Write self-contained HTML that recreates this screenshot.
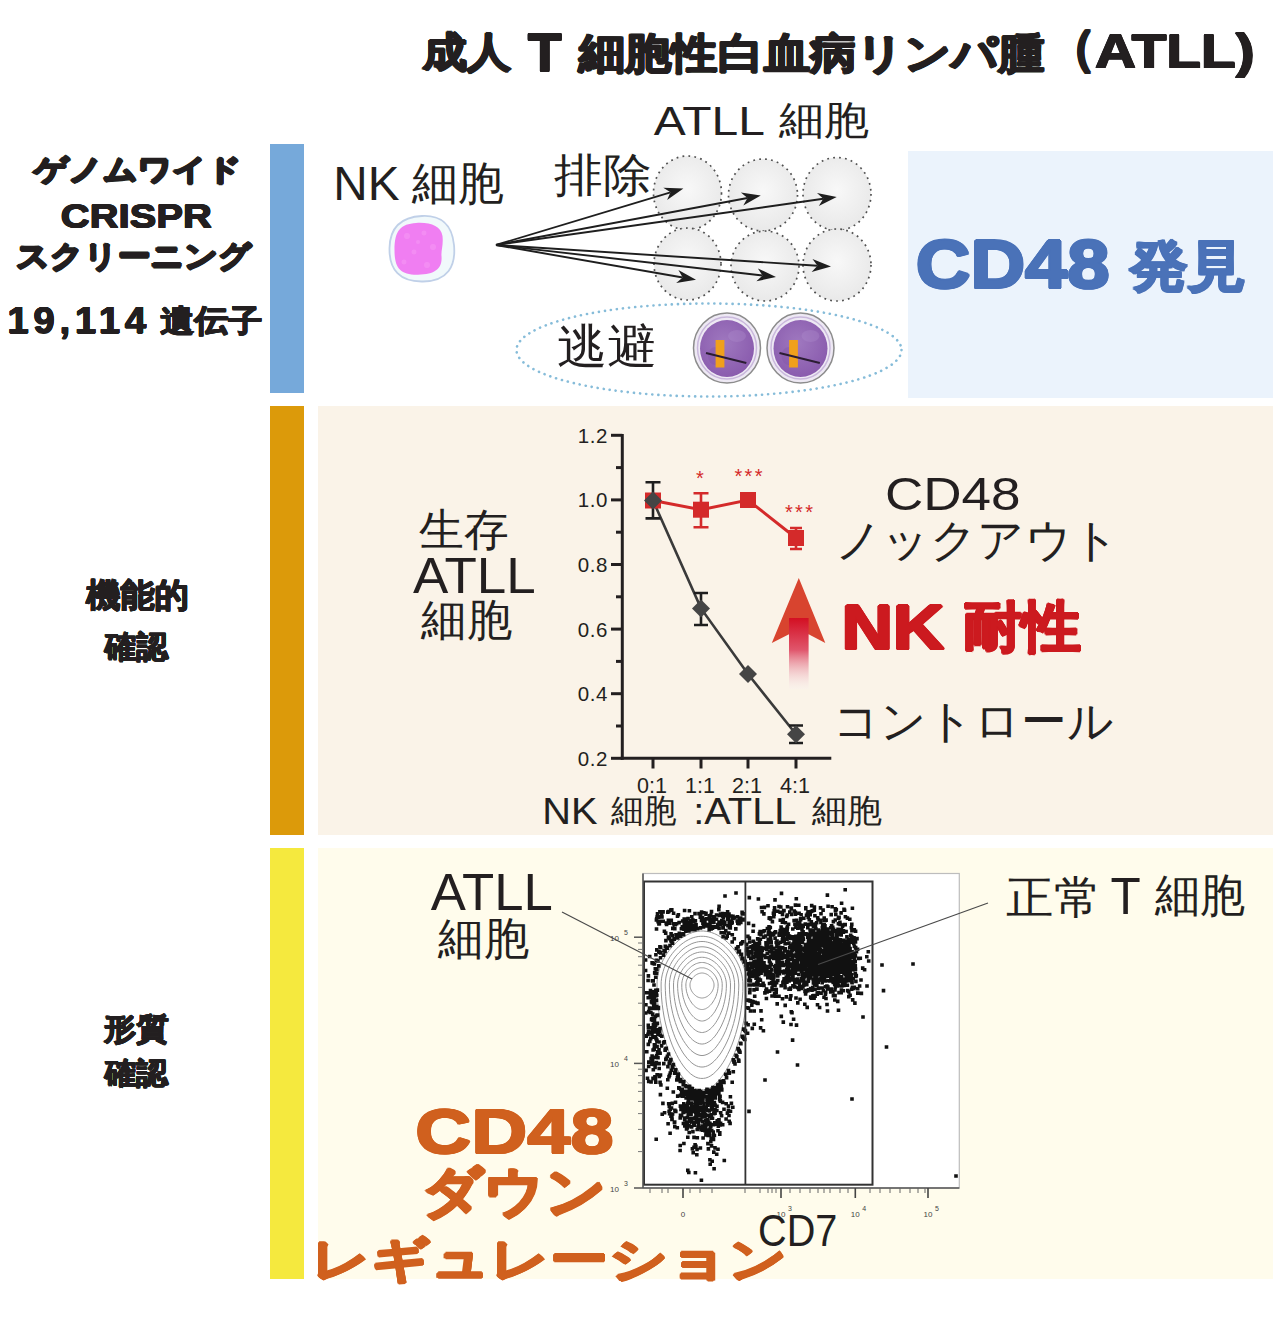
<!DOCTYPE html>
<html><head><meta charset="utf-8">
<style>
html,body{margin:0;padding:0;background:#fff;}
body{width:1280px;height:1324px;position:relative;overflow:hidden;font-family:"Liberation Sans",sans-serif;color:#231f20;}
.p{position:absolute;}
.t{position:absolute;left:0;top:0;white-space:nowrap;line-height:1;transform-origin:0 0;}
svg{position:absolute;left:0;top:0;}
</style></head><body>
<div class="p" style="left:270px;top:144px;width:34px;height:249px;background:#76a9da"></div>
<div class="p" style="left:270px;top:406px;width:34px;height:429px;background:#dc9a0a"></div>
<div class="p" style="left:270px;top:848px;width:34px;height:431px;background:#f5e93e"></div>
<div class="p" style="left:908px;top:151px;width:365px;height:247px;background:#ebf3fc"></div>
<div class="p" style="left:318px;top:406px;width:955px;height:429px;background:#faf3e8"></div>
<div class="p" style="left:318px;top:848px;width:955px;height:431px;background:#fffcec"></div>
<svg width="1280" height="1324" viewBox="0 0 1280 1324">
<defs><radialGradient id="cg" cx="50%" cy="45%" r="55%"><stop offset="0" stop-color="#f8f8f8"/><stop offset="1" stop-color="#e9e9e9"/></radialGradient><linearGradient id="shaft" x1="0" y1="0" x2="0" y2="1"><stop offset="0" stop-color="#d30f22"/><stop offset="0.45" stop-color="#e0566c"/><stop offset="1" stop-color="#f7eef0" stop-opacity="0.2"/></linearGradient><radialGradient id="pg" cx="45%" cy="40%" r="60%"><stop offset="0" stop-color="#9f78bf"/><stop offset="1" stop-color="#8a5cae"/></radialGradient></defs>
<ellipse cx="687.5" cy="193" rx="34" ry="37" fill="url(#cg)" stroke="#505050" stroke-width="1.7" stroke-dasharray="1.8 4.2"/>
<ellipse cx="763" cy="195" rx="34.5" ry="36" fill="url(#cg)" stroke="#505050" stroke-width="1.7" stroke-dasharray="1.8 4.2"/>
<ellipse cx="837" cy="194" rx="34" ry="36.5" fill="url(#cg)" stroke="#505050" stroke-width="1.7" stroke-dasharray="1.8 4.2"/>
<ellipse cx="687.5" cy="264" rx="33.5" ry="36" fill="url(#cg)" stroke="#505050" stroke-width="1.7" stroke-dasharray="1.8 4.2"/>
<ellipse cx="765" cy="266" rx="34" ry="35" fill="url(#cg)" stroke="#505050" stroke-width="1.7" stroke-dasharray="1.8 4.2"/>
<ellipse cx="837" cy="265" rx="34" ry="36" fill="url(#cg)" stroke="#505050" stroke-width="1.7" stroke-dasharray="1.8 4.2"/>
<line x1="496.0" y1="245.0" x2="670.5" y2="192.3" stroke="#1e1e1e" stroke-width="1.9"/>
<path d="M683.4 188.4L667.1 200.1L670.5 192.3L663.3 187.7Z" fill="#1e1e1e"/>
<line x1="496.0" y1="245.0" x2="747.5" y2="198.0" stroke="#1e1e1e" stroke-width="1.9"/>
<path d="M760.8 195.5L743.3 205.4L747.5 198.0L740.9 192.6Z" fill="#1e1e1e"/>
<line x1="496.0" y1="245.0" x2="823.3" y2="198.8" stroke="#1e1e1e" stroke-width="1.9"/>
<path d="M836.7 196.9L818.8 206.0L823.3 198.8L817.0 193.1Z" fill="#1e1e1e"/>
<line x1="496.0" y1="245.0" x2="817.5" y2="265.7" stroke="#1e1e1e" stroke-width="1.9"/>
<path d="M831.0 266.6L811.6 271.9L817.5 265.7L812.5 258.9Z" fill="#1e1e1e"/>
<line x1="496.0" y1="245.0" x2="762.6" y2="275.5" stroke="#1e1e1e" stroke-width="1.9"/>
<path d="M776.0 277.0L756.4 281.3L762.6 275.5L757.9 268.4Z" fill="#1e1e1e"/>
<line x1="496.0" y1="245.0" x2="682.7" y2="277.5" stroke="#1e1e1e" stroke-width="1.9"/>
<path d="M696.0 279.8L676.2 282.9L682.7 277.5L678.4 270.1Z" fill="#1e1e1e"/>
<path d="M422 216 C440 215 452 224 454 245 C456 266 448 281 423 281.5 C400 282 389 270 389.5 248 C390 226 402 217 422 216Z" fill="#f1f9fb" stroke="#c0d0e8" stroke-width="1.8"/>
<path d="M416 223 C430 222 441 226 442.5 236 C443.5 246 441 250 441.5 256 C442.5 268 436 274.5 418 274.7 C400 275 394.5 268 394.5 250 C394.5 230 401 224 416 223Z" fill="#f07ef2"/>
<circle cx="407" cy="236" r="3" fill="#f7a2f6" opacity="0.4"/>
<circle cx="424" cy="233" r="2.5" fill="#f7a2f6" opacity="0.4"/>
<circle cx="433" cy="247" r="3" fill="#f7a2f6" opacity="0.4"/>
<circle cx="414" cy="252" r="2.5" fill="#f7a2f6" opacity="0.4"/>
<circle cx="404" cy="262" r="2.5" fill="#f7a2f6" opacity="0.4"/>
<circle cx="427" cy="265" r="3" fill="#f7a2f6" opacity="0.4"/>
<circle cx="418" cy="242" r="2" fill="#f7a2f6" opacity="0.4"/>
<ellipse cx="709" cy="350" rx="192.5" ry="46.5" fill="none" stroke="#86bcd9" stroke-width="2.6" stroke-linecap="round" stroke-dasharray="0.1 6"/>
<ellipse cx="727" cy="348" rx="33.5" ry="35" fill="#eee9f4" stroke="#8c8c8c" stroke-width="1.5"/>
<ellipse cx="727" cy="348" rx="29.5" ry="31" fill="none" stroke="#c9b8dc" stroke-width="1.5"/>
<ellipse cx="727" cy="348.5" rx="27" ry="28.5" fill="url(#pg)"/>
<ellipse cx="737" cy="336" rx="9" ry="6" fill="#b291cf" opacity="0.3"/>
<ellipse cx="715" cy="356" rx="7" ry="9" fill="#7d4fa3" opacity="0.3"/>
<rect x="715.6" y="340" width="8.8" height="27.5" fill="#f0a01c"/>
<line x1="706.0" y1="353" x2="746.3" y2="363" stroke="#2b1d33" stroke-width="2"/>
<ellipse cx="800.5" cy="348" rx="33.5" ry="35" fill="#eee9f4" stroke="#8c8c8c" stroke-width="1.5"/>
<ellipse cx="800.5" cy="348" rx="29.5" ry="31" fill="none" stroke="#c9b8dc" stroke-width="1.5"/>
<ellipse cx="800.5" cy="348.5" rx="27" ry="28.5" fill="url(#pg)"/>
<ellipse cx="810.5" cy="336" rx="9" ry="6" fill="#b291cf" opacity="0.3"/>
<ellipse cx="788.5" cy="356" rx="7" ry="9" fill="#7d4fa3" opacity="0.3"/>
<rect x="789.1" y="340" width="8.8" height="27.5" fill="#f0a01c"/>
<line x1="779.5" y1="353" x2="819.8" y2="363" stroke="#2b1d33" stroke-width="2"/>
<g stroke="#231f20" stroke-width="3" fill="none">
<line x1="622.3" y1="434" x2="622.3" y2="759.8"/>
<line x1="620.8" y1="758.3" x2="831.3" y2="758.3"/>
<line x1="611" y1="435.3" x2="622.3" y2="435.3"/>
<line x1="616" y1="467.6" x2="622.3" y2="467.6"/>
<line x1="611" y1="499.9" x2="622.3" y2="499.9"/>
<line x1="616" y1="532.2" x2="622.3" y2="532.2"/>
<line x1="611" y1="564.5" x2="622.3" y2="564.5"/>
<line x1="616" y1="596.8" x2="622.3" y2="596.8"/>
<line x1="611" y1="629.1" x2="622.3" y2="629.1"/>
<line x1="616" y1="661.4" x2="622.3" y2="661.4"/>
<line x1="611" y1="693.7" x2="622.3" y2="693.7"/>
<line x1="616" y1="726.0" x2="622.3" y2="726.0"/>
<line x1="611" y1="758.3" x2="622.3" y2="758.3"/>
<line x1="653" y1="758.3" x2="653" y2="768.5"/>
<line x1="701" y1="758.3" x2="701" y2="768.5"/>
<line x1="748" y1="758.3" x2="748" y2="768.5"/>
<line x1="796" y1="758.3" x2="796" y2="768.5"/>
</g>
<g font-family="Liberation Sans" font-size="20.5" fill="#231f20" text-anchor="end" letter-spacing="0.6">
<text x="608" y="442.8">1.2</text>
<text x="608" y="507.4">1.0</text>
<text x="608" y="572.0">0.8</text>
<text x="608" y="636.6">0.6</text>
<text x="608" y="701.2">0.4</text>
<text x="608" y="765.8">0.2</text>
</g>
<g font-family="Liberation Sans" font-size="21.5" fill="#231f20" text-anchor="middle">
<text x="652" y="792.5">0:1</text>
<text x="700" y="792.5">1:1</text>
<text x="747" y="792.5">2:1</text>
<text x="795" y="792.5">4:1</text>
</g>
<polyline points="653,500.5 701,509.7 748,500 796,538" fill="none" stroke="#d42a2a" stroke-width="3"/>
<polyline points="653,500.5 701,608.4 748,674 796,734.2" fill="none" stroke="#3a3a3a" stroke-width="2.6"/>
<path d="M701 493.3V527.2 M693.5 493.3H708.5 M693.5 527.2H708.5" stroke="#d42a2a" stroke-width="2.6" fill="none"/>
<path d="M796 528V549 M790.0 528H802.0 M790.0 549H802.0" stroke="#d42a2a" stroke-width="2.6" fill="none"/>
<rect x="645.0" y="492.5" width="16" height="16" fill="#d42a2a"/>
<rect x="693.0" y="501.7" width="16" height="16" fill="#d42a2a"/>
<rect x="740.0" y="492.0" width="16" height="16" fill="#d42a2a"/>
<rect x="788.0" y="530.0" width="16" height="16" fill="#d42a2a"/>
<path d="M653 482.3V518.4 M645.5 482.3H660.5 M645.5 518.4H660.5" stroke="#1e1e1e" stroke-width="2.6" fill="none"/>
<path d="M701 593V625 M694.0 593H708.0 M694.0 625H708.0" stroke="#1e1e1e" stroke-width="2.6" fill="none"/>
<path d="M796 725.5V743 M789.0 725.5H803.0 M789.0 743H803.0" stroke="#1e1e1e" stroke-width="2.6" fill="none"/>
<path d="M653 491.5L662 500.5L653 509.5L644 500.5Z" fill="#454545"/>
<path d="M701 599.4L710 608.4L701 617.4L692 608.4Z" fill="#454545"/>
<path d="M748 665L757 674L748 683L739 674Z" fill="#454545"/>
<path d="M796 725.2L805 734.2L796 743.2L787 734.2Z" fill="#454545"/>
<g font-family="Liberation Sans" font-size="20" fill="#d42a2a">
<text x="696" y="484.5">*</text><text x="734.5" y="482.5" letter-spacing="2.3">***</text><text x="785" y="518.7" letter-spacing="2.3">***</text>
</g>
<path d="M798.8 578L825.3 643.1L808.6 634.3L789 634.3L771.8 643.1Z" fill="#d8442f"/>
<rect x="789" y="618" width="19.6" height="71" fill="url(#shaft)"/>
<rect x="643" y="873.5" width="316.3" height="314.5" fill="#ffffff" stroke="#bdbdbd" stroke-width="1.2"/>
<path d="M747.0 985.0 L746.9 992.3 L746.5 999.6 L745.8 1006.8 L744.9 1013.9 L743.7 1020.9 L742.3 1027.7 L740.7 1034.3 L738.9 1040.6 L736.9 1046.7 L734.8 1052.5 L732.5 1057.9 L730.1 1063.0 L727.6 1067.7 L725.1 1072.0 L722.5 1075.9 L719.8 1079.4 L717.1 1082.4 L714.4 1084.9 L711.7 1086.9 L708.9 1088.4 L706.1 1089.4 L703.4 1089.9 L700.6 1089.9 L697.9 1089.4 L695.1 1088.4 L692.3 1086.9 L689.6 1084.9 L686.9 1082.4 L684.2 1079.4 L681.5 1075.9 L678.9 1072.0 L676.4 1067.7 L673.9 1063.0 L671.5 1057.9 L669.2 1052.5 L667.1 1046.7 L665.1 1040.6 L663.3 1034.3 L661.7 1027.7 L660.3 1020.9 L659.1 1013.9 L658.2 1006.8 L657.5 999.6 L657.1 992.3 L657.0 985.0 L657.1 981.2 L657.5 977.5 L658.2 973.8 L659.1 970.1 L660.3 966.5 L661.7 963.0 L663.3 959.6 L665.1 956.4 L667.1 953.3 L669.2 950.3 L671.5 947.5 L673.9 944.9 L676.4 942.4 L678.9 940.2 L681.5 938.2 L684.2 936.5 L686.9 934.9 L689.6 933.6 L692.3 932.6 L695.1 931.8 L697.9 931.3 L700.6 931.0 L703.4 931.0 L706.1 931.3 L708.9 931.8 L711.7 932.6 L714.4 933.6 L717.1 934.9 L719.8 936.5 L722.5 938.2 L725.1 940.2 L727.6 942.4 L730.1 944.9 L732.5 947.5 L734.8 950.3 L736.9 953.3 L738.9 956.4 L740.7 959.6 L742.3 963.0 L743.7 966.5 L744.9 970.1 L745.8 973.8 L746.5 977.5 L746.9 981.2Z" fill="#fff" stroke="#959595" stroke-width="1"/>
<path d="M742.9 985.0 L742.8 991.5 L742.4 998.0 L741.8 1004.4 L740.9 1010.8 L739.9 1017.0 L738.6 1023.0 L737.1 1028.9 L735.5 1034.5 L733.7 1040.0 L731.8 1045.1 L729.7 1050.0 L727.5 1054.5 L725.3 1058.7 L723.0 1062.5 L720.6 1066.0 L718.2 1069.0 L715.7 1071.7 L713.3 1073.9 L710.8 1075.7 L708.3 1077.1 L705.8 1078.0 L703.3 1078.4 L700.7 1078.4 L698.2 1078.0 L695.7 1077.1 L693.2 1075.7 L690.7 1073.9 L688.3 1071.7 L685.8 1069.0 L683.4 1066.0 L681.0 1062.5 L678.7 1058.7 L676.5 1054.5 L674.3 1050.0 L672.2 1045.1 L670.3 1040.0 L668.5 1034.5 L666.9 1028.9 L665.4 1023.0 L664.1 1017.0 L663.1 1010.8 L662.2 1004.4 L661.6 998.0 L661.2 991.5 L661.1 985.0 L661.2 981.6 L661.6 978.2 L662.2 974.9 L663.1 971.6 L664.1 968.3 L665.4 965.2 L666.9 962.1 L668.5 959.2 L670.3 956.3 L672.2 953.7 L674.3 951.1 L676.5 948.8 L678.7 946.6 L681.0 944.6 L683.4 942.8 L685.8 941.2 L688.3 939.8 L690.7 938.6 L693.2 937.7 L695.7 937.0 L698.2 936.5 L700.7 936.3 L703.3 936.3 L705.8 936.5 L708.3 937.0 L710.8 937.7 L713.3 938.6 L715.7 939.8 L718.2 941.2 L720.6 942.8 L723.0 944.6 L725.3 946.6 L727.5 948.8 L729.7 951.1 L731.8 953.7 L733.7 956.3 L735.5 959.2 L737.1 962.1 L738.6 965.2 L739.9 968.3 L740.9 971.6 L741.8 974.9 L742.4 978.2 L742.8 981.6Z" fill="none" stroke="#959595" stroke-width="1"/>
<path d="M738.8 985.0 L738.6 990.7 L738.3 996.4 L737.8 1002.0 L737.0 1007.6 L736.0 1013.0 L734.9 1018.4 L733.6 1023.5 L732.1 1028.5 L730.5 1033.2 L728.8 1037.7 L726.9 1042.0 L725.0 1045.9 L722.9 1049.6 L720.9 1053.0 L718.7 1056.0 L716.5 1058.7 L714.3 1061.0 L712.1 1063.0 L709.9 1064.6 L707.6 1065.8 L705.4 1066.6 L703.1 1067.0 L700.9 1067.0 L698.6 1066.6 L696.4 1065.8 L694.1 1064.6 L691.9 1063.0 L689.7 1061.0 L687.5 1058.7 L685.3 1056.0 L683.1 1053.0 L681.1 1049.6 L679.0 1045.9 L677.1 1042.0 L675.2 1037.7 L673.5 1033.2 L671.9 1028.5 L670.4 1023.5 L669.1 1018.4 L668.0 1013.0 L667.0 1007.6 L666.2 1002.0 L665.7 996.4 L665.4 990.7 L665.2 985.0 L665.4 982.0 L665.7 978.9 L666.2 976.0 L667.0 973.0 L668.0 970.1 L669.1 967.3 L670.4 964.6 L671.9 961.9 L673.5 959.4 L675.2 957.0 L677.1 954.8 L679.0 952.7 L681.1 950.7 L683.1 948.9 L685.3 947.3 L687.5 945.9 L689.7 944.7 L691.9 943.6 L694.1 942.8 L696.4 942.2 L698.6 941.7 L700.9 941.5 L703.1 941.5 L705.4 941.7 L707.6 942.2 L709.9 942.8 L712.1 943.6 L714.3 944.7 L716.5 945.9 L718.7 947.3 L720.9 948.9 L722.9 950.7 L725.0 952.7 L726.9 954.8 L728.8 957.0 L730.5 959.4 L732.1 961.9 L733.6 964.6 L734.9 967.3 L736.0 970.1 L737.0 973.0 L737.8 976.0 L738.3 978.9 L738.6 982.0Z" fill="none" stroke="#959595" stroke-width="1"/>
<path d="M734.6 985.0 L734.5 989.9 L734.2 994.8 L733.7 999.7 L733.1 1004.4 L732.2 1009.1 L731.2 1013.7 L730.0 1018.1 L728.7 1022.4 L727.3 1026.4 L725.8 1030.3 L724.1 1034.0 L722.4 1037.4 L720.6 1040.6 L718.7 1043.4 L716.8 1046.1 L714.9 1048.4 L713.0 1050.4 L711.0 1052.0 L709.0 1053.4 L707.0 1054.4 L705.0 1055.1 L703.0 1055.5 L701.0 1055.5 L699.0 1055.1 L697.0 1054.4 L695.0 1053.4 L693.0 1052.0 L691.0 1050.4 L689.1 1048.4 L687.2 1046.1 L685.3 1043.4 L683.4 1040.6 L681.6 1037.4 L679.9 1034.0 L678.2 1030.3 L676.7 1026.4 L675.3 1022.4 L674.0 1018.1 L672.8 1013.7 L671.8 1009.1 L670.9 1004.4 L670.3 999.7 L669.8 994.8 L669.5 989.9 L669.4 985.0 L669.5 982.3 L669.8 979.7 L670.3 977.0 L670.9 974.5 L671.8 971.9 L672.8 969.4 L674.0 967.0 L675.3 964.7 L676.7 962.5 L678.2 960.4 L679.9 958.4 L681.6 956.6 L683.4 954.9 L685.3 953.3 L687.2 951.9 L689.1 950.6 L691.0 949.5 L693.0 948.6 L695.0 947.9 L697.0 947.3 L699.0 947.0 L701.0 946.8 L703.0 946.8 L705.0 947.0 L707.0 947.3 L709.0 947.9 L711.0 948.6 L713.0 949.5 L714.9 950.6 L716.8 951.9 L718.7 953.3 L720.6 954.9 L722.4 956.6 L724.1 958.4 L725.8 960.4 L727.3 962.5 L728.7 964.7 L730.0 967.0 L731.2 969.4 L732.2 971.9 L733.1 974.5 L733.7 977.0 L734.2 979.7 L734.5 982.3Z" fill="none" stroke="#959595" stroke-width="1"/>
<path d="M730.5 985.0 L730.4 989.1 L730.2 993.2 L729.7 997.3 L729.1 1001.3 L728.4 1005.2 L727.5 1009.0 L726.5 1012.7 L725.4 1016.3 L724.1 1019.7 L722.7 1022.9 L721.3 1026.0 L719.8 1028.8 L718.2 1031.5 L716.6 1033.9 L715.0 1036.1 L713.3 1038.0 L711.6 1039.7 L709.9 1041.1 L708.1 1042.2 L706.4 1043.1 L704.6 1043.7 L702.9 1044.0 L701.1 1044.0 L699.4 1043.7 L697.6 1043.1 L695.9 1042.2 L694.1 1041.1 L692.4 1039.7 L690.7 1038.0 L689.0 1036.1 L687.4 1033.9 L685.8 1031.5 L684.2 1028.8 L682.7 1026.0 L681.3 1022.9 L679.9 1019.7 L678.6 1016.3 L677.5 1012.7 L676.5 1009.0 L675.6 1005.2 L674.9 1001.3 L674.3 997.3 L673.8 993.2 L673.6 989.1 L673.5 985.0 L673.6 982.7 L673.8 980.4 L674.3 978.1 L674.9 975.9 L675.6 973.7 L676.5 971.6 L677.5 969.5 L678.6 967.5 L679.9 965.6 L681.3 963.8 L682.7 962.1 L684.2 960.5 L685.8 959.0 L687.4 957.6 L689.0 956.4 L690.7 955.3 L692.4 954.4 L694.1 953.6 L695.9 953.0 L697.6 952.5 L699.4 952.2 L701.1 952.0 L702.9 952.0 L704.6 952.2 L706.4 952.5 L708.1 953.0 L709.9 953.6 L711.6 954.4 L713.3 955.3 L715.0 956.4 L716.6 957.6 L718.2 959.0 L719.8 960.5 L721.3 962.1 L722.7 963.8 L724.1 965.6 L725.4 967.5 L726.5 969.5 L727.5 971.6 L728.4 973.7 L729.1 975.9 L729.7 978.1 L730.2 980.4 L730.4 982.7Z" fill="none" stroke="#959595" stroke-width="1"/>
<path d="M726.4 985.0 L726.3 988.3 L726.1 991.6 L725.7 994.9 L725.2 998.1 L724.6 1001.2 L723.8 1004.3 L723.0 1007.3 L722.0 1010.2 L720.9 1012.9 L719.7 1015.5 L718.5 1018.0 L717.2 1020.3 L715.9 1022.4 L714.5 1024.4 L713.1 1026.1 L711.6 1027.7 L710.2 1029.0 L708.7 1030.2 L707.2 1031.1 L705.7 1031.8 L704.2 1032.2 L702.7 1032.5 L701.3 1032.5 L699.8 1032.2 L698.3 1031.8 L696.8 1031.1 L695.3 1030.2 L693.8 1029.0 L692.4 1027.7 L690.9 1026.1 L689.5 1024.4 L688.1 1022.4 L686.8 1020.3 L685.5 1018.0 L684.3 1015.5 L683.1 1012.9 L682.0 1010.2 L681.0 1007.3 L680.2 1004.3 L679.4 1001.2 L678.8 998.1 L678.3 994.9 L677.9 991.6 L677.7 988.3 L677.6 985.0 L677.7 983.1 L677.9 981.1 L678.3 979.2 L678.8 977.4 L679.4 975.5 L680.2 973.7 L681.0 972.0 L682.0 970.3 L683.1 968.7 L684.3 967.2 L685.5 965.7 L686.8 964.4 L688.1 963.1 L689.5 962.0 L690.9 961.0 L692.4 960.1 L693.8 959.3 L695.3 958.6 L696.8 958.1 L698.3 957.7 L699.8 957.4 L701.3 957.3 L702.7 957.3 L704.2 957.4 L705.7 957.7 L707.2 958.1 L708.7 958.6 L710.2 959.3 L711.6 960.1 L713.1 961.0 L714.5 962.0 L715.9 963.1 L717.2 964.4 L718.5 965.7 L719.7 967.2 L720.9 968.7 L722.0 970.3 L723.0 972.0 L723.8 973.7 L724.6 975.5 L725.2 977.4 L725.7 979.2 L726.1 981.1 L726.3 983.1Z" fill="none" stroke="#959595" stroke-width="1"/>
<path d="M722.2 985.0 L722.2 987.5 L722.0 990.0 L721.7 992.5 L721.3 994.9 L720.8 997.3 L720.1 999.6 L719.4 1001.9 L718.6 1004.1 L717.7 1006.2 L716.7 1008.1 L715.7 1010.0 L714.7 1011.8 L713.5 1013.4 L712.4 1014.8 L711.2 1016.2 L710.0 1017.4 L708.8 1018.4 L707.6 1019.2 L706.3 1019.9 L705.1 1020.5 L703.9 1020.8 L702.6 1021.0 L701.4 1021.0 L700.1 1020.8 L698.9 1020.5 L697.7 1019.9 L696.4 1019.2 L695.2 1018.4 L694.0 1017.4 L692.8 1016.2 L691.6 1014.8 L690.5 1013.4 L689.3 1011.8 L688.3 1010.0 L687.3 1008.1 L686.3 1006.2 L685.4 1004.1 L684.6 1001.9 L683.9 999.6 L683.2 997.3 L682.7 994.9 L682.3 992.5 L682.0 990.0 L681.8 987.5 L681.8 985.0 L681.8 983.4 L682.0 981.9 L682.3 980.3 L682.7 978.8 L683.2 977.3 L683.9 975.8 L684.6 974.4 L685.4 973.1 L686.3 971.8 L687.3 970.5 L688.3 969.4 L689.3 968.3 L690.5 967.3 L691.6 966.3 L692.8 965.5 L694.0 964.8 L695.2 964.1 L696.4 963.6 L697.7 963.2 L698.9 962.8 L700.1 962.6 L701.4 962.5 L702.6 962.5 L703.9 962.6 L705.1 962.8 L706.3 963.2 L707.6 963.6 L708.8 964.1 L710.0 964.8 L711.2 965.5 L712.4 966.3 L713.5 967.3 L714.7 968.3 L715.7 969.4 L716.7 970.5 L717.7 971.8 L718.6 973.1 L719.4 974.4 L720.1 975.8 L720.8 977.3 L721.3 978.8 L721.7 980.3 L722.0 981.9 L722.2 983.4Z" fill="none" stroke="#959595" stroke-width="1"/>
<path d="M718.1 985.0 L718.1 986.7 L717.9 988.4 L717.7 990.1 L717.4 991.8 L716.9 993.4 L716.4 995.0 L715.9 996.5 L715.2 998.0 L714.5 999.4 L713.7 1000.7 L712.9 1002.0 L712.1 1003.2 L711.2 1004.3 L710.3 1005.3 L709.3 1006.2 L708.4 1007.0 L707.4 1007.7 L706.4 1008.3 L705.5 1008.8 L704.5 1009.1 L703.5 1009.4 L702.5 1009.5 L701.5 1009.5 L700.5 1009.4 L699.5 1009.1 L698.5 1008.8 L697.6 1008.3 L696.6 1007.7 L695.6 1007.0 L694.7 1006.2 L693.7 1005.3 L692.8 1004.3 L691.9 1003.2 L691.1 1002.0 L690.3 1000.7 L689.5 999.4 L688.8 998.0 L688.1 996.5 L687.6 995.0 L687.1 993.4 L686.6 991.8 L686.3 990.1 L686.1 988.4 L685.9 986.7 L685.9 985.0 L685.9 983.8 L686.1 982.6 L686.3 981.4 L686.6 980.2 L687.1 979.1 L687.6 978.0 L688.1 976.9 L688.8 975.9 L689.5 974.9 L690.3 973.9 L691.1 973.0 L691.9 972.2 L692.8 971.4 L693.7 970.7 L694.7 970.1 L695.6 969.5 L696.6 969.0 L697.6 968.6 L698.5 968.3 L699.5 968.0 L700.5 967.8 L701.5 967.8 L702.5 967.8 L703.5 967.8 L704.5 968.0 L705.5 968.3 L706.4 968.6 L707.4 969.0 L708.4 969.5 L709.3 970.1 L710.3 970.7 L711.2 971.4 L712.1 972.2 L712.9 973.0 L713.7 973.9 L714.5 974.9 L715.2 975.9 L715.9 976.9 L716.4 978.0 L716.9 979.1 L717.4 980.2 L717.7 981.4 L717.9 982.6 L718.1 983.8Z" fill="none" stroke="#959595" stroke-width="1"/>
<path d="M714.0 985.0 L714.0 985.9 L713.9 986.8 L713.7 987.7 L713.4 988.6 L713.1 989.4 L712.7 990.3 L712.3 991.1 L711.8 991.9 L711.3 992.6 L710.7 993.4 L710.1 994.0 L709.5 994.7 L708.8 995.2 L708.2 995.8 L707.5 996.3 L706.8 996.7 L706.0 997.1 L705.3 997.4 L704.6 997.6 L703.8 997.8 L703.1 997.9 L702.4 998.0 L701.6 998.0 L700.9 997.9 L700.2 997.8 L699.4 997.6 L698.7 997.4 L698.0 997.1 L697.2 996.7 L696.5 996.3 L695.8 995.8 L695.2 995.2 L694.5 994.7 L693.9 994.0 L693.3 993.4 L692.7 992.6 L692.2 991.9 L691.7 991.1 L691.3 990.3 L690.9 989.4 L690.6 988.6 L690.3 987.7 L690.1 986.8 L690.0 985.9 L690.0 985.0 L690.0 984.2 L690.1 983.3 L690.3 982.5 L690.6 981.7 L690.9 980.9 L691.3 980.1 L691.7 979.4 L692.2 978.6 L692.7 977.9 L693.3 977.3 L693.9 976.7 L694.5 976.1 L695.2 975.5 L695.8 975.1 L696.5 974.6 L697.2 974.2 L698.0 973.9 L698.7 973.6 L699.4 973.4 L700.2 973.2 L700.9 973.1 L701.6 973.0 L702.4 973.0 L703.1 973.1 L703.8 973.2 L704.6 973.4 L705.3 973.6 L706.0 973.9 L706.8 974.2 L707.5 974.6 L708.2 975.1 L708.8 975.5 L709.5 976.1 L710.1 976.7 L710.7 977.3 L711.3 977.9 L711.8 978.6 L712.3 979.4 L712.7 980.1 L713.1 980.9 L713.4 981.7 L713.7 982.5 L713.9 983.3 L714.0 984.2Z" fill="none" stroke="#959595" stroke-width="1"/>
<path fill="#111" d="M651.4 1016.2h3.6v3.6h-3.6zM742.9 1028.4h3.6v3.6h-3.6zM736.4 1047.2h3.6v3.6h-3.6zM719.4 931.0h3.6v3.6h-3.6zM742.0 1036.4h3.6v3.6h-3.6zM732.1 1059.6h3.6v3.6h-3.6zM663.7 944.6h3.6v3.6h-3.6zM707.6 926.4h3.6v3.6h-3.6zM658.9 945.6h3.6v3.6h-3.6zM684.4 1084.8h3.6v3.6h-3.6zM741.0 940.0h3.6v3.6h-3.6zM718.8 921.7h3.6v3.6h-3.6zM723.0 921.0h3.6v3.6h-3.6zM750.5 1026.6h3.6v3.6h-3.6zM710.7 926.3h3.6v3.6h-3.6zM713.3 1088.4h3.6v3.6h-3.6zM704.8 924.2h3.6v3.6h-3.6zM748.8 970.7h3.6v3.6h-3.6zM698.7 1095.9h3.6v3.6h-3.6zM695.8 1093.8h3.6v3.6h-3.6zM646.6 974.1h3.6v3.6h-3.6zM714.2 925.1h3.6v3.6h-3.6zM743.0 1037.7h3.6v3.6h-3.6zM701.7 923.0h3.6v3.6h-3.6zM663.3 949.7h3.6v3.6h-3.6zM670.4 933.7h3.6v3.6h-3.6zM650.6 979.0h3.6v3.6h-3.6zM756.7 978.5h3.6v3.6h-3.6zM675.6 1076.0h3.6v3.6h-3.6zM686.9 928.0h3.6v3.6h-3.6zM653.7 998.5h3.6v3.6h-3.6zM738.2 1050.5h3.6v3.6h-3.6zM721.8 1079.1h3.6v3.6h-3.6zM654.1 998.4h3.6v3.6h-3.6zM710.5 1092.3h3.6v3.6h-3.6zM745.6 963.1h3.6v3.6h-3.6zM736.2 1046.8h3.6v3.6h-3.6zM651.5 1025.2h3.6v3.6h-3.6zM651.7 999.1h3.6v3.6h-3.6zM721.1 926.1h3.6v3.6h-3.6zM672.5 937.3h3.6v3.6h-3.6zM668.7 1058.6h3.6v3.6h-3.6zM678.8 934.4h3.6v3.6h-3.6zM748.6 979.1h3.6v3.6h-3.6zM651.1 1035.3h3.6v3.6h-3.6zM662.6 929.5h3.6v3.6h-3.6zM663.3 1048.5h3.6v3.6h-3.6zM751.1 999.9h3.6v3.6h-3.6zM730.4 940.2h3.6v3.6h-3.6zM724.8 1075.8h3.6v3.6h-3.6zM664.5 1046.4h3.6v3.6h-3.6zM718.4 1079.5h3.6v3.6h-3.6zM686.0 924.5h3.6v3.6h-3.6zM734.9 1054.8h3.6v3.6h-3.6zM664.5 1056.8h3.6v3.6h-3.6zM716.3 1087.0h3.6v3.6h-3.6zM662.0 1061.8h3.6v3.6h-3.6zM655.0 948.1h3.6v3.6h-3.6zM654.2 971.4h3.6v3.6h-3.6zM681.7 1081.2h3.6v3.6h-3.6zM681.5 1082.0h3.6v3.6h-3.6zM742.4 960.2h3.6v3.6h-3.6zM724.0 928.8h3.6v3.6h-3.6zM698.8 1089.7h3.6v3.6h-3.6zM661.7 953.3h3.6v3.6h-3.6zM701.8 922.5h3.6v3.6h-3.6zM719.3 1084.6h3.6v3.6h-3.6zM755.3 973.9h3.6v3.6h-3.6zM749.6 950.8h3.6v3.6h-3.6zM744.9 967.7h3.6v3.6h-3.6zM751.8 970.0h3.6v3.6h-3.6zM711.0 924.7h3.6v3.6h-3.6zM727.4 1071.0h3.6v3.6h-3.6zM681.4 931.9h3.6v3.6h-3.6zM738.8 1041.4h3.6v3.6h-3.6zM690.1 1089.3h3.6v3.6h-3.6zM724.5 936.2h3.6v3.6h-3.6zM745.8 1031.5h3.6v3.6h-3.6zM701.7 923.1h3.6v3.6h-3.6zM731.5 1070.0h3.6v3.6h-3.6zM737.1 1048.5h3.6v3.6h-3.6zM690.2 1089.1h3.6v3.6h-3.6zM673.5 1069.5h3.6v3.6h-3.6zM648.5 991.6h3.6v3.6h-3.6zM724.7 1075.6h3.6v3.6h-3.6zM682.7 925.3h3.6v3.6h-3.6zM681.8 933.0h3.6v3.6h-3.6zM657.2 1028.7h3.6v3.6h-3.6zM653.0 998.7h3.6v3.6h-3.6zM668.5 1071.2h3.6v3.6h-3.6zM695.8 926.8h3.6v3.6h-3.6zM750.0 999.6h3.6v3.6h-3.6zM713.4 1089.4h3.6v3.6h-3.6zM698.5 915.4h3.6v3.6h-3.6zM653.3 1043.0h3.6v3.6h-3.6zM748.2 979.2h3.6v3.6h-3.6zM667.2 1074.9h3.6v3.6h-3.6zM652.2 983.2h3.6v3.6h-3.6zM683.3 1092.1h3.6v3.6h-3.6zM653.2 1006.6h3.6v3.6h-3.6zM737.6 949.2h3.6v3.6h-3.6zM695.6 1099.9h3.6v3.6h-3.6zM678.5 1079.6h3.6v3.6h-3.6zM680.4 1087.8h3.6v3.6h-3.6zM692.8 1093.7h3.6v3.6h-3.6zM745.9 1006.0h3.6v3.6h-3.6zM746.8 1006.5h3.6v3.6h-3.6zM695.7 1095.7h3.6v3.6h-3.6zM750.4 974.7h3.6v3.6h-3.6zM650.5 991.3h3.6v3.6h-3.6zM651.4 979.1h3.6v3.6h-3.6zM678.6 933.8h3.6v3.6h-3.6zM693.0 1091.7h3.6v3.6h-3.6zM732.5 937.0h3.6v3.6h-3.6zM755.4 983.2h3.6v3.6h-3.6zM739.1 953.0h3.6v3.6h-3.6zM734.3 1053.4h3.6v3.6h-3.6zM653.5 967.0h3.6v3.6h-3.6zM692.9 1091.8h3.6v3.6h-3.6zM736.6 950.1h3.6v3.6h-3.6zM644.0 1011.2h3.6v3.6h-3.6zM650.3 961.1h3.6v3.6h-3.6zM671.0 926.6h3.6v3.6h-3.6zM707.8 1096.5h3.6v3.6h-3.6zM704.5 1090.5h3.6v3.6h-3.6zM721.3 935.0h3.6v3.6h-3.6zM675.9 936.1h3.6v3.6h-3.6zM725.4 934.3h3.6v3.6h-3.6zM677.9 932.3h3.6v3.6h-3.6zM707.9 923.9h3.6v3.6h-3.6zM707.4 927.8h3.6v3.6h-3.6zM740.8 956.6h3.6v3.6h-3.6zM730.4 1080.5h3.6v3.6h-3.6zM664.8 945.7h3.6v3.6h-3.6zM695.9 1091.0h3.6v3.6h-3.6zM673.0 1070.9h3.6v3.6h-3.6zM687.5 1085.7h3.6v3.6h-3.6zM723.0 931.1h3.6v3.6h-3.6zM655.8 1013.2h3.6v3.6h-3.6zM719.5 1085.2h3.6v3.6h-3.6zM742.7 1037.4h3.6v3.6h-3.6zM672.2 936.8h3.6v3.6h-3.6zM751.7 955.1h3.6v3.6h-3.6zM657.0 949.7h3.6v3.6h-3.6zM689.8 927.0h3.6v3.6h-3.6zM692.8 926.0h3.6v3.6h-3.6zM753.0 1000.5h3.6v3.6h-3.6zM730.5 933.0h3.6v3.6h-3.6zM747.3 983.2h3.6v3.6h-3.6zM713.2 1087.9h3.6v3.6h-3.6zM678.2 933.0h3.6v3.6h-3.6zM741.1 1035.3h3.6v3.6h-3.6zM653.6 1014.7h3.6v3.6h-3.6zM679.6 926.9h3.6v3.6h-3.6zM726.7 1068.8h3.6v3.6h-3.6zM695.9 1090.5h3.6v3.6h-3.6zM665.6 1054.4h3.6v3.6h-3.6zM670.8 941.3h3.6v3.6h-3.6zM712.4 917.0h3.6v3.6h-3.6zM739.1 1041.9h3.6v3.6h-3.6zM664.1 938.8h3.6v3.6h-3.6zM734.0 927.1h3.6v3.6h-3.6zM692.9 927.0h3.6v3.6h-3.6zM692.5 924.0h3.6v3.6h-3.6zM701.7 925.2h3.6v3.6h-3.6zM675.0 1078.2h3.6v3.6h-3.6zM758.6 978.3h3.6v3.6h-3.6zM671.0 1064.3h3.6v3.6h-3.6zM710.7 926.2h3.6v3.6h-3.6zM669.8 939.8h3.6v3.6h-3.6zM716.3 1087.2h3.6v3.6h-3.6zM655.1 1022.0h3.6v3.6h-3.6zM737.3 1048.8h3.6v3.6h-3.6zM686.9 1090.1h3.6v3.6h-3.6zM744.2 963.7h3.6v3.6h-3.6zM710.3 1089.5h3.6v3.6h-3.6zM739.7 952.6h3.6v3.6h-3.6zM716.0 1084.8h3.6v3.6h-3.6zM675.1 934.6h3.6v3.6h-3.6zM643.8 958.2h3.6v3.6h-3.6zM683.3 927.3h3.6v3.6h-3.6zM683.7 1089.6h3.6v3.6h-3.6zM707.6 1093.3h3.6v3.6h-3.6zM649.6 999.8h3.6v3.6h-3.6zM732.3 1060.0h3.6v3.6h-3.6zM646.3 978.7h3.6v3.6h-3.6zM668.2 943.8h3.6v3.6h-3.6zM751.2 1000.0h3.6v3.6h-3.6zM659.8 1044.1h3.6v3.6h-3.6zM692.7 925.7h3.6v3.6h-3.6zM682.0 1079.8h3.6v3.6h-3.6zM727.5 1071.3h3.6v3.6h-3.6zM698.8 1092.0h3.6v3.6h-3.6zM669.0 1057.9h3.6v3.6h-3.6zM755.0 964.2h3.6v3.6h-3.6zM669.5 1068.5h3.6v3.6h-3.6zM692.6 924.4h3.6v3.6h-3.6zM717.3 926.6h3.6v3.6h-3.6zM666.7 1052.2h3.6v3.6h-3.6zM740.5 1034.6h3.6v3.6h-3.6zM737.6 1049.4h3.6v3.6h-3.6zM666.1 1064.8h3.6v3.6h-3.6zM670.5 1065.7h3.6v3.6h-3.6zM735.1 1055.0h3.6v3.6h-3.6zM670.7 1065.2h3.6v3.6h-3.6zM722.2 1080.7h3.6v3.6h-3.6zM707.5 927.0h3.6v3.6h-3.6zM658.8 951.1h3.6v3.6h-3.6zM718.7 1081.1h3.6v3.6h-3.6zM746.3 1022.9h3.6v3.6h-3.6zM723.9 1072.4h3.6v3.6h-3.6zM707.2 1088.4h3.6v3.6h-3.6zM656.3 1029.7h3.6v3.6h-3.6zM736.3 944.9h3.6v3.6h-3.6zM657.2 1048.0h3.6v3.6h-3.6zM669.1 938.8h3.6v3.6h-3.6zM653.9 990.8h3.6v3.6h-3.6zM747.6 998.8h3.6v3.6h-3.6zM746.1 998.3h3.6v3.6h-3.6zM689.6 925.7h3.6v3.6h-3.6zM678.6 933.9h3.6v3.6h-3.6zM676.1 1074.2h3.6v3.6h-3.6zM741.1 956.4h3.6v3.6h-3.6zM663.5 944.4h3.6v3.6h-3.6zM651.4 961.6h3.6v3.6h-3.6zM690.0 927.9h3.6v3.6h-3.6zM681.4 1082.9h3.6v3.6h-3.6zM650.6 999.5h3.6v3.6h-3.6zM744.9 942.5h3.6v3.6h-3.6zM716.3 1086.6h3.6v3.6h-3.6zM743.7 1029.3h3.6v3.6h-3.6zM719.8 1087.3h3.6v3.6h-3.6zM673.9 1068.1h3.6v3.6h-3.6zM665.5 946.4h3.6v3.6h-3.6zM652.9 971.1h3.6v3.6h-3.6zM689.8 927.0h3.6v3.6h-3.6zM675.6 1075.8h3.6v3.6h-3.6zM747.9 975.1h3.6v3.6h-3.6zM707.6 1094.5h3.6v3.6h-3.6zM667.4 1061.6h3.6v3.6h-3.6zM653.7 1006.4h3.6v3.6h-3.6zM707.4 927.8h3.6v3.6h-3.6zM657.9 1028.0h3.6v3.6h-3.6zM687.6 1084.7h3.6v3.6h-3.6zM654.7 971.5h3.6v3.6h-3.6zM736.7 1058.3h3.6v3.6h-3.6zM693.1 1089.2h3.6v3.6h-3.6zM676.6 1072.3h3.6v3.6h-3.6zM671.6 1062.7h3.6v3.6h-3.6zM733.2 1062.1h3.6v3.6h-3.6zM651.4 961.6h3.6v3.6h-3.6zM748.5 999.1h3.6v3.6h-3.6zM737.1 1059.3h3.6v3.6h-3.6zM722.4 922.6h3.6v3.6h-3.6zM710.3 1089.7h3.6v3.6h-3.6zM749.0 956.6h3.6v3.6h-3.6zM727.0 931.3h3.6v3.6h-3.6zM655.1 967.5h3.6v3.6h-3.6zM685.2 921.1h3.6v3.6h-3.6zM710.2 1088.3h3.6v3.6h-3.6zM713.8 1092.6h3.6v3.6h-3.6zM746.3 1022.9h3.6v3.6h-3.6zM692.0 920.1h3.6v3.6h-3.6zM739.8 941.3h3.6v3.6h-3.6zM689.5 925.4h3.6v3.6h-3.6zM716.8 1090.4h3.6v3.6h-3.6zM714.2 925.2h3.6v3.6h-3.6zM749.6 999.4h3.6v3.6h-3.6zM752.3 969.8h3.6v3.6h-3.6zM747.7 975.2h3.6v3.6h-3.6zM744.5 1021.4h3.6v3.6h-3.6zM717.1 1091.8h3.6v3.6h-3.6zM643.8 968.7h3.6v3.6h-3.6zM666.7 935.4h3.6v3.6h-3.6zM736.1 945.2h3.6v3.6h-3.6zM701.7 924.8h3.6v3.6h-3.6zM753.0 983.2h3.6v3.6h-3.6zM672.3 936.8h3.6v3.6h-3.6zM688.5 920.0h3.6v3.6h-3.6zM701.8 921.6h3.6v3.6h-3.6zM677.5 931.4h3.6v3.6h-3.6zM672.9 1071.4h3.6v3.6h-3.6zM677.0 1086.1h3.6v3.6h-3.6zM690.3 1087.6h3.6v3.6h-3.6zM669.3 932.0h3.6v3.6h-3.6zM687.1 929.1h3.6v3.6h-3.6zM747.4 971.1h3.6v3.6h-3.6zM664.1 1047.0h3.6v3.6h-3.6zM744.8 948.6h3.6v3.6h-3.6zM693.0 1091.1h3.6v3.6h-3.6zM673.6 1068.9h3.6v3.6h-3.6zM740.3 956.9h3.6v3.6h-3.6zM714.1 925.4h3.6v3.6h-3.6zM715.9 1084.1h3.6v3.6h-3.6zM669.1 1057.7h3.6v3.6h-3.6zM747.7 966.7h3.6v3.6h-3.6zM683.9 929.3h3.6v3.6h-3.6zM661.8 1041.1h3.6v3.6h-3.6zM674.2 932.9h3.6v3.6h-3.6zM675.5 935.3h3.6v3.6h-3.6zM709.7 909.8h3.6v3.6h-3.6zM693.1 1089.1h3.6v3.6h-3.6zM678.2 932.9h3.6v3.6h-3.6zM746.6 998.5h3.6v3.6h-3.6zM689.9 927.0h3.6v3.6h-3.6zM667.8 937.0h3.6v3.6h-3.6zM690.4 1086.8h3.6v3.6h-3.6zM737.3 1048.7h3.6v3.6h-3.6zM698.7 926.1h3.6v3.6h-3.6zM670.5 1065.5h3.6v3.6h-3.6zM734.6 946.7h3.6v3.6h-3.6zM693.0 928.0h3.6v3.6h-3.6zM651.0 979.1h3.6v3.6h-3.6zM679.8 1091.1h3.6v3.6h-3.6zM657.0 964.1h3.6v3.6h-3.6zM752.4 1009.2h3.6v3.6h-3.6zM757.4 968.5h3.6v3.6h-3.6zM666.6 935.3h3.6v3.6h-3.6zM657.9 950.3h3.6v3.6h-3.6zM651.7 991.1h3.6v3.6h-3.6zM653.2 1006.7h3.6v3.6h-3.6zM749.2 983.2h3.6v3.6h-3.6zM652.7 962.2h3.6v3.6h-3.6zM721.8 1079.2h3.6v3.6h-3.6zM748.0 991.0h3.6v3.6h-3.6zM662.5 1040.1h3.6v3.6h-3.6zM653.8 967.1h3.6v3.6h-3.6zM726.1 924.0h3.6v3.6h-3.6zM664.0 1057.7h3.6v3.6h-3.6zM741.8 1027.3h3.6v3.6h-3.6zM743.5 959.6h3.6v3.6h-3.6zM663.5 1048.2h3.6v3.6h-3.6zM668.1 1059.9h3.6v3.6h-3.6zM663.7 944.6h3.6v3.6h-3.6zM654.0 975.4h3.6v3.6h-3.6zM658.1 944.9h3.6v3.6h-3.6zM739.0 942.1h3.6v3.6h-3.6zM647.9 954.7h3.6v3.6h-3.6zM708.2 921.2h3.6v3.6h-3.6zM690.4 1086.9h3.6v3.6h-3.6zM658.7 956.0h3.6v3.6h-3.6zM669.8 939.8h3.6v3.6h-3.6zM663.5 1048.1h3.6v3.6h-3.6zM680.9 919.2h3.6v3.6h-3.6zM719.1 1083.1h3.6v3.6h-3.6zM704.6 1094.5h3.6v3.6h-3.6zM660.0 1034.4h3.6v3.6h-3.6zM673.8 1068.5h3.6v3.6h-3.6zM666.0 1078.0h3.6v3.6h-3.6zM656.1 959.2h3.6v3.6h-3.6zM710.9 925.2h3.6v3.6h-3.6zM745.9 963.0h3.6v3.6h-3.6zM707.4 1090.3h3.6v3.6h-3.6zM737.5 1049.2h3.6v3.6h-3.6zM684.5 918.1h3.6v3.6h-3.6zM707.6 926.1h3.6v3.6h-3.6zM663.9 931.3h3.6v3.6h-3.6zM662.3 948.8h3.6v3.6h-3.6zM732.4 1060.3h3.6v3.6h-3.6zM701.6 1091.1h3.6v3.6h-3.6zM678.9 1077.7h3.6v3.6h-3.6zM653.9 975.4h3.6v3.6h-3.6zM753.5 1000.7h3.6v3.6h-3.6zM654.1 953.0h3.6v3.6h-3.6zM689.8 1093.2h3.6v3.6h-3.6zM653.7 971.3h3.6v3.6h-3.6zM685.1 920.7h3.6v3.6h-3.6zM664.6 1056.6h3.6v3.6h-3.6zM747.9 971.0h3.6v3.6h-3.6zM688.4 919.1h3.6v3.6h-3.6zM687.4 1086.5h3.6v3.6h-3.6zM731.5 1058.1h3.6v3.6h-3.6zM654.6 958.4h3.6v3.6h-3.6zM749.3 945.1h3.6v3.6h-3.6zM750.8 999.8h3.6v3.6h-3.6zM720.0 1088.1h3.6v3.6h-3.6zM678.4 933.3h3.6v3.6h-3.6zM649.3 1080.2h3.6v3.6h-3.6zM651.3 1076.6h3.6v3.6h-3.6zM645.7 1076.4h3.6v3.6h-3.6zM650.2 1030.9h3.6v3.6h-3.6zM651.7 1062.6h3.6v3.6h-3.6zM654.0 1080.5h3.6v3.6h-3.6zM654.7 998.5h3.6v3.6h-3.6zM644.3 1068.6h3.6v3.6h-3.6zM658.7 1073.2h3.6v3.6h-3.6zM655.6 988.3h3.6v3.6h-3.6zM649.9 1000.1h3.6v3.6h-3.6zM650.6 1056.1h3.6v3.6h-3.6zM646.9 1079.6h3.6v3.6h-3.6zM646.8 1029.8h3.6v3.6h-3.6zM654.6 1060.8h3.6v3.6h-3.6zM653.7 1077.8h3.6v3.6h-3.6zM650.6 1006.4h3.6v3.6h-3.6zM655.2 1039.3h3.6v3.6h-3.6zM651.1 1018.3h3.6v3.6h-3.6zM651.5 1067.9h3.6v3.6h-3.6zM657.3 1040.2h3.6v3.6h-3.6zM645.0 991.0h3.6v3.6h-3.6zM655.0 993.5h3.6v3.6h-3.6zM656.6 1006.6h3.6v3.6h-3.6zM646.4 995.9h3.6v3.6h-3.6zM646.9 1009.8h3.6v3.6h-3.6zM653.4 1035.0h3.6v3.6h-3.6zM650.3 1054.3h3.6v3.6h-3.6zM646.6 1025.9h3.6v3.6h-3.6zM648.7 988.8h3.6v3.6h-3.6zM653.8 1035.3h3.6v3.6h-3.6zM650.2 1032.4h3.6v3.6h-3.6zM644.4 1034.3h3.6v3.6h-3.6zM657.5 1074.7h3.6v3.6h-3.6zM653.5 1075.8h3.6v3.6h-3.6zM652.2 1027.7h3.6v3.6h-3.6zM653.4 1055.6h3.6v3.6h-3.6zM656.2 1055.8h3.6v3.6h-3.6zM652.7 1018.0h3.6v3.6h-3.6zM652.5 1003.9h3.6v3.6h-3.6zM647.7 1006.3h3.6v3.6h-3.6zM646.2 1032.6h3.6v3.6h-3.6zM649.7 1017.8h3.6v3.6h-3.6zM652.8 1030.2h3.6v3.6h-3.6zM652.5 995.9h3.6v3.6h-3.6zM656.0 1028.1h3.6v3.6h-3.6zM647.0 1060.3h3.6v3.6h-3.6zM651.7 1024.3h3.6v3.6h-3.6zM646.9 1064.6h3.6v3.6h-3.6zM650.3 996.5h3.6v3.6h-3.6zM648.0 1039.6h3.6v3.6h-3.6zM647.6 1030.6h3.6v3.6h-3.6zM658.5 1033.3h3.6v3.6h-3.6zM651.3 1048.2h3.6v3.6h-3.6zM658.2 1026.7h3.6v3.6h-3.6zM653.2 994.1h3.6v3.6h-3.6zM653.8 1022.7h3.6v3.6h-3.6zM652.6 1020.0h3.6v3.6h-3.6zM650.8 1059.1h3.6v3.6h-3.6zM654.9 1053.7h3.6v3.6h-3.6zM649.3 1056.7h3.6v3.6h-3.6zM655.3 1044.8h3.6v3.6h-3.6zM657.4 1066.7h3.6v3.6h-3.6zM656.1 1032.4h3.6v3.6h-3.6zM653.9 1062.0h3.6v3.6h-3.6zM650.5 1000.8h3.6v3.6h-3.6zM651.2 1076.7h3.6v3.6h-3.6zM650.2 1017.0h3.6v3.6h-3.6zM648.5 1010.6h3.6v3.6h-3.6zM653.3 1044.8h3.6v3.6h-3.6zM648.9 1036.8h3.6v3.6h-3.6zM653.1 1026.9h3.6v3.6h-3.6zM645.0 1049.9h3.6v3.6h-3.6zM651.9 1003.5h3.6v3.6h-3.6zM652.7 1028.7h3.6v3.6h-3.6zM652.4 1047.5h3.6v3.6h-3.6zM658.3 1080.6h3.6v3.6h-3.6zM654.9 1004.7h3.6v3.6h-3.6zM655.3 1072.9h3.6v3.6h-3.6zM649.1 1060.4h3.6v3.6h-3.6zM650.1 1062.3h3.6v3.6h-3.6zM655.1 1013.6h3.6v3.6h-3.6zM650.9 1012.3h3.6v3.6h-3.6zM656.6 1005.8h3.6v3.6h-3.6zM649.1 1010.6h3.6v3.6h-3.6zM651.2 994.4h3.6v3.6h-3.6zM655.0 1038.2h3.6v3.6h-3.6zM655.7 1049.9h3.6v3.6h-3.6zM654.5 991.7h3.6v3.6h-3.6zM653.9 988.6h3.6v3.6h-3.6zM648.8 1030.8h3.6v3.6h-3.6zM653.8 1023.7h3.6v3.6h-3.6zM648.7 993.0h3.6v3.6h-3.6zM652.7 1045.2h3.6v3.6h-3.6zM648.3 995.3h3.6v3.6h-3.6zM654.2 1036.9h3.6v3.6h-3.6zM657.3 1061.8h3.6v3.6h-3.6zM658.3 1051.4h3.6v3.6h-3.6zM651.5 1055.6h3.6v3.6h-3.6zM655.6 1021.4h3.6v3.6h-3.6zM652.3 992.4h3.6v3.6h-3.6zM659.1 1083.2h3.6v3.6h-3.6zM653.1 1075.0h3.6v3.6h-3.6zM653.3 1065.6h3.6v3.6h-3.6zM646.5 1023.5h3.6v3.6h-3.6zM652.3 1047.2h3.6v3.6h-3.6zM651.8 1035.3h3.6v3.6h-3.6zM643.7 1034.1h3.6v3.6h-3.6zM656.1 1051.3h3.6v3.6h-3.6zM644.1 1002.9h3.6v3.6h-3.6zM649.7 1026.0h3.6v3.6h-3.6zM650.7 1027.9h3.6v3.6h-3.6zM650.9 993.1h3.6v3.6h-3.6zM652.1 989.9h3.6v3.6h-3.6zM657.9 1029.4h3.6v3.6h-3.6zM652.8 1003.1h3.6v3.6h-3.6zM652.6 1043.1h3.6v3.6h-3.6zM651.6 1022.8h3.6v3.6h-3.6zM648.6 993.1h3.6v3.6h-3.6zM652.9 1001.7h3.6v3.6h-3.6zM646.5 1042.6h3.6v3.6h-3.6zM847.1 946.6h3.6v3.6h-3.6zM795.1 968.1h3.6v3.6h-3.6zM755.7 979.4h3.6v3.6h-3.6zM836.7 943.0h3.6v3.6h-3.6zM846.1 969.5h3.6v3.6h-3.6zM787.2 941.3h3.6v3.6h-3.6zM761.3 930.0h3.6v3.6h-3.6zM840.5 929.3h3.6v3.6h-3.6zM819.3 949.9h3.6v3.6h-3.6zM806.0 956.0h3.6v3.6h-3.6zM849.8 973.1h3.6v3.6h-3.6zM776.6 951.8h3.6v3.6h-3.6zM780.9 933.8h3.6v3.6h-3.6zM824.1 943.6h3.6v3.6h-3.6zM792.9 968.3h3.6v3.6h-3.6zM833.1 945.1h3.6v3.6h-3.6zM781.1 969.9h3.6v3.6h-3.6zM809.9 959.6h3.6v3.6h-3.6zM848.9 962.7h3.6v3.6h-3.6zM822.9 928.4h3.6v3.6h-3.6zM756.6 946.8h3.6v3.6h-3.6zM839.0 930.4h3.6v3.6h-3.6zM754.9 987.5h3.6v3.6h-3.6zM795.4 956.8h3.6v3.6h-3.6zM831.2 980.0h3.6v3.6h-3.6zM832.5 965.1h3.6v3.6h-3.6zM820.3 955.0h3.6v3.6h-3.6zM767.4 970.0h3.6v3.6h-3.6zM835.9 966.3h3.6v3.6h-3.6zM825.3 964.7h3.6v3.6h-3.6zM825.4 958.0h3.6v3.6h-3.6zM822.7 975.6h3.6v3.6h-3.6zM782.0 979.4h3.6v3.6h-3.6zM817.3 947.8h3.6v3.6h-3.6zM795.2 964.3h3.6v3.6h-3.6zM825.1 955.2h3.6v3.6h-3.6zM799.8 962.1h3.6v3.6h-3.6zM831.6 994.0h3.6v3.6h-3.6zM852.2 936.1h3.6v3.6h-3.6zM827.9 969.7h3.6v3.6h-3.6zM811.4 977.5h3.6v3.6h-3.6zM792.7 945.2h3.6v3.6h-3.6zM772.8 954.4h3.6v3.6h-3.6zM782.2 909.0h3.6v3.6h-3.6zM786.0 956.5h3.6v3.6h-3.6zM855.2 936.8h3.6v3.6h-3.6zM829.0 961.0h3.6v3.6h-3.6zM823.6 942.5h3.6v3.6h-3.6zM757.6 932.1h3.6v3.6h-3.6zM756.2 981.4h3.6v3.6h-3.6zM790.7 935.0h3.6v3.6h-3.6zM800.3 955.0h3.6v3.6h-3.6zM797.6 963.5h3.6v3.6h-3.6zM748.1 967.7h3.6v3.6h-3.6zM800.2 968.0h3.6v3.6h-3.6zM825.4 953.9h3.6v3.6h-3.6zM856.0 991.3h3.6v3.6h-3.6zM846.3 937.5h3.6v3.6h-3.6zM816.8 936.2h3.6v3.6h-3.6zM772.8 965.0h3.6v3.6h-3.6zM752.0 962.6h3.6v3.6h-3.6zM847.6 978.9h3.6v3.6h-3.6zM826.5 964.6h3.6v3.6h-3.6zM814.1 941.1h3.6v3.6h-3.6zM797.7 941.0h3.6v3.6h-3.6zM756.6 897.2h3.6v3.6h-3.6zM826.3 961.5h3.6v3.6h-3.6zM790.9 974.4h3.6v3.6h-3.6zM760.5 948.4h3.6v3.6h-3.6zM852.6 985.4h3.6v3.6h-3.6zM773.0 930.9h3.6v3.6h-3.6zM848.5 964.4h3.6v3.6h-3.6zM820.1 932.1h3.6v3.6h-3.6zM848.9 955.4h3.6v3.6h-3.6zM848.4 953.2h3.6v3.6h-3.6zM813.3 994.3h3.6v3.6h-3.6zM840.6 968.9h3.6v3.6h-3.6zM847.3 975.8h3.6v3.6h-3.6zM814.7 983.7h3.6v3.6h-3.6zM852.5 954.0h3.6v3.6h-3.6zM809.3 962.3h3.6v3.6h-3.6zM755.0 966.1h3.6v3.6h-3.6zM785.5 936.0h3.6v3.6h-3.6zM795.3 945.7h3.6v3.6h-3.6zM775.4 960.1h3.6v3.6h-3.6zM825.2 1002.7h3.6v3.6h-3.6zM829.5 960.2h3.6v3.6h-3.6zM823.9 960.1h3.6v3.6h-3.6zM759.2 933.0h3.6v3.6h-3.6zM781.0 951.6h3.6v3.6h-3.6zM828.3 936.3h3.6v3.6h-3.6zM827.2 967.7h3.6v3.6h-3.6zM785.0 968.0h3.6v3.6h-3.6zM845.9 950.1h3.6v3.6h-3.6zM830.1 942.2h3.6v3.6h-3.6zM770.1 931.8h3.6v3.6h-3.6zM787.2 970.9h3.6v3.6h-3.6zM795.3 955.7h3.6v3.6h-3.6zM837.4 940.8h3.6v3.6h-3.6zM816.6 960.5h3.6v3.6h-3.6zM832.0 953.6h3.6v3.6h-3.6zM814.0 970.6h3.6v3.6h-3.6zM751.9 946.1h3.6v3.6h-3.6zM836.7 951.1h3.6v3.6h-3.6zM800.7 955.9h3.6v3.6h-3.6zM834.9 964.0h3.6v3.6h-3.6zM761.9 935.3h3.6v3.6h-3.6zM848.9 933.4h3.6v3.6h-3.6zM772.0 976.1h3.6v3.6h-3.6zM774.8 980.9h3.6v3.6h-3.6zM839.8 901.4h3.6v3.6h-3.6zM817.3 968.5h3.6v3.6h-3.6zM769.4 940.8h3.6v3.6h-3.6zM828.0 971.1h3.6v3.6h-3.6zM795.6 977.2h3.6v3.6h-3.6zM817.8 1005.7h3.6v3.6h-3.6zM823.1 954.8h3.6v3.6h-3.6zM816.8 934.2h3.6v3.6h-3.6zM750.6 946.9h3.6v3.6h-3.6zM838.7 965.6h3.6v3.6h-3.6zM787.0 964.9h3.6v3.6h-3.6zM784.5 975.2h3.6v3.6h-3.6zM821.5 936.8h3.6v3.6h-3.6zM785.5 913.2h3.6v3.6h-3.6zM847.9 953.9h3.6v3.6h-3.6zM790.2 962.3h3.6v3.6h-3.6zM791.8 1017.5h3.6v3.6h-3.6zM770.4 951.3h3.6v3.6h-3.6zM769.7 967.8h3.6v3.6h-3.6zM790.7 956.8h3.6v3.6h-3.6zM847.4 950.6h3.6v3.6h-3.6zM812.0 995.4h3.6v3.6h-3.6zM803.7 967.4h3.6v3.6h-3.6zM796.9 972.7h3.6v3.6h-3.6zM831.5 972.3h3.6v3.6h-3.6zM841.1 950.6h3.6v3.6h-3.6zM819.3 974.2h3.6v3.6h-3.6zM819.9 977.8h3.6v3.6h-3.6zM814.3 959.8h3.6v3.6h-3.6zM769.7 944.8h3.6v3.6h-3.6zM828.9 969.4h3.6v3.6h-3.6zM798.2 955.6h3.6v3.6h-3.6zM839.1 954.4h3.6v3.6h-3.6zM841.6 930.4h3.6v3.6h-3.6zM842.2 971.6h3.6v3.6h-3.6zM747.1 978.6h3.6v3.6h-3.6zM759.6 958.1h3.6v3.6h-3.6zM831.4 970.3h3.6v3.6h-3.6zM793.6 970.2h3.6v3.6h-3.6zM775.4 954.8h3.6v3.6h-3.6zM836.0 946.3h3.6v3.6h-3.6zM833.6 909.0h3.6v3.6h-3.6zM768.6 954.4h3.6v3.6h-3.6zM827.2 940.4h3.6v3.6h-3.6zM782.9 962.8h3.6v3.6h-3.6zM764.3 944.7h3.6v3.6h-3.6zM824.4 953.8h3.6v3.6h-3.6zM783.3 985.8h3.6v3.6h-3.6zM858.5 956.4h3.6v3.6h-3.6zM809.3 995.8h3.6v3.6h-3.6zM760.3 946.3h3.6v3.6h-3.6zM821.7 931.1h3.6v3.6h-3.6zM842.7 963.7h3.6v3.6h-3.6zM849.9 959.9h3.6v3.6h-3.6zM830.5 928.2h3.6v3.6h-3.6zM779.8 930.4h3.6v3.6h-3.6zM850.3 938.6h3.6v3.6h-3.6zM837.9 941.2h3.6v3.6h-3.6zM822.3 978.0h3.6v3.6h-3.6zM826.5 978.9h3.6v3.6h-3.6zM770.6 975.9h3.6v3.6h-3.6zM759.8 951.6h3.6v3.6h-3.6zM845.8 954.9h3.6v3.6h-3.6zM816.1 947.3h3.6v3.6h-3.6zM759.1 983.3h3.6v3.6h-3.6zM818.0 948.5h3.6v3.6h-3.6zM805.2 945.5h3.6v3.6h-3.6zM795.8 952.6h3.6v3.6h-3.6zM828.1 957.0h3.6v3.6h-3.6zM841.1 950.1h3.6v3.6h-3.6zM786.6 958.7h3.6v3.6h-3.6zM763.6 934.2h3.6v3.6h-3.6zM769.1 971.6h3.6v3.6h-3.6zM835.1 962.3h3.6v3.6h-3.6zM811.8 941.7h3.6v3.6h-3.6zM785.1 980.3h3.6v3.6h-3.6zM832.3 972.3h3.6v3.6h-3.6zM825.0 958.4h3.6v3.6h-3.6zM794.2 996.2h3.6v3.6h-3.6zM826.9 974.5h3.6v3.6h-3.6zM824.0 959.0h3.6v3.6h-3.6zM836.5 958.0h3.6v3.6h-3.6zM758.5 961.4h3.6v3.6h-3.6zM771.2 977.4h3.6v3.6h-3.6zM771.8 973.8h3.6v3.6h-3.6zM794.1 934.4h3.6v3.6h-3.6zM845.4 975.2h3.6v3.6h-3.6zM785.9 963.3h3.6v3.6h-3.6zM792.2 958.9h3.6v3.6h-3.6zM853.9 945.7h3.6v3.6h-3.6zM776.4 958.7h3.6v3.6h-3.6zM776.2 948.5h3.6v3.6h-3.6zM859.6 991.6h3.6v3.6h-3.6zM796.5 951.7h3.6v3.6h-3.6zM815.3 963.6h3.6v3.6h-3.6zM757.5 938.8h3.6v3.6h-3.6zM836.9 966.5h3.6v3.6h-3.6zM812.4 965.7h3.6v3.6h-3.6zM823.2 924.1h3.6v3.6h-3.6zM822.3 949.9h3.6v3.6h-3.6zM823.3 971.7h3.6v3.6h-3.6zM762.2 961.0h3.6v3.6h-3.6zM842.4 968.7h3.6v3.6h-3.6zM830.7 966.1h3.6v3.6h-3.6zM752.3 982.6h3.6v3.6h-3.6zM817.3 977.3h3.6v3.6h-3.6zM809.7 973.0h3.6v3.6h-3.6zM797.0 951.7h3.6v3.6h-3.6zM756.6 947.3h3.6v3.6h-3.6zM849.0 952.2h3.6v3.6h-3.6zM832.5 950.7h3.6v3.6h-3.6zM806.3 979.4h3.6v3.6h-3.6zM799.7 986.4h3.6v3.6h-3.6zM852.4 966.6h3.6v3.6h-3.6zM765.8 943.2h3.6v3.6h-3.6zM816.4 928.3h3.6v3.6h-3.6zM848.4 937.2h3.6v3.6h-3.6zM831.1 977.9h3.6v3.6h-3.6zM792.2 937.3h3.6v3.6h-3.6zM823.9 990.6h3.6v3.6h-3.6zM752.8 964.8h3.6v3.6h-3.6zM843.8 948.0h3.6v3.6h-3.6zM794.6 948.4h3.6v3.6h-3.6zM853.5 971.4h3.6v3.6h-3.6zM787.2 987.3h3.6v3.6h-3.6zM805.0 983.0h3.6v3.6h-3.6zM773.5 969.1h3.6v3.6h-3.6zM836.2 927.6h3.6v3.6h-3.6zM804.1 989.8h3.6v3.6h-3.6zM791.9 984.2h3.6v3.6h-3.6zM824.8 933.8h3.6v3.6h-3.6zM842.4 954.9h3.6v3.6h-3.6zM773.3 936.3h3.6v3.6h-3.6zM851.4 977.0h3.6v3.6h-3.6zM797.4 944.4h3.6v3.6h-3.6zM803.7 942.7h3.6v3.6h-3.6zM789.1 993.9h3.6v3.6h-3.6zM833.9 942.9h3.6v3.6h-3.6zM777.3 933.4h3.6v3.6h-3.6zM842.8 922.7h3.6v3.6h-3.6zM805.8 953.1h3.6v3.6h-3.6zM804.1 980.8h3.6v3.6h-3.6zM832.4 956.4h3.6v3.6h-3.6zM754.2 976.4h3.6v3.6h-3.6zM846.8 956.9h3.6v3.6h-3.6zM794.4 952.3h3.6v3.6h-3.6zM797.7 965.5h3.6v3.6h-3.6zM811.1 994.1h3.6v3.6h-3.6zM789.2 957.7h3.6v3.6h-3.6zM783.6 977.0h3.6v3.6h-3.6zM785.4 949.8h3.6v3.6h-3.6zM836.2 947.0h3.6v3.6h-3.6zM840.9 959.8h3.6v3.6h-3.6zM795.4 960.0h3.6v3.6h-3.6zM793.1 961.1h3.6v3.6h-3.6zM821.2 965.4h3.6v3.6h-3.6zM838.9 948.1h3.6v3.6h-3.6zM781.3 951.3h3.6v3.6h-3.6zM760.2 966.6h3.6v3.6h-3.6zM823.6 985.0h3.6v3.6h-3.6zM796.1 957.6h3.6v3.6h-3.6zM755.3 962.2h3.6v3.6h-3.6zM822.6 961.2h3.6v3.6h-3.6zM847.4 937.6h3.6v3.6h-3.6zM846.5 950.3h3.6v3.6h-3.6zM791.1 966.4h3.6v3.6h-3.6zM844.8 957.7h3.6v3.6h-3.6zM839.3 968.3h3.6v3.6h-3.6zM833.0 998.2h3.6v3.6h-3.6zM851.9 967.0h3.6v3.6h-3.6zM754.6 951.1h3.6v3.6h-3.6zM810.4 922.4h3.6v3.6h-3.6zM791.0 970.8h3.6v3.6h-3.6zM832.2 940.9h3.6v3.6h-3.6zM821.9 940.2h3.6v3.6h-3.6zM799.0 945.1h3.6v3.6h-3.6zM805.8 973.1h3.6v3.6h-3.6zM838.1 920.6h3.6v3.6h-3.6zM839.6 988.2h3.6v3.6h-3.6zM759.0 945.7h3.6v3.6h-3.6zM833.5 918.2h3.6v3.6h-3.6zM750.0 1003.5h3.6v3.6h-3.6zM795.1 959.2h3.6v3.6h-3.6zM797.5 942.9h3.6v3.6h-3.6zM779.3 925.2h3.6v3.6h-3.6zM805.3 974.2h3.6v3.6h-3.6zM786.9 962.1h3.6v3.6h-3.6zM789.4 944.3h3.6v3.6h-3.6zM762.4 964.1h3.6v3.6h-3.6zM767.4 955.9h3.6v3.6h-3.6zM838.9 947.2h3.6v3.6h-3.6zM843.2 979.9h3.6v3.6h-3.6zM848.7 964.3h3.6v3.6h-3.6zM782.3 977.0h3.6v3.6h-3.6zM804.1 988.8h3.6v3.6h-3.6zM854.1 979.6h3.6v3.6h-3.6zM800.2 957.1h3.6v3.6h-3.6zM805.6 912.3h3.6v3.6h-3.6zM757.7 945.3h3.6v3.6h-3.6zM776.4 971.0h3.6v3.6h-3.6zM778.1 969.8h3.6v3.6h-3.6zM842.7 981.8h3.6v3.6h-3.6zM830.1 962.9h3.6v3.6h-3.6zM826.6 949.6h3.6v3.6h-3.6zM788.4 987.3h3.6v3.6h-3.6zM811.6 981.1h3.6v3.6h-3.6zM805.6 949.3h3.6v3.6h-3.6zM824.4 966.0h3.6v3.6h-3.6zM800.1 959.0h3.6v3.6h-3.6zM823.2 958.5h3.6v3.6h-3.6zM855.9 987.0h3.6v3.6h-3.6zM817.6 969.4h3.6v3.6h-3.6zM845.5 965.4h3.6v3.6h-3.6zM794.8 959.4h3.6v3.6h-3.6zM851.7 965.2h3.6v3.6h-3.6zM810.7 970.8h3.6v3.6h-3.6zM764.0 955.7h3.6v3.6h-3.6zM748.9 961.6h3.6v3.6h-3.6zM781.1 980.6h3.6v3.6h-3.6zM775.7 949.0h3.6v3.6h-3.6zM853.1 1001.3h3.6v3.6h-3.6zM832.1 955.6h3.6v3.6h-3.6zM827.9 944.5h3.6v3.6h-3.6zM804.5 953.2h3.6v3.6h-3.6zM776.0 955.1h3.6v3.6h-3.6zM820.8 958.9h3.6v3.6h-3.6zM766.0 975.9h3.6v3.6h-3.6zM778.3 962.3h3.6v3.6h-3.6zM810.1 933.2h3.6v3.6h-3.6zM747.6 936.3h3.6v3.6h-3.6zM817.9 955.1h3.6v3.6h-3.6zM853.5 964.0h3.6v3.6h-3.6zM802.1 932.6h3.6v3.6h-3.6zM832.2 936.4h3.6v3.6h-3.6zM788.1 972.5h3.6v3.6h-3.6zM794.4 981.0h3.6v3.6h-3.6zM797.7 937.8h3.6v3.6h-3.6zM750.5 965.9h3.6v3.6h-3.6zM793.0 985.1h3.6v3.6h-3.6zM777.9 967.3h3.6v3.6h-3.6zM852.1 959.9h3.6v3.6h-3.6zM852.4 957.3h3.6v3.6h-3.6zM837.3 928.9h3.6v3.6h-3.6zM817.2 933.4h3.6v3.6h-3.6zM755.3 963.9h3.6v3.6h-3.6zM749.6 963.6h3.6v3.6h-3.6zM765.2 967.6h3.6v3.6h-3.6zM764.9 947.3h3.6v3.6h-3.6zM848.6 971.0h3.6v3.6h-3.6zM844.3 966.6h3.6v3.6h-3.6zM847.2 945.6h3.6v3.6h-3.6zM785.7 925.1h3.6v3.6h-3.6zM830.6 961.5h3.6v3.6h-3.6zM817.0 931.4h3.6v3.6h-3.6zM794.1 925.5h3.6v3.6h-3.6zM752.2 968.8h3.6v3.6h-3.6zM816.8 954.6h3.6v3.6h-3.6zM850.9 998.1h3.6v3.6h-3.6zM790.5 971.6h3.6v3.6h-3.6zM843.4 964.6h3.6v3.6h-3.6zM747.4 950.0h3.6v3.6h-3.6zM792.2 939.0h3.6v3.6h-3.6zM836.4 983.8h3.6v3.6h-3.6zM815.9 956.3h3.6v3.6h-3.6zM843.9 972.3h3.6v3.6h-3.6zM771.2 983.1h3.6v3.6h-3.6zM787.1 951.0h3.6v3.6h-3.6zM850.1 928.8h3.6v3.6h-3.6zM782.6 938.5h3.6v3.6h-3.6zM827.0 962.8h3.6v3.6h-3.6zM799.2 955.3h3.6v3.6h-3.6zM801.0 957.7h3.6v3.6h-3.6zM840.0 984.2h3.6v3.6h-3.6zM768.7 934.8h3.6v3.6h-3.6zM786.0 972.4h3.6v3.6h-3.6zM808.3 942.7h3.6v3.6h-3.6zM747.5 895.8h3.6v3.6h-3.6zM814.7 964.8h3.6v3.6h-3.6zM794.1 962.2h3.6v3.6h-3.6zM797.8 983.7h3.6v3.6h-3.6zM781.7 934.9h3.6v3.6h-3.6zM851.4 962.4h3.6v3.6h-3.6zM783.9 970.9h3.6v3.6h-3.6zM811.4 948.1h3.6v3.6h-3.6zM807.1 972.2h3.6v3.6h-3.6zM798.3 952.9h3.6v3.6h-3.6zM825.9 955.6h3.6v3.6h-3.6zM759.8 960.7h3.6v3.6h-3.6zM812.6 932.2h3.6v3.6h-3.6zM766.2 965.7h3.6v3.6h-3.6zM802.6 962.6h3.6v3.6h-3.6zM811.3 946.9h3.6v3.6h-3.6zM758.6 946.4h3.6v3.6h-3.6zM762.9 953.8h3.6v3.6h-3.6zM825.6 953.3h3.6v3.6h-3.6zM850.6 906.5h3.6v3.6h-3.6zM816.2 952.9h3.6v3.6h-3.6zM780.9 946.0h3.6v3.6h-3.6zM757.0 954.6h3.6v3.6h-3.6zM812.8 935.8h3.6v3.6h-3.6zM827.3 958.3h3.6v3.6h-3.6zM822.5 944.4h3.6v3.6h-3.6zM799.7 960.1h3.6v3.6h-3.6zM755.2 987.2h3.6v3.6h-3.6zM820.2 929.0h3.6v3.6h-3.6zM812.0 968.1h3.6v3.6h-3.6zM821.2 976.4h3.6v3.6h-3.6zM811.5 959.6h3.6v3.6h-3.6zM845.6 959.5h3.6v3.6h-3.6zM804.0 932.0h3.6v3.6h-3.6zM825.0 953.2h3.6v3.6h-3.6zM781.9 963.1h3.6v3.6h-3.6zM826.1 927.3h3.6v3.6h-3.6zM821.8 971.5h3.6v3.6h-3.6zM799.4 958.7h3.6v3.6h-3.6zM756.5 959.2h3.6v3.6h-3.6zM774.6 948.2h3.6v3.6h-3.6zM746.6 972.2h3.6v3.6h-3.6zM798.9 957.7h3.6v3.6h-3.6zM857.8 984.2h3.6v3.6h-3.6zM827.5 941.3h3.6v3.6h-3.6zM797.8 957.2h3.6v3.6h-3.6zM841.7 968.1h3.6v3.6h-3.6zM798.3 997.5h3.6v3.6h-3.6zM799.4 947.0h3.6v3.6h-3.6zM844.7 944.0h3.6v3.6h-3.6zM853.8 929.4h3.6v3.6h-3.6zM812.0 972.1h3.6v3.6h-3.6zM791.5 964.3h3.6v3.6h-3.6zM752.8 944.9h3.6v3.6h-3.6zM769.8 980.7h3.6v3.6h-3.6zM832.3 951.0h3.6v3.6h-3.6zM836.3 976.4h3.6v3.6h-3.6zM776.0 973.2h3.6v3.6h-3.6zM816.0 978.9h3.6v3.6h-3.6zM780.9 936.1h3.6v3.6h-3.6zM852.5 957.9h3.6v3.6h-3.6zM807.3 956.7h3.6v3.6h-3.6zM798.4 957.6h3.6v3.6h-3.6zM831.7 950.7h3.6v3.6h-3.6zM840.5 938.5h3.6v3.6h-3.6zM771.4 988.0h3.6v3.6h-3.6zM827.8 960.5h3.6v3.6h-3.6zM773.9 963.7h3.6v3.6h-3.6zM845.4 969.1h3.6v3.6h-3.6zM771.9 956.6h3.6v3.6h-3.6zM786.5 966.0h3.6v3.6h-3.6zM792.2 970.1h3.6v3.6h-3.6zM818.6 932.0h3.6v3.6h-3.6zM843.7 966.3h3.6v3.6h-3.6zM839.1 943.5h3.6v3.6h-3.6zM746.1 952.1h3.6v3.6h-3.6zM850.0 934.9h3.6v3.6h-3.6zM763.5 972.8h3.6v3.6h-3.6zM820.5 986.2h3.6v3.6h-3.6zM797.5 945.5h3.6v3.6h-3.6zM835.6 984.1h3.6v3.6h-3.6zM809.5 920.0h3.6v3.6h-3.6zM808.4 912.9h3.6v3.6h-3.6zM818.9 937.9h3.6v3.6h-3.6zM766.5 930.6h3.6v3.6h-3.6zM847.9 940.4h3.6v3.6h-3.6zM832.0 953.6h3.6v3.6h-3.6zM752.2 988.1h3.6v3.6h-3.6zM796.6 948.0h3.6v3.6h-3.6zM835.9 957.9h3.6v3.6h-3.6zM777.2 955.2h3.6v3.6h-3.6zM846.5 964.3h3.6v3.6h-3.6zM807.5 917.9h3.6v3.6h-3.6zM823.2 966.0h3.6v3.6h-3.6zM844.8 962.1h3.6v3.6h-3.6zM772.8 992.1h3.6v3.6h-3.6zM813.4 963.4h3.6v3.6h-3.6zM836.5 959.5h3.6v3.6h-3.6zM852.6 966.8h3.6v3.6h-3.6zM765.7 951.4h3.6v3.6h-3.6zM825.4 936.5h3.6v3.6h-3.6zM828.6 987.3h3.6v3.6h-3.6zM769.2 939.6h3.6v3.6h-3.6zM765.4 951.6h3.6v3.6h-3.6zM778.5 951.7h3.6v3.6h-3.6zM800.9 984.8h3.6v3.6h-3.6zM770.2 994.2h3.6v3.6h-3.6zM799.4 966.1h3.6v3.6h-3.6zM753.6 952.6h3.6v3.6h-3.6zM844.7 955.1h3.6v3.6h-3.6zM791.3 969.2h3.6v3.6h-3.6zM803.6 944.0h3.6v3.6h-3.6zM813.8 978.7h3.6v3.6h-3.6zM852.5 928.0h3.6v3.6h-3.6zM792.2 943.3h3.6v3.6h-3.6zM826.3 952.3h3.6v3.6h-3.6zM833.9 974.3h3.6v3.6h-3.6zM762.2 983.7h3.6v3.6h-3.6zM829.2 931.9h3.6v3.6h-3.6zM761.2 953.9h3.6v3.6h-3.6zM800.8 972.6h3.6v3.6h-3.6zM843.8 951.8h3.6v3.6h-3.6zM830.1 976.3h3.6v3.6h-3.6zM787.9 945.8h3.6v3.6h-3.6zM821.8 969.0h3.6v3.6h-3.6zM774.4 940.7h3.6v3.6h-3.6zM785.1 961.4h3.6v3.6h-3.6zM848.0 917.5h3.6v3.6h-3.6zM780.0 931.0h3.6v3.6h-3.6zM855.1 936.9h3.6v3.6h-3.6zM767.6 959.7h3.6v3.6h-3.6zM823.8 928.1h3.6v3.6h-3.6zM838.8 959.9h3.6v3.6h-3.6zM800.7 963.4h3.6v3.6h-3.6zM837.8 957.5h3.6v3.6h-3.6zM764.7 968.4h3.6v3.6h-3.6zM844.6 959.2h3.6v3.6h-3.6zM851.8 985.5h3.6v3.6h-3.6zM802.8 959.1h3.6v3.6h-3.6zM822.6 949.4h3.6v3.6h-3.6zM810.3 956.1h3.6v3.6h-3.6zM811.5 950.4h3.6v3.6h-3.6zM798.7 953.2h3.6v3.6h-3.6zM836.9 941.4h3.6v3.6h-3.6zM821.3 950.3h3.6v3.6h-3.6zM795.4 949.6h3.6v3.6h-3.6zM837.9 953.1h3.6v3.6h-3.6zM841.5 988.9h3.6v3.6h-3.6zM829.5 978.1h3.6v3.6h-3.6zM817.3 951.9h3.6v3.6h-3.6zM780.1 963.5h3.6v3.6h-3.6zM782.7 955.7h3.6v3.6h-3.6zM833.3 993.8h3.6v3.6h-3.6zM825.1 984.3h3.6v3.6h-3.6zM829.1 979.0h3.6v3.6h-3.6zM811.7 928.9h3.6v3.6h-3.6zM840.4 943.1h3.6v3.6h-3.6zM826.5 948.5h3.6v3.6h-3.6zM804.0 956.6h3.6v3.6h-3.6zM843.6 914.9h3.6v3.6h-3.6zM826.3 904.5h3.6v3.6h-3.6zM775.2 959.5h3.6v3.6h-3.6zM794.5 945.1h3.6v3.6h-3.6zM760.6 965.9h3.6v3.6h-3.6zM848.1 960.6h3.6v3.6h-3.6zM770.4 953.8h3.6v3.6h-3.6zM852.7 967.1h3.6v3.6h-3.6zM828.6 972.6h3.6v3.6h-3.6zM841.7 929.0h3.6v3.6h-3.6zM749.0 972.2h3.6v3.6h-3.6zM807.9 955.4h3.6v3.6h-3.6zM809.5 942.0h3.6v3.6h-3.6zM793.0 981.0h3.6v3.6h-3.6zM755.7 950.6h3.6v3.6h-3.6zM794.6 954.5h3.6v3.6h-3.6zM847.4 970.6h3.6v3.6h-3.6zM810.3 964.8h3.6v3.6h-3.6zM776.8 942.0h3.6v3.6h-3.6zM827.2 936.5h3.6v3.6h-3.6zM788.5 957.6h3.6v3.6h-3.6zM784.9 959.7h3.6v3.6h-3.6zM849.3 960.0h3.6v3.6h-3.6zM753.9 951.8h3.6v3.6h-3.6zM818.2 937.9h3.6v3.6h-3.6zM844.7 952.3h3.6v3.6h-3.6zM805.4 1005.6h3.6v3.6h-3.6zM808.7 976.1h3.6v3.6h-3.6zM793.1 977.7h3.6v3.6h-3.6zM780.9 930.4h3.6v3.6h-3.6zM785.4 967.0h3.6v3.6h-3.6zM788.8 977.0h3.6v3.6h-3.6zM780.7 997.0h3.6v3.6h-3.6zM816.3 935.8h3.6v3.6h-3.6zM769.6 962.8h3.6v3.6h-3.6zM850.1 977.6h3.6v3.6h-3.6zM820.4 980.8h3.6v3.6h-3.6zM847.3 953.3h3.6v3.6h-3.6zM773.9 969.3h3.6v3.6h-3.6zM765.6 926.7h3.6v3.6h-3.6zM775.4 1002.1h3.6v3.6h-3.6zM796.8 934.0h3.6v3.6h-3.6zM787.3 979.2h3.6v3.6h-3.6zM789.3 950.2h3.6v3.6h-3.6zM839.3 962.8h3.6v3.6h-3.6zM841.0 981.5h3.6v3.6h-3.6zM761.9 969.2h3.6v3.6h-3.6zM831.3 942.4h3.6v3.6h-3.6zM835.9 981.0h3.6v3.6h-3.6zM768.7 955.5h3.6v3.6h-3.6zM814.0 931.4h3.6v3.6h-3.6zM753.9 974.1h3.6v3.6h-3.6zM823.8 952.3h3.6v3.6h-3.6zM808.9 986.8h3.6v3.6h-3.6zM828.9 990.2h3.6v3.6h-3.6zM788.4 976.6h3.6v3.6h-3.6zM819.6 959.6h3.6v3.6h-3.6zM777.7 964.1h3.6v3.6h-3.6zM804.5 970.3h3.6v3.6h-3.6zM808.1 969.7h3.6v3.6h-3.6zM759.1 962.3h3.6v3.6h-3.6zM761.1 968.3h3.6v3.6h-3.6zM825.9 973.3h3.6v3.6h-3.6zM822.8 974.9h3.6v3.6h-3.6zM752.8 941.6h3.6v3.6h-3.6zM757.8 932.2h3.6v3.6h-3.6zM836.9 975.5h3.6v3.6h-3.6zM841.6 980.5h3.6v3.6h-3.6zM836.6 977.3h3.6v3.6h-3.6zM848.1 961.2h3.6v3.6h-3.6zM790.3 948.9h3.6v3.6h-3.6zM798.9 949.3h3.6v3.6h-3.6zM766.6 971.2h3.6v3.6h-3.6zM812.5 967.8h3.6v3.6h-3.6zM793.2 942.2h3.6v3.6h-3.6zM845.9 988.8h3.6v3.6h-3.6zM823.5 961.5h3.6v3.6h-3.6zM841.8 953.4h3.6v3.6h-3.6zM823.2 944.3h3.6v3.6h-3.6zM825.3 941.4h3.6v3.6h-3.6zM811.2 956.0h3.6v3.6h-3.6zM817.2 986.2h3.6v3.6h-3.6zM854.5 973.8h3.6v3.6h-3.6zM803.0 1002.5h3.6v3.6h-3.6zM820.2 975.3h3.6v3.6h-3.6zM780.7 960.7h3.6v3.6h-3.6zM817.1 955.0h3.6v3.6h-3.6zM836.1 978.5h3.6v3.6h-3.6zM808.0 940.5h3.6v3.6h-3.6zM807.5 966.6h3.6v3.6h-3.6zM844.4 973.5h3.6v3.6h-3.6zM777.2 959.3h3.6v3.6h-3.6zM823.6 992.5h3.6v3.6h-3.6zM846.7 950.1h3.6v3.6h-3.6zM778.4 928.7h3.6v3.6h-3.6zM801.6 937.4h3.6v3.6h-3.6zM748.2 987.8h3.6v3.6h-3.6zM783.1 947.9h3.6v3.6h-3.6zM804.2 951.2h3.6v3.6h-3.6zM815.4 991.6h3.6v3.6h-3.6zM806.6 988.0h3.6v3.6h-3.6zM847.4 968.7h3.6v3.6h-3.6zM764.6 996.7h3.6v3.6h-3.6zM783.5 947.1h3.6v3.6h-3.6zM853.4 959.7h3.6v3.6h-3.6zM836.0 976.6h3.6v3.6h-3.6zM752.0 961.3h3.6v3.6h-3.6zM799.8 986.7h3.6v3.6h-3.6zM831.9 961.9h3.6v3.6h-3.6zM844.4 969.0h3.6v3.6h-3.6zM811.6 939.3h3.6v3.6h-3.6zM810.0 942.5h3.6v3.6h-3.6zM824.5 948.5h3.6v3.6h-3.6zM790.2 978.1h3.6v3.6h-3.6zM775.2 955.9h3.6v3.6h-3.6zM768.9 937.7h3.6v3.6h-3.6zM825.5 957.4h3.6v3.6h-3.6zM843.6 966.6h3.6v3.6h-3.6zM850.3 981.0h3.6v3.6h-3.6zM745.8 962.1h3.6v3.6h-3.6zM825.6 893.3h3.6v3.6h-3.6zM816.3 936.6h3.6v3.6h-3.6zM844.8 971.5h3.6v3.6h-3.6zM759.9 957.2h3.6v3.6h-3.6zM785.0 970.5h3.6v3.6h-3.6zM755.8 969.7h3.6v3.6h-3.6zM778.2 955.7h3.6v3.6h-3.6zM805.7 954.8h3.6v3.6h-3.6zM803.2 989.6h3.6v3.6h-3.6zM785.3 937.3h3.6v3.6h-3.6zM799.5 976.9h3.6v3.6h-3.6zM847.6 971.7h3.6v3.6h-3.6zM816.0 959.7h3.6v3.6h-3.6zM855.8 947.5h3.6v3.6h-3.6zM847.9 971.0h3.6v3.6h-3.6zM758.5 954.6h3.6v3.6h-3.6zM828.8 938.0h3.6v3.6h-3.6zM828.6 931.8h3.6v3.6h-3.6zM806.7 939.2h3.6v3.6h-3.6zM821.5 941.1h3.6v3.6h-3.6zM814.3 932.4h3.6v3.6h-3.6zM839.7 970.3h3.6v3.6h-3.6zM756.9 973.0h3.6v3.6h-3.6zM823.9 961.6h3.6v3.6h-3.6zM835.3 936.1h3.6v3.6h-3.6zM827.7 955.4h3.6v3.6h-3.6zM847.2 943.6h3.6v3.6h-3.6zM819.4 965.2h3.6v3.6h-3.6zM832.9 949.7h3.6v3.6h-3.6zM775.2 939.3h3.6v3.6h-3.6zM774.9 951.9h3.6v3.6h-3.6zM847.3 975.2h3.6v3.6h-3.6zM842.4 950.3h3.6v3.6h-3.6zM844.5 940.6h3.6v3.6h-3.6zM829.4 945.4h3.6v3.6h-3.6zM826.6 942.2h3.6v3.6h-3.6zM824.1 955.7h3.6v3.6h-3.6zM806.6 978.8h3.6v3.6h-3.6zM833.3 968.7h3.6v3.6h-3.6zM750.7 973.2h3.6v3.6h-3.6zM826.8 941.6h3.6v3.6h-3.6zM834.1 957.8h3.6v3.6h-3.6zM749.5 956.7h3.6v3.6h-3.6zM793.7 912.5h3.6v3.6h-3.6zM783.7 978.5h3.6v3.6h-3.6zM810.5 958.5h3.6v3.6h-3.6zM770.8 954.1h3.6v3.6h-3.6zM839.1 943.7h3.6v3.6h-3.6zM801.9 966.4h3.6v3.6h-3.6zM847.0 969.1h3.6v3.6h-3.6zM784.6 995.1h3.6v3.6h-3.6zM762.4 929.0h3.6v3.6h-3.6zM755.7 969.1h3.6v3.6h-3.6zM767.1 940.3h3.6v3.6h-3.6zM802.0 983.3h3.6v3.6h-3.6zM834.1 977.3h3.6v3.6h-3.6zM850.3 952.0h3.6v3.6h-3.6zM849.7 961.3h3.6v3.6h-3.6zM800.3 979.2h3.6v3.6h-3.6zM752.3 959.6h3.6v3.6h-3.6zM815.4 972.4h3.6v3.6h-3.6zM791.1 942.2h3.6v3.6h-3.6zM765.1 972.5h3.6v3.6h-3.6zM746.8 921.6h3.6v3.6h-3.6zM774.0 968.2h3.6v3.6h-3.6zM774.4 990.7h3.6v3.6h-3.6zM814.1 926.8h3.6v3.6h-3.6zM759.0 946.5h3.6v3.6h-3.6zM774.4 970.3h3.6v3.6h-3.6zM812.9 950.2h3.6v3.6h-3.6zM797.7 950.0h3.6v3.6h-3.6zM796.8 979.8h3.6v3.6h-3.6zM786.7 958.4h3.6v3.6h-3.6zM806.1 942.5h3.6v3.6h-3.6zM768.2 965.5h3.6v3.6h-3.6zM851.9 941.6h3.6v3.6h-3.6zM766.2 973.9h3.6v3.6h-3.6zM804.0 950.7h3.6v3.6h-3.6zM826.2 965.3h3.6v3.6h-3.6zM849.3 960.5h3.6v3.6h-3.6zM779.1 946.4h3.6v3.6h-3.6zM779.4 983.9h3.6v3.6h-3.6zM799.4 956.4h3.6v3.6h-3.6zM775.9 974.2h3.6v3.6h-3.6zM773.2 983.7h3.6v3.6h-3.6zM842.5 955.0h3.6v3.6h-3.6zM829.7 957.3h3.6v3.6h-3.6zM778.2 952.4h3.6v3.6h-3.6zM831.8 947.3h3.6v3.6h-3.6zM834.2 953.2h3.6v3.6h-3.6zM802.6 960.7h3.6v3.6h-3.6zM757.9 964.1h3.6v3.6h-3.6zM834.0 939.5h3.6v3.6h-3.6zM843.5 967.2h3.6v3.6h-3.6zM771.8 932.5h3.6v3.6h-3.6zM844.3 929.7h3.6v3.6h-3.6zM828.7 971.9h3.6v3.6h-3.6zM815.7 1002.9h3.6v3.6h-3.6zM825.7 1009.2h3.6v3.6h-3.6zM793.4 971.3h3.6v3.6h-3.6zM823.1 946.3h3.6v3.6h-3.6zM772.2 973.9h3.6v3.6h-3.6zM802.4 962.5h3.6v3.6h-3.6zM825.1 985.1h3.6v3.6h-3.6zM814.9 968.0h3.6v3.6h-3.6zM751.7 923.7h3.6v3.6h-3.6zM785.7 950.0h3.6v3.6h-3.6zM836.5 964.7h3.6v3.6h-3.6zM837.0 962.1h3.6v3.6h-3.6zM810.4 950.5h3.6v3.6h-3.6zM768.3 970.7h3.6v3.6h-3.6zM771.5 954.6h3.6v3.6h-3.6zM796.1 941.3h3.6v3.6h-3.6zM796.1 985.9h3.6v3.6h-3.6zM840.9 954.8h3.6v3.6h-3.6zM828.7 966.8h3.6v3.6h-3.6zM800.0 963.5h3.6v3.6h-3.6zM817.1 933.1h3.6v3.6h-3.6zM803.5 962.1h3.6v3.6h-3.6zM829.3 956.4h3.6v3.6h-3.6zM821.7 959.8h3.6v3.6h-3.6zM823.1 966.6h3.6v3.6h-3.6zM782.5 969.2h3.6v3.6h-3.6zM773.0 955.2h3.6v3.6h-3.6zM795.3 958.8h3.6v3.6h-3.6zM759.1 956.4h3.6v3.6h-3.6zM794.5 896.9h3.6v3.6h-3.6zM845.1 934.9h3.6v3.6h-3.6zM783.4 963.2h3.6v3.6h-3.6zM758.4 929.7h3.6v3.6h-3.6zM778.8 950.1h3.6v3.6h-3.6zM779.7 891.6h3.6v3.6h-3.6zM767.7 949.5h3.6v3.6h-3.6zM824.0 961.1h3.6v3.6h-3.6zM836.6 922.0h3.6v3.6h-3.6zM840.8 965.8h3.6v3.6h-3.6zM765.3 990.1h3.6v3.6h-3.6zM774.0 965.7h3.6v3.6h-3.6zM831.4 951.6h3.6v3.6h-3.6zM795.7 944.2h3.6v3.6h-3.6zM753.8 947.8h3.6v3.6h-3.6zM813.2 987.7h3.6v3.6h-3.6zM835.9 999.6h3.6v3.6h-3.6zM826.3 951.4h3.6v3.6h-3.6zM747.1 954.6h3.6v3.6h-3.6zM811.3 964.5h3.6v3.6h-3.6zM824.7 972.8h3.6v3.6h-3.6zM754.6 972.8h3.6v3.6h-3.6zM827.4 953.7h3.6v3.6h-3.6zM831.7 959.7h3.6v3.6h-3.6zM808.8 987.4h3.6v3.6h-3.6zM792.5 965.1h3.6v3.6h-3.6zM834.8 947.9h3.6v3.6h-3.6zM793.6 910.5h3.6v3.6h-3.6zM817.8 943.1h3.6v3.6h-3.6zM756.1 965.3h3.6v3.6h-3.6zM827.0 966.3h3.6v3.6h-3.6zM815.9 916.0h3.6v3.6h-3.6zM822.3 942.0h3.6v3.6h-3.6zM755.1 941.9h3.6v3.6h-3.6zM821.7 941.0h3.6v3.6h-3.6zM799.4 953.8h3.6v3.6h-3.6zM826.5 931.1h3.6v3.6h-3.6zM843.0 965.4h3.6v3.6h-3.6zM783.2 929.9h3.6v3.6h-3.6zM840.1 961.2h3.6v3.6h-3.6zM791.2 977.1h3.6v3.6h-3.6zM759.3 971.4h3.6v3.6h-3.6zM748.7 1009.2h3.6v3.6h-3.6zM778.3 945.8h3.6v3.6h-3.6zM813.2 971.4h3.6v3.6h-3.6zM816.8 986.7h3.6v3.6h-3.6zM797.6 967.6h3.6v3.6h-3.6zM770.2 986.3h3.6v3.6h-3.6zM846.0 954.2h3.6v3.6h-3.6zM794.8 934.6h3.6v3.6h-3.6zM824.3 918.3h3.6v3.6h-3.6zM841.4 969.5h3.6v3.6h-3.6zM817.0 941.1h3.6v3.6h-3.6zM821.6 989.0h3.6v3.6h-3.6zM832.0 953.1h3.6v3.6h-3.6zM831.1 957.8h3.6v3.6h-3.6zM813.9 950.9h3.6v3.6h-3.6zM790.6 948.0h3.6v3.6h-3.6zM831.1 990.2h3.6v3.6h-3.6zM756.2 945.7h3.6v3.6h-3.6zM824.2 996.7h3.6v3.6h-3.6zM844.7 971.8h3.6v3.6h-3.6zM792.2 947.3h3.6v3.6h-3.6zM819.3 918.5h3.6v3.6h-3.6zM814.8 960.2h3.6v3.6h-3.6zM788.4 997.5h3.6v3.6h-3.6zM812.0 958.0h3.6v3.6h-3.6zM822.1 955.2h3.6v3.6h-3.6zM782.5 953.9h3.6v3.6h-3.6zM813.0 962.6h3.6v3.6h-3.6zM846.9 941.2h3.6v3.6h-3.6zM847.0 989.8h3.6v3.6h-3.6zM793.4 939.0h3.6v3.6h-3.6zM750.1 950.1h3.6v3.6h-3.6zM778.0 951.9h3.6v3.6h-3.6zM785.4 954.5h3.6v3.6h-3.6zM838.8 931.8h3.6v3.6h-3.6zM831.6 980.7h3.6v3.6h-3.6zM788.6 944.6h3.6v3.6h-3.6zM823.5 949.8h3.6v3.6h-3.6zM824.5 970.9h3.6v3.6h-3.6zM834.5 959.8h3.6v3.6h-3.6zM844.6 942.6h3.6v3.6h-3.6zM803.8 992.1h3.6v3.6h-3.6zM754.9 981.3h3.6v3.6h-3.6zM826.2 942.2h3.6v3.6h-3.6zM757.2 977.2h3.6v3.6h-3.6zM801.3 930.1h3.6v3.6h-3.6zM751.3 929.4h3.6v3.6h-3.6zM788.7 943.8h3.6v3.6h-3.6zM849.9 987.4h3.6v3.6h-3.6zM759.9 929.7h3.6v3.6h-3.6zM836.1 947.8h3.6v3.6h-3.6zM766.6 971.8h3.6v3.6h-3.6zM835.9 972.5h3.6v3.6h-3.6zM842.2 967.2h3.6v3.6h-3.6zM794.0 941.0h3.6v3.6h-3.6zM842.1 955.7h3.6v3.6h-3.6zM829.4 930.4h3.6v3.6h-3.6zM788.8 986.2h3.6v3.6h-3.6zM847.2 958.8h3.6v3.6h-3.6zM816.7 978.3h3.6v3.6h-3.6zM778.5 918.5h3.6v3.6h-3.6zM763.6 964.6h3.6v3.6h-3.6zM787.8 969.2h3.6v3.6h-3.6zM755.4 1001.3h3.6v3.6h-3.6zM796.3 951.8h3.6v3.6h-3.6zM847.2 939.3h3.6v3.6h-3.6zM829.5 932.5h3.6v3.6h-3.6zM805.2 932.5h3.6v3.6h-3.6zM787.5 977.2h3.6v3.6h-3.6zM844.6 960.2h3.6v3.6h-3.6zM816.4 990.9h3.6v3.6h-3.6zM774.8 966.7h3.6v3.6h-3.6zM796.0 957.1h3.6v3.6h-3.6zM817.3 955.4h3.6v3.6h-3.6zM809.7 962.6h3.6v3.6h-3.6zM795.5 939.0h3.6v3.6h-3.6zM812.8 982.2h3.6v3.6h-3.6zM836.7 1008.5h3.6v3.6h-3.6zM816.3 945.1h3.6v3.6h-3.6zM775.1 944.3h3.6v3.6h-3.6zM799.2 953.9h3.6v3.6h-3.6zM765.1 970.5h3.6v3.6h-3.6zM845.8 973.4h3.6v3.6h-3.6zM846.2 964.4h3.6v3.6h-3.6zM811.2 946.1h3.6v3.6h-3.6zM819.8 949.0h3.6v3.6h-3.6zM853.7 940.2h3.6v3.6h-3.6zM775.3 952.0h3.6v3.6h-3.6zM773.3 950.6h3.6v3.6h-3.6zM850.0 961.6h3.6v3.6h-3.6zM835.5 929.6h3.6v3.6h-3.6zM844.6 948.6h3.6v3.6h-3.6zM756.6 956.4h3.6v3.6h-3.6zM745.9 946.2h3.6v3.6h-3.6zM842.1 938.4h3.6v3.6h-3.6zM809.2 933.2h3.6v3.6h-3.6zM814.1 951.1h3.6v3.6h-3.6zM767.7 956.3h3.6v3.6h-3.6zM797.1 987.7h3.6v3.6h-3.6zM835.1 937.5h3.6v3.6h-3.6zM800.7 974.6h3.6v3.6h-3.6zM759.6 949.5h3.6v3.6h-3.6zM847.0 994.8h3.6v3.6h-3.6zM811.3 958.1h3.6v3.6h-3.6zM797.7 933.4h3.6v3.6h-3.6zM770.8 952.0h3.6v3.6h-3.6zM816.7 962.9h3.6v3.6h-3.6zM767.9 974.4h3.6v3.6h-3.6zM767.7 981.7h3.6v3.6h-3.6zM815.5 992.5h3.6v3.6h-3.6zM852.0 986.6h3.6v3.6h-3.6zM780.7 912.6h3.6v3.6h-3.6zM839.5 978.9h3.6v3.6h-3.6zM806.5 922.8h3.6v3.6h-3.6zM794.9 964.5h3.6v3.6h-3.6zM842.2 977.4h3.6v3.6h-3.6zM815.1 983.6h3.6v3.6h-3.6zM844.0 960.0h3.6v3.6h-3.6zM825.7 965.7h3.6v3.6h-3.6zM822.2 995.4h3.6v3.6h-3.6zM822.4 922.9h3.6v3.6h-3.6zM822.0 973.3h3.6v3.6h-3.6zM796.0 926.4h3.6v3.6h-3.6zM815.5 957.8h3.6v3.6h-3.6zM829.1 949.7h3.6v3.6h-3.6zM843.9 958.5h3.6v3.6h-3.6zM806.3 932.3h3.6v3.6h-3.6zM850.0 952.6h3.6v3.6h-3.6zM812.0 949.0h3.6v3.6h-3.6zM751.7 962.5h3.6v3.6h-3.6zM850.0 922.6h3.6v3.6h-3.6zM813.2 945.7h3.6v3.6h-3.6zM808.6 976.1h3.6v3.6h-3.6zM842.4 962.4h3.6v3.6h-3.6zM823.5 979.2h3.6v3.6h-3.6zM822.0 964.3h3.6v3.6h-3.6zM824.8 944.3h3.6v3.6h-3.6zM801.7 946.6h3.6v3.6h-3.6zM775.2 966.9h3.6v3.6h-3.6zM843.0 965.8h3.6v3.6h-3.6zM835.5 932.5h3.6v3.6h-3.6zM812.4 977.9h3.6v3.6h-3.6zM827.7 970.2h3.6v3.6h-3.6zM844.6 966.4h3.6v3.6h-3.6zM786.0 952.4h3.6v3.6h-3.6zM811.2 943.0h3.6v3.6h-3.6zM775.3 963.2h3.6v3.6h-3.6zM826.8 959.6h3.6v3.6h-3.6zM796.0 1001.1h3.6v3.6h-3.6zM815.8 966.0h3.6v3.6h-3.6zM837.3 961.7h3.6v3.6h-3.6zM758.4 954.5h3.6v3.6h-3.6zM764.8 987.2h3.6v3.6h-3.6zM754.6 946.6h3.6v3.6h-3.6zM782.3 980.5h3.6v3.6h-3.6zM844.4 976.6h3.6v3.6h-3.6zM773.3 982.1h3.6v3.6h-3.6zM830.1 932.0h3.6v3.6h-3.6zM833.2 958.2h3.6v3.6h-3.6zM834.2 981.7h3.6v3.6h-3.6zM793.7 941.0h3.6v3.6h-3.6zM837.2 990.8h3.6v3.6h-3.6zM782.1 954.0h3.6v3.6h-3.6zM773.7 994.4h3.6v3.6h-3.6zM803.3 954.6h3.6v3.6h-3.6zM768.4 945.6h3.6v3.6h-3.6zM757.7 950.8h3.6v3.6h-3.6zM844.5 979.1h3.6v3.6h-3.6zM833.0 939.6h3.6v3.6h-3.6zM776.5 959.5h3.6v3.6h-3.6zM822.9 949.5h3.6v3.6h-3.6zM849.6 938.1h3.6v3.6h-3.6zM770.7 972.9h3.6v3.6h-3.6zM797.8 931.9h3.6v3.6h-3.6zM769.6 976.3h3.6v3.6h-3.6zM817.3 940.8h3.6v3.6h-3.6zM766.1 964.7h3.6v3.6h-3.6zM799.1 985.3h3.6v3.6h-3.6zM815.1 964.9h3.6v3.6h-3.6zM815.4 953.5h3.6v3.6h-3.6zM806.1 989.0h3.6v3.6h-3.6zM799.8 970.0h3.6v3.6h-3.6zM797.6 954.4h3.6v3.6h-3.6zM850.6 985.4h3.6v3.6h-3.6zM801.5 952.5h3.6v3.6h-3.6zM800.1 960.1h3.6v3.6h-3.6zM777.2 948.0h3.6v3.6h-3.6zM823.3 962.4h3.6v3.6h-3.6zM761.9 963.9h3.6v3.6h-3.6zM786.0 957.7h3.6v3.6h-3.6zM808.5 961.6h3.6v3.6h-3.6zM783.0 979.5h3.6v3.6h-3.6zM760.7 953.9h3.6v3.6h-3.6zM849.8 974.6h3.6v3.6h-3.6zM812.3 966.3h3.6v3.6h-3.6zM833.7 950.3h3.6v3.6h-3.6zM825.9 987.1h3.6v3.6h-3.6zM768.5 961.2h3.6v3.6h-3.6zM746.1 934.6h3.6v3.6h-3.6zM828.3 966.7h3.6v3.6h-3.6zM842.6 958.0h3.6v3.6h-3.6zM764.7 945.1h3.6v3.6h-3.6zM789.0 936.6h3.6v3.6h-3.6zM766.4 937.4h3.6v3.6h-3.6zM798.8 917.1h3.6v3.6h-3.6zM844.9 961.2h3.6v3.6h-3.6zM776.0 978.7h3.6v3.6h-3.6zM781.6 963.7h3.6v3.6h-3.6zM808.2 959.5h3.6v3.6h-3.6zM826.7 958.2h3.6v3.6h-3.6zM800.0 965.6h3.6v3.6h-3.6zM754.1 955.1h3.6v3.6h-3.6zM793.5 971.1h3.6v3.6h-3.6zM811.3 947.1h3.6v3.6h-3.6zM770.3 933.1h3.6v3.6h-3.6zM763.1 991.1h3.6v3.6h-3.6zM758.6 937.5h3.6v3.6h-3.6zM780.0 956.6h3.6v3.6h-3.6zM841.1 942.5h3.6v3.6h-3.6zM830.9 963.7h3.6v3.6h-3.6zM833.4 949.3h3.6v3.6h-3.6zM791.1 984.0h3.6v3.6h-3.6zM797.1 967.9h3.6v3.6h-3.6zM821.2 934.3h3.6v3.6h-3.6zM745.3 966.1h3.6v3.6h-3.6zM805.9 945.6h3.6v3.6h-3.6zM852.6 944.5h3.6v3.6h-3.6zM790.9 964.9h3.6v3.6h-3.6zM753.4 973.7h3.6v3.6h-3.6zM810.5 965.6h3.6v3.6h-3.6zM840.9 929.8h3.6v3.6h-3.6zM780.6 951.3h3.6v3.6h-3.6zM804.6 989.2h3.6v3.6h-3.6zM790.7 953.2h3.6v3.6h-3.6zM754.7 975.8h3.6v3.6h-3.6zM824.0 944.6h3.6v3.6h-3.6zM783.0 948.8h3.6v3.6h-3.6zM834.9 944.8h3.6v3.6h-3.6zM812.2 967.9h3.6v3.6h-3.6zM814.8 977.7h3.6v3.6h-3.6zM847.5 958.1h3.6v3.6h-3.6zM791.3 946.7h3.6v3.6h-3.6zM806.7 975.2h3.6v3.6h-3.6zM835.6 982.9h3.6v3.6h-3.6zM783.1 983.7h3.6v3.6h-3.6zM850.3 950.0h3.6v3.6h-3.6zM806.4 915.7h3.6v3.6h-3.6zM831.9 962.9h3.6v3.6h-3.6zM761.9 946.7h3.6v3.6h-3.6zM826.3 951.3h3.6v3.6h-3.6zM800.4 934.8h3.6v3.6h-3.6zM826.1 942.4h3.6v3.6h-3.6zM817.6 934.8h3.6v3.6h-3.6zM785.3 930.4h3.6v3.6h-3.6zM853.7 946.1h3.6v3.6h-3.6zM847.2 956.6h3.6v3.6h-3.6zM833.5 985.1h3.6v3.6h-3.6zM780.6 938.1h3.6v3.6h-3.6zM810.0 941.0h3.6v3.6h-3.6zM853.9 974.6h3.6v3.6h-3.6zM789.5 1009.9h3.6v3.6h-3.6zM761.3 981.6h3.6v3.6h-3.6zM798.9 979.2h3.6v3.6h-3.6zM800.2 953.4h3.6v3.6h-3.6zM806.0 935.4h3.6v3.6h-3.6zM823.5 951.8h3.6v3.6h-3.6zM813.5 940.8h3.6v3.6h-3.6zM819.8 962.2h3.6v3.6h-3.6zM789.8 953.5h3.6v3.6h-3.6zM830.8 990.1h3.6v3.6h-3.6zM824.9 928.6h3.6v3.6h-3.6zM802.0 976.2h3.6v3.6h-3.6zM786.2 954.2h3.6v3.6h-3.6zM778.9 940.4h3.6v3.6h-3.6zM798.9 936.0h3.6v3.6h-3.6zM776.0 966.5h3.6v3.6h-3.6zM824.9 952.4h3.6v3.6h-3.6zM842.2 947.1h3.6v3.6h-3.6zM820.5 964.4h3.6v3.6h-3.6zM841.7 965.6h3.6v3.6h-3.6zM777.2 994.5h3.6v3.6h-3.6zM835.4 962.4h3.6v3.6h-3.6zM763.5 964.9h3.6v3.6h-3.6zM809.0 966.0h3.6v3.6h-3.6zM788.0 910.3h3.6v3.6h-3.6zM790.9 957.5h3.6v3.6h-3.6zM758.1 968.2h3.6v3.6h-3.6zM842.1 947.6h3.6v3.6h-3.6zM773.2 898.1h3.6v3.6h-3.6zM837.0 916.0h3.6v3.6h-3.6zM751.4 955.4h3.6v3.6h-3.6zM807.8 968.2h3.6v3.6h-3.6zM836.7 937.8h3.6v3.6h-3.6zM838.8 932.7h3.6v3.6h-3.6zM802.8 955.4h3.6v3.6h-3.6zM848.0 966.0h3.6v3.6h-3.6zM810.9 958.3h3.6v3.6h-3.6zM808.0 955.0h3.6v3.6h-3.6zM781.8 980.7h3.6v3.6h-3.6zM779.4 954.0h3.6v3.6h-3.6zM773.3 980.6h3.6v3.6h-3.6zM860.9 966.3h3.6v3.6h-3.6zM757.7 941.4h3.6v3.6h-3.6zM828.8 945.8h3.6v3.6h-3.6zM832.8 939.8h3.6v3.6h-3.6zM791.9 960.7h3.6v3.6h-3.6zM785.7 951.9h3.6v3.6h-3.6zM776.4 948.4h3.6v3.6h-3.6zM751.4 943.9h3.6v3.6h-3.6zM834.2 978.0h3.6v3.6h-3.6zM803.8 955.4h3.6v3.6h-3.6zM825.3 943.7h3.6v3.6h-3.6zM757.1 965.7h3.6v3.6h-3.6zM801.1 985.1h3.6v3.6h-3.6zM795.7 951.7h3.6v3.6h-3.6zM831.3 955.6h3.6v3.6h-3.6zM754.2 959.2h3.6v3.6h-3.6zM845.6 983.4h3.6v3.6h-3.6zM853.0 951.8h3.6v3.6h-3.6zM826.1 985.3h3.6v3.6h-3.6zM842.0 949.0h3.6v3.6h-3.6zM809.0 976.2h3.6v3.6h-3.6zM832.9 957.8h3.6v3.6h-3.6zM845.0 947.0h3.6v3.6h-3.6zM824.6 944.1h3.6v3.6h-3.6zM824.2 946.5h3.6v3.6h-3.6zM799.4 968.6h3.6v3.6h-3.6zM791.2 974.5h3.6v3.6h-3.6zM812.3 996.3h3.6v3.6h-3.6zM852.2 954.7h3.6v3.6h-3.6zM777.7 972.0h3.6v3.6h-3.6zM838.0 948.2h3.6v3.6h-3.6zM836.7 957.9h3.6v3.6h-3.6zM801.9 973.5h3.6v3.6h-3.6zM834.1 980.6h3.6v3.6h-3.6zM838.4 940.7h3.6v3.6h-3.6zM812.5 946.3h3.6v3.6h-3.6zM845.2 946.7h3.6v3.6h-3.6zM753.7 972.0h3.6v3.6h-3.6zM793.7 961.6h3.6v3.6h-3.6zM752.5 1022.4h3.6v3.6h-3.6zM783.3 942.0h3.6v3.6h-3.6zM854.7 949.8h3.6v3.6h-3.6zM802.9 948.6h3.6v3.6h-3.6zM756.3 943.8h3.6v3.6h-3.6zM829.4 912.8h3.6v3.6h-3.6zM837.4 953.3h3.6v3.6h-3.6zM844.9 967.8h3.6v3.6h-3.6zM787.1 957.7h3.6v3.6h-3.6zM802.5 971.4h3.6v3.6h-3.6zM828.5 952.6h3.6v3.6h-3.6zM845.9 972.9h3.6v3.6h-3.6zM839.0 928.2h3.6v3.6h-3.6zM843.2 968.1h3.6v3.6h-3.6zM846.0 978.4h3.6v3.6h-3.6zM804.6 958.0h3.6v3.6h-3.6zM824.7 953.8h3.6v3.6h-3.6zM767.8 989.3h3.6v3.6h-3.6zM747.9 940.2h3.6v3.6h-3.6zM812.2 993.8h3.6v3.6h-3.6zM824.4 950.1h3.6v3.6h-3.6zM800.4 932.6h3.6v3.6h-3.6zM811.9 950.9h3.6v3.6h-3.6zM842.4 957.0h3.6v3.6h-3.6zM843.4 888.0h3.6v3.6h-3.6zM847.6 966.8h3.6v3.6h-3.6zM751.1 954.5h3.6v3.6h-3.6zM771.9 946.6h3.6v3.6h-3.6zM827.0 937.2h3.6v3.6h-3.6zM812.1 964.1h3.6v3.6h-3.6zM759.2 1009.1h3.6v3.6h-3.6zM774.6 980.3h3.6v3.6h-3.6zM836.1 978.3h3.6v3.6h-3.6zM821.9 964.6h3.6v3.6h-3.6zM848.3 947.1h3.6v3.6h-3.6zM825.0 967.4h3.6v3.6h-3.6zM795.5 957.0h3.6v3.6h-3.6zM846.0 959.9h3.6v3.6h-3.6zM751.6 939.5h3.6v3.6h-3.6zM800.4 923.5h3.6v3.6h-3.6zM823.8 964.9h3.6v3.6h-3.6zM815.0 964.3h3.6v3.6h-3.6zM810.2 988.4h3.6v3.6h-3.6zM825.7 955.1h3.6v3.6h-3.6zM803.7 965.6h3.6v3.6h-3.6zM773.4 953.8h3.6v3.6h-3.6zM769.7 948.3h3.6v3.6h-3.6zM777.7 963.8h3.6v3.6h-3.6zM761.5 963.3h3.6v3.6h-3.6zM839.9 975.0h3.6v3.6h-3.6zM817.6 962.2h3.6v3.6h-3.6zM786.9 975.7h3.6v3.6h-3.6zM856.7 956.6h3.6v3.6h-3.6zM804.3 947.2h3.6v3.6h-3.6zM838.5 938.0h3.6v3.6h-3.6zM809.9 996.5h3.6v3.6h-3.6zM842.4 977.7h3.6v3.6h-3.6zM798.7 953.2h3.6v3.6h-3.6zM781.1 939.4h3.6v3.6h-3.6zM828.9 971.9h3.6v3.6h-3.6zM842.4 945.6h3.6v3.6h-3.6zM792.6 944.6h3.6v3.6h-3.6zM767.8 949.9h3.6v3.6h-3.6zM787.7 934.2h3.6v3.6h-3.6zM831.0 946.4h3.6v3.6h-3.6zM783.1 955.7h3.6v3.6h-3.6zM808.1 958.2h3.6v3.6h-3.6zM793.7 963.0h3.6v3.6h-3.6zM764.2 941.1h3.6v3.6h-3.6zM830.6 935.1h3.6v3.6h-3.6zM808.0 937.6h3.6v3.6h-3.6zM755.9 937.1h3.6v3.6h-3.6zM809.2 930.4h3.6v3.6h-3.6zM848.0 950.6h3.6v3.6h-3.6zM823.6 956.5h3.6v3.6h-3.6zM823.5 937.8h3.6v3.6h-3.6zM797.6 980.1h3.6v3.6h-3.6zM828.0 979.1h3.6v3.6h-3.6zM833.0 969.9h3.6v3.6h-3.6zM816.5 947.5h3.6v3.6h-3.6zM843.1 977.4h3.6v3.6h-3.6zM842.4 953.4h3.6v3.6h-3.6zM828.5 943.1h3.6v3.6h-3.6zM820.6 971.8h3.6v3.6h-3.6zM840.7 958.2h3.6v3.6h-3.6zM826.4 945.1h3.6v3.6h-3.6zM829.6 953.7h3.6v3.6h-3.6zM822.7 974.0h3.6v3.6h-3.6zM797.9 946.0h3.6v3.6h-3.6zM848.2 958.7h3.6v3.6h-3.6zM846.5 965.9h3.6v3.6h-3.6zM821.7 954.7h3.6v3.6h-3.6zM832.1 949.4h3.6v3.6h-3.6zM790.1 957.2h3.6v3.6h-3.6zM819.2 959.8h3.6v3.6h-3.6zM828.9 976.8h3.6v3.6h-3.6zM830.9 964.9h3.6v3.6h-3.6zM826.1 969.9h3.6v3.6h-3.6zM850.1 980.2h3.6v3.6h-3.6zM828.8 952.8h3.6v3.6h-3.6zM834.2 969.1h3.6v3.6h-3.6zM847.0 952.5h3.6v3.6h-3.6zM839.1 976.1h3.6v3.6h-3.6zM839.1 960.0h3.6v3.6h-3.6zM821.4 942.7h3.6v3.6h-3.6zM808.1 941.4h3.6v3.6h-3.6zM826.3 962.3h3.6v3.6h-3.6zM821.3 961.4h3.6v3.6h-3.6zM825.3 959.3h3.6v3.6h-3.6zM813.1 973.9h3.6v3.6h-3.6zM830.9 968.8h3.6v3.6h-3.6zM830.5 961.6h3.6v3.6h-3.6zM802.3 980.3h3.6v3.6h-3.6zM825.5 962.5h3.6v3.6h-3.6zM830.9 947.2h3.6v3.6h-3.6zM810.4 963.8h3.6v3.6h-3.6zM820.1 956.5h3.6v3.6h-3.6zM809.3 931.5h3.6v3.6h-3.6zM838.2 979.9h3.6v3.6h-3.6zM828.5 938.6h3.6v3.6h-3.6zM814.7 944.5h3.6v3.6h-3.6zM801.3 936.6h3.6v3.6h-3.6zM826.8 940.2h3.6v3.6h-3.6zM824.9 954.8h3.6v3.6h-3.6zM820.4 957.2h3.6v3.6h-3.6zM809.4 942.0h3.6v3.6h-3.6zM815.3 955.7h3.6v3.6h-3.6zM846.7 963.0h3.6v3.6h-3.6zM806.9 954.6h3.6v3.6h-3.6zM820.1 949.2h3.6v3.6h-3.6zM813.2 944.0h3.6v3.6h-3.6zM842.5 946.8h3.6v3.6h-3.6zM848.2 946.8h3.6v3.6h-3.6zM809.0 971.7h3.6v3.6h-3.6zM828.3 968.0h3.6v3.6h-3.6zM816.6 946.2h3.6v3.6h-3.6zM804.9 958.4h3.6v3.6h-3.6zM831.4 955.2h3.6v3.6h-3.6zM830.4 951.0h3.6v3.6h-3.6zM832.8 955.8h3.6v3.6h-3.6zM813.3 940.8h3.6v3.6h-3.6zM841.6 956.7h3.6v3.6h-3.6zM813.9 972.7h3.6v3.6h-3.6zM799.8 947.6h3.6v3.6h-3.6zM813.7 970.7h3.6v3.6h-3.6zM790.1 947.1h3.6v3.6h-3.6zM849.6 925.9h3.6v3.6h-3.6zM796.9 957.4h3.6v3.6h-3.6zM837.4 960.2h3.6v3.6h-3.6zM835.8 962.9h3.6v3.6h-3.6zM818.6 971.1h3.6v3.6h-3.6zM822.8 955.0h3.6v3.6h-3.6zM816.8 952.5h3.6v3.6h-3.6zM802.8 974.8h3.6v3.6h-3.6zM811.4 947.6h3.6v3.6h-3.6zM842.1 940.3h3.6v3.6h-3.6zM836.5 963.1h3.6v3.6h-3.6zM820.6 958.8h3.6v3.6h-3.6zM829.2 946.7h3.6v3.6h-3.6zM833.1 960.2h3.6v3.6h-3.6zM825.1 947.6h3.6v3.6h-3.6zM806.7 955.4h3.6v3.6h-3.6zM799.6 952.4h3.6v3.6h-3.6zM816.1 938.6h3.6v3.6h-3.6zM819.7 974.6h3.6v3.6h-3.6zM814.4 974.2h3.6v3.6h-3.6zM811.7 925.2h3.6v3.6h-3.6zM848.7 963.3h3.6v3.6h-3.6zM827.6 946.1h3.6v3.6h-3.6zM800.7 940.7h3.6v3.6h-3.6zM820.5 925.7h3.6v3.6h-3.6zM806.9 976.6h3.6v3.6h-3.6zM830.0 948.3h3.6v3.6h-3.6zM808.0 955.6h3.6v3.6h-3.6zM828.9 957.1h3.6v3.6h-3.6zM830.6 930.1h3.6v3.6h-3.6zM827.3 973.4h3.6v3.6h-3.6zM827.3 952.5h3.6v3.6h-3.6zM816.4 980.3h3.6v3.6h-3.6zM796.0 935.6h3.6v3.6h-3.6zM808.8 938.9h3.6v3.6h-3.6zM806.8 936.6h3.6v3.6h-3.6zM822.7 964.0h3.6v3.6h-3.6zM831.5 951.1h3.6v3.6h-3.6zM829.4 949.0h3.6v3.6h-3.6zM822.9 960.8h3.6v3.6h-3.6zM848.3 993.4h3.6v3.6h-3.6zM808.9 995.3h3.6v3.6h-3.6zM835.9 961.1h3.6v3.6h-3.6zM797.2 932.2h3.6v3.6h-3.6zM826.6 969.3h3.6v3.6h-3.6zM811.3 958.3h3.6v3.6h-3.6zM836.0 960.9h3.6v3.6h-3.6zM814.0 944.0h3.6v3.6h-3.6zM814.1 954.6h3.6v3.6h-3.6zM822.3 971.9h3.6v3.6h-3.6zM832.1 964.0h3.6v3.6h-3.6zM847.1 937.7h3.6v3.6h-3.6zM835.9 947.5h3.6v3.6h-3.6zM839.7 949.4h3.6v3.6h-3.6zM836.6 965.1h3.6v3.6h-3.6zM835.5 954.3h3.6v3.6h-3.6zM819.7 961.1h3.6v3.6h-3.6zM818.2 960.6h3.6v3.6h-3.6zM839.4 953.3h3.6v3.6h-3.6zM820.6 967.6h3.6v3.6h-3.6zM815.5 952.4h3.6v3.6h-3.6zM824.8 944.9h3.6v3.6h-3.6zM789.3 964.6h3.6v3.6h-3.6zM810.3 959.7h3.6v3.6h-3.6zM829.0 926.0h3.6v3.6h-3.6zM817.8 942.2h3.6v3.6h-3.6zM831.6 952.5h3.6v3.6h-3.6zM843.2 951.2h3.6v3.6h-3.6zM827.3 963.7h3.6v3.6h-3.6zM827.5 966.3h3.6v3.6h-3.6zM817.7 936.4h3.6v3.6h-3.6zM810.7 949.2h3.6v3.6h-3.6zM824.5 961.0h3.6v3.6h-3.6zM802.7 954.4h3.6v3.6h-3.6zM823.4 946.6h3.6v3.6h-3.6zM832.1 963.0h3.6v3.6h-3.6zM830.6 961.2h3.6v3.6h-3.6zM805.0 946.8h3.6v3.6h-3.6zM819.3 991.3h3.6v3.6h-3.6zM832.9 961.7h3.6v3.6h-3.6zM840.2 944.0h3.6v3.6h-3.6zM810.3 955.1h3.6v3.6h-3.6zM818.9 940.7h3.6v3.6h-3.6zM830.9 971.6h3.6v3.6h-3.6zM853.6 954.1h3.6v3.6h-3.6zM824.8 965.0h3.6v3.6h-3.6zM836.6 968.1h3.6v3.6h-3.6zM820.9 923.7h3.6v3.6h-3.6zM816.9 944.8h3.6v3.6h-3.6zM826.5 956.1h3.6v3.6h-3.6zM805.4 944.7h3.6v3.6h-3.6zM799.8 967.4h3.6v3.6h-3.6zM836.3 946.4h3.6v3.6h-3.6zM797.7 967.7h3.6v3.6h-3.6zM826.5 956.6h3.6v3.6h-3.6zM837.1 960.8h3.6v3.6h-3.6zM809.7 953.7h3.6v3.6h-3.6zM813.9 965.1h3.6v3.6h-3.6zM844.2 977.9h3.6v3.6h-3.6zM811.2 968.1h3.6v3.6h-3.6zM827.4 962.6h3.6v3.6h-3.6zM842.4 971.0h3.6v3.6h-3.6zM831.7 964.1h3.6v3.6h-3.6zM817.5 953.8h3.6v3.6h-3.6zM807.6 956.5h3.6v3.6h-3.6zM823.2 935.2h3.6v3.6h-3.6zM823.9 963.3h3.6v3.6h-3.6zM824.5 955.6h3.6v3.6h-3.6zM833.6 948.7h3.6v3.6h-3.6zM827.1 931.8h3.6v3.6h-3.6zM810.6 948.9h3.6v3.6h-3.6zM819.2 956.8h3.6v3.6h-3.6zM866.5 950.0h3.6v3.6h-3.6zM862.8 967.9h3.6v3.6h-3.6zM823.5 959.8h3.6v3.6h-3.6zM831.5 952.3h3.6v3.6h-3.6zM821.7 978.6h3.6v3.6h-3.6zM823.6 944.4h3.6v3.6h-3.6zM843.8 966.6h3.6v3.6h-3.6zM844.9 966.4h3.6v3.6h-3.6zM803.1 962.7h3.6v3.6h-3.6zM830.2 968.4h3.6v3.6h-3.6zM829.2 953.6h3.6v3.6h-3.6zM791.2 953.7h3.6v3.6h-3.6zM809.2 948.3h3.6v3.6h-3.6zM846.0 954.8h3.6v3.6h-3.6zM821.9 932.2h3.6v3.6h-3.6zM826.1 945.9h3.6v3.6h-3.6zM827.4 957.2h3.6v3.6h-3.6zM800.2 953.4h3.6v3.6h-3.6zM828.3 968.5h3.6v3.6h-3.6zM824.5 965.0h3.6v3.6h-3.6zM822.3 970.5h3.6v3.6h-3.6zM824.2 970.8h3.6v3.6h-3.6zM817.0 937.9h3.6v3.6h-3.6zM834.7 964.1h3.6v3.6h-3.6zM812.0 953.8h3.6v3.6h-3.6zM816.2 963.6h3.6v3.6h-3.6zM816.6 946.3h3.6v3.6h-3.6zM837.3 959.4h3.6v3.6h-3.6zM826.2 952.1h3.6v3.6h-3.6zM827.3 958.5h3.6v3.6h-3.6zM827.1 965.7h3.6v3.6h-3.6zM813.7 947.0h3.6v3.6h-3.6zM818.7 947.2h3.6v3.6h-3.6zM849.1 973.5h3.6v3.6h-3.6zM809.1 950.8h3.6v3.6h-3.6zM840.4 962.9h3.6v3.6h-3.6zM828.9 951.9h3.6v3.6h-3.6zM836.9 961.9h3.6v3.6h-3.6zM821.5 953.7h3.6v3.6h-3.6zM839.4 990.8h3.6v3.6h-3.6zM818.5 933.7h3.6v3.6h-3.6zM824.6 951.2h3.6v3.6h-3.6zM826.5 947.1h3.6v3.6h-3.6zM829.4 987.3h3.6v3.6h-3.6zM822.2 964.1h3.6v3.6h-3.6zM830.1 944.6h3.6v3.6h-3.6zM827.1 949.4h3.6v3.6h-3.6zM815.1 959.3h3.6v3.6h-3.6zM835.0 968.2h3.6v3.6h-3.6zM813.9 960.2h3.6v3.6h-3.6zM840.3 945.7h3.6v3.6h-3.6zM822.7 962.7h3.6v3.6h-3.6zM825.4 950.9h3.6v3.6h-3.6zM824.7 963.6h3.6v3.6h-3.6zM827.3 952.3h3.6v3.6h-3.6zM816.8 972.5h3.6v3.6h-3.6zM836.5 938.5h3.6v3.6h-3.6zM792.7 945.2h3.6v3.6h-3.6zM790.7 967.7h3.6v3.6h-3.6zM829.0 931.9h3.6v3.6h-3.6zM811.4 953.9h3.6v3.6h-3.6zM829.6 976.3h3.6v3.6h-3.6zM832.4 964.9h3.6v3.6h-3.6zM783.7 941.9h3.6v3.6h-3.6zM808.2 943.2h3.6v3.6h-3.6zM825.3 958.2h3.6v3.6h-3.6zM806.1 963.7h3.6v3.6h-3.6zM834.4 959.1h3.6v3.6h-3.6zM837.7 968.6h3.6v3.6h-3.6zM810.4 960.4h3.6v3.6h-3.6zM801.6 959.2h3.6v3.6h-3.6zM835.3 944.5h3.6v3.6h-3.6zM812.0 953.2h3.6v3.6h-3.6zM824.9 953.3h3.6v3.6h-3.6zM822.7 967.6h3.6v3.6h-3.6zM813.8 937.1h3.6v3.6h-3.6zM837.5 940.6h3.6v3.6h-3.6zM817.5 957.7h3.6v3.6h-3.6zM810.2 970.8h3.6v3.6h-3.6zM841.6 923.2h3.6v3.6h-3.6zM802.4 965.0h3.6v3.6h-3.6zM822.7 968.6h3.6v3.6h-3.6zM840.8 957.9h3.6v3.6h-3.6zM815.4 967.4h3.6v3.6h-3.6zM805.5 963.0h3.6v3.6h-3.6zM844.9 939.5h3.6v3.6h-3.6zM814.7 978.0h3.6v3.6h-3.6zM814.7 968.6h3.6v3.6h-3.6zM818.9 935.3h3.6v3.6h-3.6zM825.7 961.8h3.6v3.6h-3.6zM832.9 982.4h3.6v3.6h-3.6zM830.4 958.0h3.6v3.6h-3.6zM815.5 967.7h3.6v3.6h-3.6zM834.3 953.4h3.6v3.6h-3.6zM827.7 962.4h3.6v3.6h-3.6zM809.3 940.3h3.6v3.6h-3.6zM820.2 959.9h3.6v3.6h-3.6zM818.4 947.5h3.6v3.6h-3.6zM831.6 958.0h3.6v3.6h-3.6zM837.1 960.7h3.6v3.6h-3.6zM837.3 974.8h3.6v3.6h-3.6zM816.4 955.8h3.6v3.6h-3.6zM820.9 971.6h3.6v3.6h-3.6zM865.0 955.0h3.6v3.6h-3.6zM837.1 955.1h3.6v3.6h-3.6zM832.8 977.1h3.6v3.6h-3.6zM822.6 949.8h3.6v3.6h-3.6zM820.1 962.3h3.6v3.6h-3.6zM844.9 960.7h3.6v3.6h-3.6zM828.1 972.7h3.6v3.6h-3.6zM814.1 952.0h3.6v3.6h-3.6zM841.1 968.0h3.6v3.6h-3.6zM829.3 948.4h3.6v3.6h-3.6zM799.5 960.2h3.6v3.6h-3.6zM828.5 951.7h3.6v3.6h-3.6zM808.0 949.4h3.6v3.6h-3.6zM826.8 951.6h3.6v3.6h-3.6zM813.2 958.6h3.6v3.6h-3.6zM782.0 971.2h3.6v3.6h-3.6zM825.3 955.0h3.6v3.6h-3.6zM824.9 967.8h3.6v3.6h-3.6zM806.7 967.4h3.6v3.6h-3.6zM812.1 961.7h3.6v3.6h-3.6zM824.4 974.6h3.6v3.6h-3.6zM805.6 954.2h3.6v3.6h-3.6zM818.0 970.0h3.6v3.6h-3.6zM819.7 942.0h3.6v3.6h-3.6zM843.8 957.8h3.6v3.6h-3.6zM804.8 960.4h3.6v3.6h-3.6zM831.8 971.9h3.6v3.6h-3.6zM788.8 962.4h3.6v3.6h-3.6zM842.0 983.6h3.6v3.6h-3.6zM846.6 953.3h3.6v3.6h-3.6zM822.8 925.5h3.6v3.6h-3.6zM831.9 948.4h3.6v3.6h-3.6zM838.0 941.7h3.6v3.6h-3.6zM850.9 967.8h3.6v3.6h-3.6zM823.8 957.4h3.6v3.6h-3.6zM810.1 963.9h3.6v3.6h-3.6zM834.5 950.4h3.6v3.6h-3.6zM808.2 971.3h3.6v3.6h-3.6zM837.1 965.6h3.6v3.6h-3.6zM831.9 963.3h3.6v3.6h-3.6zM813.6 953.9h3.6v3.6h-3.6zM802.5 972.6h3.6v3.6h-3.6zM808.8 946.3h3.6v3.6h-3.6zM819.6 978.0h3.6v3.6h-3.6zM806.8 942.2h3.6v3.6h-3.6zM830.6 945.9h3.6v3.6h-3.6zM843.2 954.4h3.6v3.6h-3.6zM836.8 971.0h3.6v3.6h-3.6zM829.5 961.3h3.6v3.6h-3.6zM852.8 960.1h3.6v3.6h-3.6zM823.4 957.3h3.6v3.6h-3.6zM832.5 956.1h3.6v3.6h-3.6zM810.2 953.8h3.6v3.6h-3.6zM822.7 964.2h3.6v3.6h-3.6zM820.8 948.7h3.6v3.6h-3.6zM845.5 944.3h3.6v3.6h-3.6zM835.9 960.7h3.6v3.6h-3.6zM832.6 948.8h3.6v3.6h-3.6zM819.9 958.4h3.6v3.6h-3.6zM799.1 949.6h3.6v3.6h-3.6zM818.1 954.9h3.6v3.6h-3.6zM827.3 963.6h3.6v3.6h-3.6zM829.4 942.0h3.6v3.6h-3.6zM816.1 934.9h3.6v3.6h-3.6zM807.9 934.2h3.6v3.6h-3.6zM818.9 971.8h3.6v3.6h-3.6zM818.5 935.5h3.6v3.6h-3.6zM831.8 962.9h3.6v3.6h-3.6zM820.2 964.5h3.6v3.6h-3.6zM847.5 952.4h3.6v3.6h-3.6zM847.9 947.2h3.6v3.6h-3.6zM812.3 937.3h3.6v3.6h-3.6zM820.1 962.3h3.6v3.6h-3.6zM833.0 944.1h3.6v3.6h-3.6zM815.2 953.8h3.6v3.6h-3.6zM853.7 967.3h3.6v3.6h-3.6zM840.3 965.0h3.6v3.6h-3.6zM805.3 945.4h3.6v3.6h-3.6zM815.3 955.6h3.6v3.6h-3.6zM825.1 951.5h3.6v3.6h-3.6zM851.6 938.5h3.6v3.6h-3.6zM842.4 958.8h3.6v3.6h-3.6zM824.0 961.7h3.6v3.6h-3.6zM830.3 943.5h3.6v3.6h-3.6zM823.8 964.4h3.6v3.6h-3.6zM815.4 973.2h3.6v3.6h-3.6zM817.3 952.0h3.6v3.6h-3.6zM801.8 976.6h3.6v3.6h-3.6zM845.3 959.1h3.6v3.6h-3.6zM843.9 962.5h3.6v3.6h-3.6zM817.6 946.5h3.6v3.6h-3.6zM822.6 950.7h3.6v3.6h-3.6zM833.2 988.1h3.6v3.6h-3.6zM793.5 935.4h3.6v3.6h-3.6zM821.8 955.8h3.6v3.6h-3.6zM833.9 960.1h3.6v3.6h-3.6zM811.0 985.8h3.6v3.6h-3.6zM814.7 943.5h3.6v3.6h-3.6zM799.8 940.3h3.6v3.6h-3.6zM810.3 967.2h3.6v3.6h-3.6zM805.1 972.7h3.6v3.6h-3.6zM839.1 929.2h3.6v3.6h-3.6zM825.3 966.4h3.6v3.6h-3.6zM839.2 951.7h3.6v3.6h-3.6zM831.2 964.4h3.6v3.6h-3.6zM829.2 957.8h3.6v3.6h-3.6zM800.2 964.7h3.6v3.6h-3.6zM810.6 959.1h3.6v3.6h-3.6zM803.7 957.9h3.6v3.6h-3.6zM825.7 933.1h3.6v3.6h-3.6zM819.5 943.5h3.6v3.6h-3.6zM832.0 969.1h3.6v3.6h-3.6zM851.0 940.4h3.6v3.6h-3.6zM836.4 974.6h3.6v3.6h-3.6zM815.2 960.0h3.6v3.6h-3.6zM832.6 954.6h3.6v3.6h-3.6zM843.4 922.8h3.6v3.6h-3.6zM780.6 920.3h3.6v3.6h-3.6zM839.3 911.1h3.6v3.6h-3.6zM789.6 906.8h3.6v3.6h-3.6zM783.6 921.0h3.6v3.6h-3.6zM834.0 912.7h3.6v3.6h-3.6zM830.9 929.4h3.6v3.6h-3.6zM785.4 927.0h3.6v3.6h-3.6zM770.6 919.8h3.6v3.6h-3.6zM808.9 930.1h3.6v3.6h-3.6zM821.3 908.3h3.6v3.6h-3.6zM818.7 906.1h3.6v3.6h-3.6zM845.6 916.3h3.6v3.6h-3.6zM800.2 928.2h3.6v3.6h-3.6zM822.4 916.3h3.6v3.6h-3.6zM834.5 907.9h3.6v3.6h-3.6zM773.7 930.1h3.6v3.6h-3.6zM786.8 922.5h3.6v3.6h-3.6zM797.3 911.5h3.6v3.6h-3.6zM767.2 924.9h3.6v3.6h-3.6zM833.9 908.0h3.6v3.6h-3.6zM811.0 909.0h3.6v3.6h-3.6zM816.3 917.8h3.6v3.6h-3.6zM767.1 932.6h3.6v3.6h-3.6zM836.6 916.5h3.6v3.6h-3.6zM838.3 922.6h3.6v3.6h-3.6zM767.4 916.3h3.6v3.6h-3.6zM834.7 932.8h3.6v3.6h-3.6zM814.9 921.0h3.6v3.6h-3.6zM842.8 908.4h3.6v3.6h-3.6zM789.4 906.3h3.6v3.6h-3.6zM830.8 932.6h3.6v3.6h-3.6zM772.4 912.4h3.6v3.6h-3.6zM780.9 927.6h3.6v3.6h-3.6zM830.3 905.0h3.6v3.6h-3.6zM809.7 930.1h3.6v3.6h-3.6zM776.0 909.4h3.6v3.6h-3.6zM781.2 928.2h3.6v3.6h-3.6zM781.9 908.7h3.6v3.6h-3.6zM758.2 930.7h3.6v3.6h-3.6zM778.3 910.5h3.6v3.6h-3.6zM837.3 915.6h3.6v3.6h-3.6zM826.1 929.1h3.6v3.6h-3.6zM768.5 925.7h3.6v3.6h-3.6zM798.9 917.9h3.6v3.6h-3.6zM760.3 910.0h3.6v3.6h-3.6zM789.8 912.6h3.6v3.6h-3.6zM793.1 922.7h3.6v3.6h-3.6zM806.2 909.9h3.6v3.6h-3.6zM795.8 921.8h3.6v3.6h-3.6zM830.9 925.6h3.6v3.6h-3.6zM819.1 920.7h3.6v3.6h-3.6zM806.0 925.9h3.6v3.6h-3.6zM782.9 928.0h3.6v3.6h-3.6zM839.7 927.8h3.6v3.6h-3.6zM777.2 904.7h3.6v3.6h-3.6zM777.6 931.8h3.6v3.6h-3.6zM839.4 933.1h3.6v3.6h-3.6zM804.0 906.8h3.6v3.6h-3.6zM819.8 930.2h3.6v3.6h-3.6zM797.0 903.5h3.6v3.6h-3.6zM781.5 917.8h3.6v3.6h-3.6zM772.4 909.0h3.6v3.6h-3.6zM831.8 929.4h3.6v3.6h-3.6zM797.3 922.3h3.6v3.6h-3.6zM842.2 907.5h3.6v3.6h-3.6zM793.6 903.3h3.6v3.6h-3.6zM784.9 914.7h3.6v3.6h-3.6zM823.0 918.8h3.6v3.6h-3.6zM779.0 905.2h3.6v3.6h-3.6zM762.6 905.6h3.6v3.6h-3.6zM762.1 912.1h3.6v3.6h-3.6zM829.8 923.9h3.6v3.6h-3.6zM772.8 906.0h3.6v3.6h-3.6zM816.0 933.1h3.6v3.6h-3.6zM785.1 926.6h3.6v3.6h-3.6zM840.7 924.3h3.6v3.6h-3.6zM813.7 922.3h3.6v3.6h-3.6zM824.8 930.1h3.6v3.6h-3.6zM768.8 917.1h3.6v3.6h-3.6zM802.0 916.5h3.6v3.6h-3.6zM767.8 931.0h3.6v3.6h-3.6zM792.4 909.2h3.6v3.6h-3.6zM801.4 924.6h3.6v3.6h-3.6zM792.3 918.8h3.6v3.6h-3.6zM808.3 928.2h3.6v3.6h-3.6zM811.0 922.8h3.6v3.6h-3.6zM781.8 930.9h3.6v3.6h-3.6zM772.0 914.9h3.6v3.6h-3.6zM813.1 914.0h3.6v3.6h-3.6zM812.5 908.3h3.6v3.6h-3.6zM771.6 911.4h3.6v3.6h-3.6zM833.6 906.9h3.6v3.6h-3.6zM759.7 905.7h3.6v3.6h-3.6zM813.5 923.1h3.6v3.6h-3.6zM829.3 930.5h3.6v3.6h-3.6zM797.8 926.1h3.6v3.6h-3.6zM767.4 927.2h3.6v3.6h-3.6zM794.7 918.4h3.6v3.6h-3.6zM831.8 927.5h3.6v3.6h-3.6zM791.0 927.2h3.6v3.6h-3.6zM766.2 904.0h3.6v3.6h-3.6zM803.5 922.3h3.6v3.6h-3.6zM831.6 919.8h3.6v3.6h-3.6zM812.6 905.3h3.6v3.6h-3.6zM784.3 932.3h3.6v3.6h-3.6zM797.9 920.8h3.6v3.6h-3.6zM786.3 932.1h3.6v3.6h-3.6zM808.9 932.5h3.6v3.6h-3.6zM807.1 922.9h3.6v3.6h-3.6zM785.7 905.0h3.6v3.6h-3.6zM768.3 916.0h3.6v3.6h-3.6zM809.7 909.6h3.6v3.6h-3.6zM833.6 929.1h3.6v3.6h-3.6zM819.2 911.9h3.6v3.6h-3.6zM809.9 903.8h3.6v3.6h-3.6zM799.3 913.0h3.6v3.6h-3.6zM807.7 922.4h3.6v3.6h-3.6zM804.0 906.0h3.6v3.6h-3.6zM804.7 913.4h3.6v3.6h-3.6zM689.3 1112.5h3.6v3.6h-3.6zM704.4 1094.8h3.6v3.6h-3.6zM694.2 1113.4h3.6v3.6h-3.6zM713.6 1096.2h3.6v3.6h-3.6zM681.5 1094.3h3.6v3.6h-3.6zM699.1 1118.1h3.6v3.6h-3.6zM662.8 1111.0h3.6v3.6h-3.6zM714.9 1085.9h3.6v3.6h-3.6zM710.7 1116.5h3.6v3.6h-3.6zM717.2 1121.3h3.6v3.6h-3.6zM709.7 1105.2h3.6v3.6h-3.6zM694.1 1092.4h3.6v3.6h-3.6zM690.7 1109.0h3.6v3.6h-3.6zM690.8 1095.3h3.6v3.6h-3.6zM701.2 1096.3h3.6v3.6h-3.6zM686.7 1091.8h3.6v3.6h-3.6zM670.3 1117.6h3.6v3.6h-3.6zM712.6 1100.8h3.6v3.6h-3.6zM694.3 1096.3h3.6v3.6h-3.6zM688.6 1089.7h3.6v3.6h-3.6zM710.4 1102.6h3.6v3.6h-3.6zM689.9 1093.2h3.6v3.6h-3.6zM686.4 1112.1h3.6v3.6h-3.6zM709.6 1116.3h3.6v3.6h-3.6zM688.2 1118.3h3.6v3.6h-3.6zM704.2 1105.4h3.6v3.6h-3.6zM695.8 1099.5h3.6v3.6h-3.6zM689.6 1101.3h3.6v3.6h-3.6zM681.6 1121.7h3.6v3.6h-3.6zM711.2 1095.2h3.6v3.6h-3.6zM688.1 1119.5h3.6v3.6h-3.6zM729.6 1101.4h3.6v3.6h-3.6zM705.8 1119.1h3.6v3.6h-3.6zM701.1 1109.2h3.6v3.6h-3.6zM712.6 1094.2h3.6v3.6h-3.6zM668.5 1107.7h3.6v3.6h-3.6zM689.9 1103.1h3.6v3.6h-3.6zM658.6 1092.8h3.6v3.6h-3.6zM696.7 1109.4h3.6v3.6h-3.6zM707.4 1132.2h3.6v3.6h-3.6zM708.2 1101.3h3.6v3.6h-3.6zM682.4 1107.1h3.6v3.6h-3.6zM680.3 1087.4h3.6v3.6h-3.6zM728.3 1121.6h3.6v3.6h-3.6zM689.1 1109.7h3.6v3.6h-3.6zM684.3 1096.2h3.6v3.6h-3.6zM678.7 1113.5h3.6v3.6h-3.6zM712.0 1111.8h3.6v3.6h-3.6zM699.4 1108.6h3.6v3.6h-3.6zM694.8 1102.7h3.6v3.6h-3.6zM712.3 1085.7h3.6v3.6h-3.6zM680.4 1094.3h3.6v3.6h-3.6zM671.5 1090.2h3.6v3.6h-3.6zM689.8 1104.9h3.6v3.6h-3.6zM672.6 1120.6h3.6v3.6h-3.6zM684.8 1107.0h3.6v3.6h-3.6zM701.7 1109.0h3.6v3.6h-3.6zM724.4 1101.9h3.6v3.6h-3.6zM691.2 1094.1h3.6v3.6h-3.6zM689.2 1107.7h3.6v3.6h-3.6zM692.6 1123.3h3.6v3.6h-3.6zM715.1 1108.7h3.6v3.6h-3.6zM694.0 1104.0h3.6v3.6h-3.6zM697.5 1125.6h3.6v3.6h-3.6zM709.1 1100.7h3.6v3.6h-3.6zM695.8 1117.8h3.6v3.6h-3.6zM682.0 1102.1h3.6v3.6h-3.6zM679.2 1107.7h3.6v3.6h-3.6zM718.3 1094.6h3.6v3.6h-3.6zM701.5 1109.9h3.6v3.6h-3.6zM695.4 1095.6h3.6v3.6h-3.6zM703.9 1122.9h3.6v3.6h-3.6zM703.3 1115.0h3.6v3.6h-3.6zM695.8 1089.4h3.6v3.6h-3.6zM725.6 1111.3h3.6v3.6h-3.6zM700.2 1100.1h3.6v3.6h-3.6zM692.9 1105.8h3.6v3.6h-3.6zM728.7 1109.4h3.6v3.6h-3.6zM697.4 1088.8h3.6v3.6h-3.6zM707.5 1109.1h3.6v3.6h-3.6zM701.3 1107.4h3.6v3.6h-3.6zM686.6 1110.5h3.6v3.6h-3.6zM687.6 1094.4h3.6v3.6h-3.6zM727.2 1113.7h3.6v3.6h-3.6zM702.3 1104.4h3.6v3.6h-3.6zM702.0 1090.8h3.6v3.6h-3.6zM706.1 1141.8h3.6v3.6h-3.6zM726.6 1108.4h3.6v3.6h-3.6zM716.1 1083.7h3.6v3.6h-3.6zM680.8 1105.2h3.6v3.6h-3.6zM693.4 1108.4h3.6v3.6h-3.6zM688.8 1112.0h3.6v3.6h-3.6zM718.6 1099.5h3.6v3.6h-3.6zM666.3 1121.9h3.6v3.6h-3.6zM679.8 1104.2h3.6v3.6h-3.6zM703.6 1107.8h3.6v3.6h-3.6zM688.6 1091.4h3.6v3.6h-3.6zM682.0 1110.6h3.6v3.6h-3.6zM722.2 1107.5h3.6v3.6h-3.6zM673.1 1108.4h3.6v3.6h-3.6zM705.5 1095.1h3.6v3.6h-3.6zM685.8 1095.8h3.6v3.6h-3.6zM679.9 1093.2h3.6v3.6h-3.6zM715.2 1104.5h3.6v3.6h-3.6zM709.4 1096.9h3.6v3.6h-3.6zM691.3 1105.4h3.6v3.6h-3.6zM684.1 1091.4h3.6v3.6h-3.6zM710.4 1107.8h3.6v3.6h-3.6zM700.9 1128.4h3.6v3.6h-3.6zM672.9 1120.2h3.6v3.6h-3.6zM670.1 1115.6h3.6v3.6h-3.6zM685.1 1091.4h3.6v3.6h-3.6zM713.0 1121.0h3.6v3.6h-3.6zM687.4 1130.7h3.6v3.6h-3.6zM710.1 1107.2h3.6v3.6h-3.6zM693.9 1097.8h3.6v3.6h-3.6zM699.3 1094.5h3.6v3.6h-3.6zM705.8 1100.0h3.6v3.6h-3.6zM696.3 1125.3h3.6v3.6h-3.6zM711.1 1085.8h3.6v3.6h-3.6zM715.3 1122.5h3.6v3.6h-3.6zM701.1 1098.8h3.6v3.6h-3.6zM669.2 1114.3h3.6v3.6h-3.6zM706.5 1102.0h3.6v3.6h-3.6zM670.8 1112.2h3.6v3.6h-3.6zM710.2 1101.7h3.6v3.6h-3.6zM685.6 1115.8h3.6v3.6h-3.6zM699.6 1100.1h3.6v3.6h-3.6zM718.8 1121.4h3.6v3.6h-3.6zM726.7 1104.3h3.6v3.6h-3.6zM687.8 1084.6h3.6v3.6h-3.6zM695.5 1108.6h3.6v3.6h-3.6zM673.0 1124.8h3.6v3.6h-3.6zM694.0 1103.2h3.6v3.6h-3.6zM719.4 1086.6h3.6v3.6h-3.6zM674.0 1109.6h3.6v3.6h-3.6zM669.7 1106.2h3.6v3.6h-3.6zM720.9 1122.9h3.6v3.6h-3.6zM705.5 1113.4h3.6v3.6h-3.6zM702.3 1101.7h3.6v3.6h-3.6zM708.1 1099.0h3.6v3.6h-3.6zM705.8 1099.3h3.6v3.6h-3.6zM681.3 1110.2h3.6v3.6h-3.6zM706.0 1103.3h3.6v3.6h-3.6zM707.5 1122.9h3.6v3.6h-3.6zM691.6 1108.8h3.6v3.6h-3.6zM690.9 1091.5h3.6v3.6h-3.6zM705.2 1087.6h3.6v3.6h-3.6zM706.6 1120.6h3.6v3.6h-3.6zM692.2 1109.6h3.6v3.6h-3.6zM697.2 1101.7h3.6v3.6h-3.6zM705.2 1098.0h3.6v3.6h-3.6zM697.6 1105.6h3.6v3.6h-3.6zM687.3 1123.4h3.6v3.6h-3.6zM718.0 1094.8h3.6v3.6h-3.6zM704.7 1089.0h3.6v3.6h-3.6zM692.0 1106.2h3.6v3.6h-3.6zM690.5 1108.9h3.6v3.6h-3.6zM707.4 1133.3h3.6v3.6h-3.6zM731.0 1105.4h3.6v3.6h-3.6zM691.9 1108.1h3.6v3.6h-3.6zM693.5 1105.4h3.6v3.6h-3.6zM717.9 1097.9h3.6v3.6h-3.6zM709.4 1113.0h3.6v3.6h-3.6zM704.2 1120.7h3.6v3.6h-3.6zM685.5 1108.9h3.6v3.6h-3.6zM684.6 1107.7h3.6v3.6h-3.6zM716.3 1082.7h3.6v3.6h-3.6zM712.5 1109.7h3.6v3.6h-3.6zM696.2 1110.5h3.6v3.6h-3.6zM683.2 1109.7h3.6v3.6h-3.6zM709.9 1128.7h3.6v3.6h-3.6zM701.8 1093.6h3.6v3.6h-3.6zM693.5 1100.3h3.6v3.6h-3.6zM702.2 1107.4h3.6v3.6h-3.6zM683.3 1108.9h3.6v3.6h-3.6zM683.2 1104.6h3.6v3.6h-3.6zM700.9 1124.3h3.6v3.6h-3.6zM686.9 1092.2h3.6v3.6h-3.6zM698.8 1105.5h3.6v3.6h-3.6zM719.0 1087.3h3.6v3.6h-3.6zM711.6 1101.5h3.6v3.6h-3.6zM686.1 1091.3h3.6v3.6h-3.6zM697.2 1098.8h3.6v3.6h-3.6zM691.4 1108.9h3.6v3.6h-3.6zM691.6 1107.8h3.6v3.6h-3.6zM685.5 1126.1h3.6v3.6h-3.6zM691.1 1129.8h3.6v3.6h-3.6zM682.3 1092.5h3.6v3.6h-3.6zM703.5 1113.0h3.6v3.6h-3.6zM695.5 1104.2h3.6v3.6h-3.6zM695.3 1120.1h3.6v3.6h-3.6zM667.5 1104.7h3.6v3.6h-3.6zM709.3 1094.4h3.6v3.6h-3.6zM747.2 1109.6h3.6v3.6h-3.6zM695.5 1099.0h3.6v3.6h-3.6zM667.7 1073.5h3.6v3.6h-3.6zM694.5 1112.3h3.6v3.6h-3.6zM682.9 1118.0h3.6v3.6h-3.6zM691.7 1091.0h3.6v3.6h-3.6zM684.6 1109.5h3.6v3.6h-3.6zM700.2 1115.2h3.6v3.6h-3.6zM716.9 1118.5h3.6v3.6h-3.6zM687.9 1089.9h3.6v3.6h-3.6zM690.7 1097.1h3.6v3.6h-3.6zM685.7 1093.1h3.6v3.6h-3.6zM711.6 1103.5h3.6v3.6h-3.6zM654.4 1137.4h3.6v3.6h-3.6zM697.7 1100.6h3.6v3.6h-3.6zM680.3 1104.2h3.6v3.6h-3.6zM683.7 1084.0h3.6v3.6h-3.6zM710.0 1108.0h3.6v3.6h-3.6zM707.4 1108.5h3.6v3.6h-3.6zM685.6 1104.3h3.6v3.6h-3.6zM710.7 1096.4h3.6v3.6h-3.6zM719.8 1114.0h3.6v3.6h-3.6zM703.0 1112.0h3.6v3.6h-3.6zM705.4 1108.3h3.6v3.6h-3.6zM673.7 1100.5h3.6v3.6h-3.6zM692.9 1109.7h3.6v3.6h-3.6zM691.0 1116.5h3.6v3.6h-3.6zM702.5 1107.9h3.6v3.6h-3.6zM684.7 1127.2h3.6v3.6h-3.6zM678.4 1116.2h3.6v3.6h-3.6zM668.3 1131.4h3.6v3.6h-3.6zM696.4 1118.7h3.6v3.6h-3.6zM711.9 1122.8h3.6v3.6h-3.6zM728.6 1094.9h3.6v3.6h-3.6zM698.7 1097.2h3.6v3.6h-3.6zM698.6 1099.4h3.6v3.6h-3.6zM693.5 1115.8h3.6v3.6h-3.6zM696.6 1113.6h3.6v3.6h-3.6zM705.1 1088.8h3.6v3.6h-3.6zM682.7 1116.2h3.6v3.6h-3.6zM697.3 1105.8h3.6v3.6h-3.6zM692.4 1091.3h3.6v3.6h-3.6zM688.5 1094.9h3.6v3.6h-3.6zM678.6 1104.3h3.6v3.6h-3.6zM700.1 1112.9h3.6v3.6h-3.6zM685.3 1091.8h3.6v3.6h-3.6zM684.3 1105.9h3.6v3.6h-3.6zM724.3 1117.2h3.6v3.6h-3.6zM675.9 1094.3h3.6v3.6h-3.6zM678.7 1093.6h3.6v3.6h-3.6zM683.4 1090.5h3.6v3.6h-3.6zM682.2 1104.4h3.6v3.6h-3.6zM686.2 1090.1h3.6v3.6h-3.6zM709.0 1140.0h3.6v3.6h-3.6zM667.3 1109.4h3.6v3.6h-3.6zM686.2 1124.2h3.6v3.6h-3.6zM694.0 1094.0h3.6v3.6h-3.6zM695.1 1097.7h3.6v3.6h-3.6zM677.6 1086.5h3.6v3.6h-3.6zM694.4 1119.0h3.6v3.6h-3.6zM711.4 1130.2h3.6v3.6h-3.6zM713.3 1103.2h3.6v3.6h-3.6zM710.7 1105.7h3.6v3.6h-3.6zM706.7 1099.9h3.6v3.6h-3.6zM707.6 1114.9h3.6v3.6h-3.6zM695.0 1116.5h3.6v3.6h-3.6zM665.5 1086.5h3.6v3.6h-3.6zM689.9 1124.9h3.6v3.6h-3.6zM679.8 1113.8h3.6v3.6h-3.6zM667.8 1111.9h3.6v3.6h-3.6zM710.3 1098.5h3.6v3.6h-3.6zM676.4 1075.2h3.6v3.6h-3.6zM696.8 1095.1h3.6v3.6h-3.6zM701.6 1126.6h3.6v3.6h-3.6zM701.6 1094.5h3.6v3.6h-3.6zM684.9 1121.8h3.6v3.6h-3.6zM690.8 1095.8h3.6v3.6h-3.6zM661.1 1101.6h3.6v3.6h-3.6zM707.5 1113.6h3.6v3.6h-3.6zM689.3 1095.1h3.6v3.6h-3.6zM682.4 1103.5h3.6v3.6h-3.6zM727.4 1119.5h3.6v3.6h-3.6zM683.9 1104.3h3.6v3.6h-3.6zM670.5 1101.6h3.6v3.6h-3.6zM713.3 1107.8h3.6v3.6h-3.6zM689.8 1097.1h3.6v3.6h-3.6zM705.5 1118.1h3.6v3.6h-3.6zM707.8 1099.1h3.6v3.6h-3.6zM697.0 1124.1h3.6v3.6h-3.6zM699.2 1114.0h3.6v3.6h-3.6zM698.4 1112.8h3.6v3.6h-3.6zM690.3 1103.2h3.6v3.6h-3.6zM690.8 1090.4h3.6v3.6h-3.6zM707.5 1094.6h3.6v3.6h-3.6zM718.9 1111.0h3.6v3.6h-3.6zM700.4 1119.8h3.6v3.6h-3.6zM693.7 1104.8h3.6v3.6h-3.6zM694.7 1108.8h3.6v3.6h-3.6zM688.1 1116.4h3.6v3.6h-3.6zM666.9 1102.0h3.6v3.6h-3.6zM718.5 1098.9h3.6v3.6h-3.6zM689.7 1103.4h3.6v3.6h-3.6zM689.1 1112.0h3.6v3.6h-3.6zM686.5 1098.4h3.6v3.6h-3.6zM713.3 1111.3h3.6v3.6h-3.6zM700.4 1095.6h3.6v3.6h-3.6zM698.6 1101.6h3.6v3.6h-3.6zM680.9 1105.0h3.6v3.6h-3.6zM703.8 1118.8h3.6v3.6h-3.6zM720.8 1100.6h3.6v3.6h-3.6zM660.4 1112.5h3.6v3.6h-3.6zM702.3 1126.0h3.6v3.6h-3.6zM693.8 1110.5h3.6v3.6h-3.6zM705.2 1119.7h3.6v3.6h-3.6zM689.3 1094.6h3.6v3.6h-3.6zM704.4 1107.1h3.6v3.6h-3.6zM686.0 1101.4h3.6v3.6h-3.6zM679.0 1087.5h3.6v3.6h-3.6zM686.6 1106.6h3.6v3.6h-3.6zM683.0 1124.1h3.6v3.6h-3.6zM704.3 1132.0h3.6v3.6h-3.6zM704.1 1133.2h3.6v3.6h-3.6zM690.6 1146.9h3.6v3.6h-3.6zM708.1 1158.0h3.6v3.6h-3.6zM718.0 1132.4h3.6v3.6h-3.6zM675.5 1125.9h3.6v3.6h-3.6zM706.7 1120.2h3.6v3.6h-3.6zM685.4 1121.6h3.6v3.6h-3.6zM718.0 1131.1h3.6v3.6h-3.6zM699.6 1178.5h3.6v3.6h-3.6zM686.0 1135.5h3.6v3.6h-3.6zM690.0 1120.1h3.6v3.6h-3.6zM691.6 1120.8h3.6v3.6h-3.6zM706.5 1132.1h3.6v3.6h-3.6zM718.4 1123.1h3.6v3.6h-3.6zM695.5 1136.0h3.6v3.6h-3.6zM687.9 1118.4h3.6v3.6h-3.6zM711.3 1134.1h3.6v3.6h-3.6zM695.2 1147.7h3.6v3.6h-3.6zM715.4 1119.0h3.6v3.6h-3.6zM678.4 1143.7h3.6v3.6h-3.6zM709.4 1136.6h3.6v3.6h-3.6zM714.9 1152.5h3.6v3.6h-3.6zM710.4 1159.4h3.6v3.6h-3.6zM678.3 1148.7h3.6v3.6h-3.6zM670.1 1117.7h3.6v3.6h-3.6zM699.2 1127.8h3.6v3.6h-3.6zM722.5 1158.7h3.6v3.6h-3.6zM696.3 1125.8h3.6v3.6h-3.6zM709.7 1144.1h3.6v3.6h-3.6zM706.6 1147.1h3.6v3.6h-3.6zM703.9 1125.6h3.6v3.6h-3.6zM701.3 1136.2h3.6v3.6h-3.6zM708.1 1121.4h3.6v3.6h-3.6zM712.6 1133.7h3.6v3.6h-3.6zM713.2 1146.1h3.6v3.6h-3.6zM706.6 1129.8h3.6v3.6h-3.6zM682.1 1141.7h3.6v3.6h-3.6zM695.4 1127.7h3.6v3.6h-3.6zM694.1 1144.6h3.6v3.6h-3.6zM696.4 1117.7h3.6v3.6h-3.6zM691.8 1122.8h3.6v3.6h-3.6zM686.0 1168.6h3.6v3.6h-3.6zM698.6 1146.2h3.6v3.6h-3.6zM716.2 1147.4h3.6v3.6h-3.6zM692.2 1145.5h3.6v3.6h-3.6zM716.2 1128.9h3.6v3.6h-3.6zM712.0 1150.3h3.6v3.6h-3.6zM710.0 1122.7h3.6v3.6h-3.6zM717.2 1117.9h3.6v3.6h-3.6zM696.4 1120.6h3.6v3.6h-3.6zM691.4 1150.8h3.6v3.6h-3.6zM709.0 1124.7h3.6v3.6h-3.6zM684.6 1120.3h3.6v3.6h-3.6zM706.3 1133.6h3.6v3.6h-3.6zM695.0 1152.9h3.6v3.6h-3.6zM689.5 1125.2h3.6v3.6h-3.6zM711.7 1137.7h3.6v3.6h-3.6zM703.2 1128.8h3.6v3.6h-3.6zM716.5 1124.5h3.6v3.6h-3.6zM702.7 1123.6h3.6v3.6h-3.6zM693.6 1171.0h3.6v3.6h-3.6zM687.0 1170.7h3.6v3.6h-3.6zM708.2 1127.3h3.6v3.6h-3.6zM693.3 1142.9h3.6v3.6h-3.6zM712.3 1167.0h3.6v3.6h-3.6zM711.8 1133.5h3.6v3.6h-3.6zM706.4 1128.2h3.6v3.6h-3.6zM708.4 1162.4h3.6v3.6h-3.6zM692.2 1135.6h3.6v3.6h-3.6zM726.8 917.5h3.6v3.6h-3.6zM740.3 910.6h3.6v3.6h-3.6zM672.6 923.0h3.6v3.6h-3.6zM724.1 912.1h3.6v3.6h-3.6zM722.0 919.7h3.6v3.6h-3.6zM690.0 915.0h3.6v3.6h-3.6zM717.8 913.7h3.6v3.6h-3.6zM672.8 922.0h3.6v3.6h-3.6zM661.3 910.1h3.6v3.6h-3.6zM699.8 910.2h3.6v3.6h-3.6zM718.6 912.3h3.6v3.6h-3.6zM675.7 914.4h3.6v3.6h-3.6zM669.0 908.3h3.6v3.6h-3.6zM682.2 927.5h3.6v3.6h-3.6zM730.9 916.4h3.6v3.6h-3.6zM677.3 920.8h3.6v3.6h-3.6zM714.7 913.2h3.6v3.6h-3.6zM716.3 922.7h3.6v3.6h-3.6zM707.9 913.9h3.6v3.6h-3.6zM718.5 922.7h3.6v3.6h-3.6zM726.9 915.4h3.6v3.6h-3.6zM667.1 909.7h3.6v3.6h-3.6zM657.6 921.8h3.6v3.6h-3.6zM735.7 915.0h3.6v3.6h-3.6zM671.8 911.5h3.6v3.6h-3.6zM735.4 919.2h3.6v3.6h-3.6zM726.9 916.0h3.6v3.6h-3.6zM711.2 920.3h3.6v3.6h-3.6zM722.5 921.9h3.6v3.6h-3.6zM670.0 908.1h3.6v3.6h-3.6zM661.4 919.4h3.6v3.6h-3.6zM707.0 916.5h3.6v3.6h-3.6zM727.4 920.5h3.6v3.6h-3.6zM658.1 910.1h3.6v3.6h-3.6zM704.1 922.6h3.6v3.6h-3.6zM704.2 912.4h3.6v3.6h-3.6zM660.2 915.2h3.6v3.6h-3.6zM697.2 911.8h3.6v3.6h-3.6zM725.8 910.0h3.6v3.6h-3.6zM742.4 918.1h3.6v3.6h-3.6zM689.0 921.9h3.6v3.6h-3.6zM717.0 907.8h3.6v3.6h-3.6zM738.9 916.2h3.6v3.6h-3.6zM682.4 917.2h3.6v3.6h-3.6zM708.1 927.0h3.6v3.6h-3.6zM687.6 909.0h3.6v3.6h-3.6zM712.1 920.4h3.6v3.6h-3.6zM731.1 915.5h3.6v3.6h-3.6zM699.7 918.7h3.6v3.6h-3.6zM703.0 917.6h3.6v3.6h-3.6zM686.3 916.7h3.6v3.6h-3.6zM690.9 924.1h3.6v3.6h-3.6zM668.1 921.3h3.6v3.6h-3.6zM728.5 926.2h3.6v3.6h-3.6zM658.6 919.5h3.6v3.6h-3.6zM731.2 914.5h3.6v3.6h-3.6zM698.8 913.6h3.6v3.6h-3.6zM702.0 910.9h3.6v3.6h-3.6zM669.0 918.5h3.6v3.6h-3.6zM680.5 925.0h3.6v3.6h-3.6zM682.4 922.4h3.6v3.6h-3.6zM700.8 915.7h3.6v3.6h-3.6zM694.3 923.1h3.6v3.6h-3.6zM703.1 920.2h3.6v3.6h-3.6zM731.3 916.7h3.6v3.6h-3.6zM682.7 917.2h3.6v3.6h-3.6zM654.9 917.1h3.6v3.6h-3.6zM691.1 918.3h3.6v3.6h-3.6zM676.6 913.0h3.6v3.6h-3.6zM664.4 921.3h3.6v3.6h-3.6zM711.8 915.1h3.6v3.6h-3.6zM657.1 922.2h3.6v3.6h-3.6zM717.0 922.5h3.6v3.6h-3.6zM717.2 920.3h3.6v3.6h-3.6zM714.7 917.4h3.6v3.6h-3.6zM693.6 919.1h3.6v3.6h-3.6zM659.5 915.1h3.6v3.6h-3.6zM712.3 916.4h3.6v3.6h-3.6zM656.8 915.3h3.6v3.6h-3.6zM669.5 918.6h3.6v3.6h-3.6zM701.7 919.2h3.6v3.6h-3.6zM739.0 920.6h3.6v3.6h-3.6zM709.3 927.1h3.6v3.6h-3.6zM673.5 923.0h3.6v3.6h-3.6zM721.1 914.3h3.6v3.6h-3.6zM666.6 918.6h3.6v3.6h-3.6zM730.4 920.8h3.6v3.6h-3.6zM726.0 917.4h3.6v3.6h-3.6zM728.5 923.8h3.6v3.6h-3.6zM723.7 914.0h3.6v3.6h-3.6zM656.3 919.9h3.6v3.6h-3.6zM664.8 922.6h3.6v3.6h-3.6zM712.7 917.1h3.6v3.6h-3.6zM740.5 912.2h3.6v3.6h-3.6zM702.9 924.2h3.6v3.6h-3.6zM727.7 925.6h3.6v3.6h-3.6zM704.2 911.5h3.6v3.6h-3.6zM695.4 926.7h3.6v3.6h-3.6zM689.2 922.6h3.6v3.6h-3.6zM693.2 911.8h3.6v3.6h-3.6zM729.2 914.2h3.6v3.6h-3.6zM701.7 920.4h3.6v3.6h-3.6zM729.6 919.5h3.6v3.6h-3.6zM690.4 924.6h3.6v3.6h-3.6zM717.3 904.4h3.6v3.6h-3.6zM672.0 922.0h3.6v3.6h-3.6zM674.8 922.0h3.6v3.6h-3.6zM654.6 918.2h3.6v3.6h-3.6zM736.0 921.3h3.6v3.6h-3.6zM721.6 915.9h3.6v3.6h-3.6zM710.0 917.6h3.6v3.6h-3.6zM689.3 919.7h3.6v3.6h-3.6zM738.5 919.5h3.6v3.6h-3.6zM655.7 911.9h3.6v3.6h-3.6zM737.2 921.8h3.6v3.6h-3.6zM708.2 919.6h3.6v3.6h-3.6zM682.8 908.7h3.6v3.6h-3.6zM720.8 911.8h3.6v3.6h-3.6zM732.8 915.8h3.6v3.6h-3.6zM666.0 910.3h3.6v3.6h-3.6zM655.3 915.2h3.6v3.6h-3.6zM741.7 912.1h3.6v3.6h-3.6zM673.0 926.9h3.6v3.6h-3.6zM690.0 927.1h3.6v3.6h-3.6zM683.0 921.5h3.6v3.6h-3.6zM715.9 923.3h3.6v3.6h-3.6zM659.8 912.8h3.6v3.6h-3.6zM705.0 917.1h3.6v3.6h-3.6zM721.4 925.7h3.6v3.6h-3.6zM654.7 927.2h3.6v3.6h-3.6zM658.5 915.1h3.6v3.6h-3.6zM706.7 923.0h3.6v3.6h-3.6zM701.1 921.4h3.6v3.6h-3.6zM720.0 918.8h3.6v3.6h-3.6zM729.5 921.5h3.6v3.6h-3.6zM717.6 920.7h3.6v3.6h-3.6zM737.4 916.5h3.6v3.6h-3.6zM723.4 913.1h3.6v3.6h-3.6zM708.9 913.6h3.6v3.6h-3.6zM741.4 917.4h3.6v3.6h-3.6zM790.8 1038.3h3.6v3.6h-3.6zM789.2 1022.7h3.6v3.6h-3.6zM764.1 988.8h3.6v3.6h-3.6zM761.6 1029.0h3.6v3.6h-3.6zM756.2 1001.6h3.6v3.6h-3.6zM774.5 987.7h3.6v3.6h-3.6zM752.9 994.4h3.6v3.6h-3.6zM781.5 1020.3h3.6v3.6h-3.6zM783.4 1003.6h3.6v3.6h-3.6zM747.6 971.0h3.6v3.6h-3.6zM790.2 1010.9h3.6v3.6h-3.6zM759.9 1018.0h3.6v3.6h-3.6zM758.8 1026.1h3.6v3.6h-3.6zM794.7 1023.3h3.6v3.6h-3.6zM779.5 1014.6h3.6v3.6h-3.6zM866.9 959.2h3.6v3.6h-3.6zM880.2 963.2h3.6v3.6h-3.6zM911.2 962.2h3.6v3.6h-3.6zM881.7 988.8h3.6v3.6h-3.6zM884.7 1045.2h3.6v3.6h-3.6zM850.2 1097.2h3.6v3.6h-3.6zM954.2 1174.2h3.6v3.6h-3.6zM795.7 1063.2h3.6v3.6h-3.6zM763.2 1078.2h3.6v3.6h-3.6zM775.7 1050.2h3.6v3.6h-3.6zM859.2 978.2h3.6v3.6h-3.6zM865.2 984.2h3.6v3.6h-3.6zM861.2 1015.2h3.6v3.6h-3.6zM723.2 894.2h3.6v3.6h-3.6zM687.2 923.2h3.6v3.6h-3.6zM734.2 891.2h3.6v3.6h-3.6zM727.2 912.2h3.6v3.6h-3.6z"/>
<rect x="644" y="881.5" width="228.5" height="303.2" fill="none" stroke="#333" stroke-width="2"/>
<line x1="745.4" y1="881.5" x2="745.4" y2="1184.7" stroke="#333" stroke-width="1.8"/>
<line x1="643" y1="1188" x2="959.3" y2="1188" stroke="#555" stroke-width="1.5"/>
<line x1="643" y1="873.5" x2="643" y2="1188" stroke="#555" stroke-width="1.5"/>
<line x1="634" y1="937.2" x2="643" y2="937.2" stroke="#555" stroke-width="1.5"/>
<line x1="634" y1="1063.4" x2="643" y2="1063.4" stroke="#555" stroke-width="1.5"/>
<line x1="634" y1="1188" x2="643" y2="1188" stroke="#555" stroke-width="1.5"/>
<line x1="638" y1="1025.4" x2="643" y2="1025.4" stroke="#777" stroke-width="1"/>
<line x1="638" y1="1003.2" x2="643" y2="1003.2" stroke="#777" stroke-width="1"/>
<line x1="638" y1="987.4" x2="643" y2="987.4" stroke="#777" stroke-width="1"/>
<line x1="638" y1="975.2" x2="643" y2="975.2" stroke="#777" stroke-width="1"/>
<line x1="638" y1="965.2" x2="643" y2="965.2" stroke="#777" stroke-width="1"/>
<line x1="638" y1="956.7" x2="643" y2="956.7" stroke="#777" stroke-width="1"/>
<line x1="638" y1="949.4" x2="643" y2="949.4" stroke="#777" stroke-width="1"/>
<line x1="638" y1="943.0" x2="643" y2="943.0" stroke="#777" stroke-width="1"/>
<line x1="638" y1="1151.6" x2="643" y2="1151.6" stroke="#777" stroke-width="1"/>
<line x1="638" y1="1129.4" x2="643" y2="1129.4" stroke="#777" stroke-width="1"/>
<line x1="638" y1="1113.6" x2="643" y2="1113.6" stroke="#777" stroke-width="1"/>
<line x1="638" y1="1101.4" x2="643" y2="1101.4" stroke="#777" stroke-width="1"/>
<line x1="638" y1="1091.4" x2="643" y2="1091.4" stroke="#777" stroke-width="1"/>
<line x1="638" y1="1082.9" x2="643" y2="1082.9" stroke="#777" stroke-width="1"/>
<line x1="638" y1="1075.6" x2="643" y2="1075.6" stroke="#777" stroke-width="1"/>
<line x1="638" y1="1069.2" x2="643" y2="1069.2" stroke="#777" stroke-width="1"/>
<line x1="683" y1="1188" x2="683" y2="1198" stroke="#444" stroke-width="1.6"/>
<line x1="781" y1="1188" x2="781" y2="1198" stroke="#444" stroke-width="1.6"/>
<line x1="855.3" y1="1188" x2="855.3" y2="1198" stroke="#444" stroke-width="1.6"/>
<line x1="928" y1="1188" x2="928" y2="1198" stroke="#444" stroke-width="1.6"/>
<line x1="650" y1="1188" x2="650" y2="1193" stroke="#666" stroke-width="1"/>
<line x1="662" y1="1188" x2="662" y2="1193" stroke="#666" stroke-width="1"/>
<line x1="668" y1="1188" x2="668" y2="1193" stroke="#666" stroke-width="1"/>
<line x1="690" y1="1188" x2="690" y2="1193" stroke="#666" stroke-width="1"/>
<line x1="700" y1="1188" x2="700" y2="1193" stroke="#666" stroke-width="1"/>
<line x1="712" y1="1188" x2="712" y2="1193" stroke="#666" stroke-width="1"/>
<line x1="745" y1="1188" x2="745" y2="1193" stroke="#666" stroke-width="1"/>
<line x1="760" y1="1188" x2="760" y2="1193" stroke="#666" stroke-width="1"/>
<line x1="768" y1="1188" x2="768" y2="1193" stroke="#666" stroke-width="1"/>
<line x1="772" y1="1188" x2="772" y2="1193" stroke="#666" stroke-width="1"/>
<line x1="776" y1="1188" x2="776" y2="1193" stroke="#666" stroke-width="1"/>
<line x1="790" y1="1188" x2="790" y2="1193" stroke="#666" stroke-width="1"/>
<line x1="800" y1="1188" x2="800" y2="1193" stroke="#666" stroke-width="1"/>
<line x1="810" y1="1188" x2="810" y2="1193" stroke="#666" stroke-width="1"/>
<line x1="818" y1="1188" x2="818" y2="1193" stroke="#666" stroke-width="1"/>
<line x1="824" y1="1188" x2="824" y2="1193" stroke="#666" stroke-width="1"/>
<line x1="830" y1="1188" x2="830" y2="1193" stroke="#666" stroke-width="1"/>
<line x1="840" y1="1188" x2="840" y2="1193" stroke="#666" stroke-width="1"/>
<line x1="848" y1="1188" x2="848" y2="1193" stroke="#666" stroke-width="1"/>
<line x1="870" y1="1188" x2="870" y2="1193" stroke="#666" stroke-width="1"/>
<line x1="880" y1="1188" x2="880" y2="1193" stroke="#666" stroke-width="1"/>
<line x1="890" y1="1188" x2="890" y2="1193" stroke="#666" stroke-width="1"/>
<line x1="900" y1="1188" x2="900" y2="1193" stroke="#666" stroke-width="1"/>
<line x1="910" y1="1188" x2="910" y2="1193" stroke="#666" stroke-width="1"/>
<line x1="918" y1="1188" x2="918" y2="1193" stroke="#666" stroke-width="1"/>
<line x1="925" y1="1188" x2="925" y2="1193" stroke="#666" stroke-width="1"/>
<g font-family="Liberation Sans" font-size="8" fill="#444">
<text x="610" y="941.2">10</text><text x="624" y="935.2" font-size="7">5</text>
<text x="610" y="1067.4">10</text><text x="624" y="1061.4" font-size="7">4</text>
<text x="610" y="1192.0">10</text><text x="624" y="1186.0" font-size="7">3</text>
<text x="683" y="1217" text-anchor="middle">0</text>
<text x="781" y="1217" text-anchor="middle">10</text>
<text x="788" y="1211" font-size="7">3</text>
<text x="855.3" y="1217" text-anchor="middle">10</text>
<text x="862.3" y="1211" font-size="7">4</text>
<text x="928" y="1217" text-anchor="middle">10</text>
<text x="935" y="1211" font-size="7">5</text>
</g>
<line x1="562" y1="912" x2="692" y2="979" stroke="#4a4a4a" stroke-width="1.2"/>
<line x1="988" y1="903" x2="818" y2="964.5" stroke="#4a4a4a" stroke-width="1.2"/>
</svg>
<div class="t" id="t1" style="font-size:46px;font-weight:700;text-shadow:1.10px 0 0 #231f20,-1.10px 0 0 #231f20,0 1.10px 0 #231f20,0 -1.10px 0 #231f20,0.77px 0.77px 0 #231f20,-0.77px -0.77px 0 #231f20,0.77px -0.77px 0 #231f20,-0.77px 0.77px 0 #231f20;transform:translate(422.94px,31.36px) scale(0.9580,0.8969);">成人</div>
<div class="t" id="t2" style="font-size:46px;font-weight:700;text-shadow:0.80px 0 0 #231f20,-0.80px 0 0 #231f20,0 0.80px 0 #231f20,0 -0.80px 0 #231f20,0.56px 0.56px 0 #231f20,-0.56px -0.56px 0 #231f20,0.56px -0.56px 0 #231f20,-0.56px 0.56px 0 #231f20;transform:translate(527.98px,24.89px) scale(1.1936,1.1833);">T</div>
<div class="t" id="t3" style="font-size:46px;font-weight:700;text-shadow:1.10px 0 0 #231f20,-1.10px 0 0 #231f20,0 1.10px 0 #231f20,0 -1.10px 0 #231f20,0.77px 0.77px 0 #231f20,-0.77px -0.77px 0 #231f20,0.77px -0.77px 0 #231f20,-0.77px 0.77px 0 #231f20;transform:translate(578.79px,31.91px) scale(1.0061,0.9167);">細胞性白血病リンパ腫</div>
<div class="t" id="t4" style="font-size:46px;font-weight:700;text-shadow:1.10px 0 0 #231f20,-1.10px 0 0 #231f20,0 1.10px 0 #231f20,0 -1.10px 0 #231f20,0.77px 0.77px 0 #231f20,-0.77px -0.77px 0 #231f20,0.77px -0.77px 0 #231f20,-0.77px 0.77px 0 #231f20;transform:translate(1048.10px,23.81px) scale(1.0313,1.0364);">（</div>
<div class="t" id="t5" style="font-size:46px;font-weight:700;text-shadow:0.80px 0 0 #231f20,-0.80px 0 0 #231f20,0 0.80px 0 #231f20,0 -0.80px 0 #231f20,0.56px 0.56px 0 #231f20,-0.56px -0.56px 0 #231f20,0.56px -0.56px 0 #231f20,-0.56px 0.56px 0 #231f20;transform:translate(1095.00px,27.18px) scale(1.2326,1.0375);">ATLL)</div>
<div class="t" id="l1" style="font-size:32px;font-weight:700;text-shadow:1.25px 0 0 #231f20,-1.25px 0 0 #231f20,0 1.25px 0 #231f20,0 -1.25px 0 #231f20,0.88px 0.88px 0 #231f20,-0.88px -0.88px 0 #231f20,0.88px -0.88px 0 #231f20,-0.88px 0.88px 0 #231f20;transform:translate(33.78px,155.46px) scale(1.0473,0.8928);">ゲノムワイド</div>
<div class="t" id="l2" style="font-size:32px;font-weight:700;text-shadow:0.50px 0 0 #231f20,-0.50px 0 0 #231f20,0 0.50px 0 #231f20,0 -0.50px 0 #231f20,0.35px 0.35px 0 #231f20,-0.35px -0.35px 0 #231f20,0.35px -0.35px 0 #231f20,-0.35px 0.35px 0 #231f20;transform:translate(60.74px,199.59px) scale(1.2501,1.0415);">CRISPR</div>
<div class="t" id="l3" style="font-size:32px;font-weight:700;text-shadow:1.25px 0 0 #231f20,-1.25px 0 0 #231f20,0 1.25px 0 #231f20,0 -1.25px 0 #231f20,0.88px 0.88px 0 #231f20,-0.88px -0.88px 0 #231f20,0.88px -0.88px 0 #231f20,-0.88px 0.88px 0 #231f20;transform:translate(16.40px,241.00px) scale(1.0243,0.9414);">スクリーニング</div>
<div class="t" id="l4a" style="font-size:32px;font-weight:700;letter-spacing:4px;text-shadow:0.45px 0 0 #231f20,-0.45px 0 0 #231f20,0 0.45px 0 #231f20,0 -0.45px 0 #231f20,0.32px 0.32px 0 #231f20,-0.32px -0.32px 0 #231f20,0.32px -0.32px 0 #231f20,-0.32px 0.32px 0 #231f20;transform:translate(7.44px,301.75px) scale(1.1948,1.1590);">19,114</div>
<div class="t" id="l4b" style="font-size:32px;font-weight:700;text-shadow:0.45px 0 0 #231f20,-0.45px 0 0 #231f20,0 0.45px 0 #231f20,0 -0.45px 0 #231f20,0.32px 0.32px 0 #231f20,-0.32px -0.32px 0 #231f20,0.32px -0.32px 0 #231f20,-0.32px 0.32px 0 #231f20;transform:translate(160.18px,304.96px) scale(1.0669,0.9772);">遺伝子</div>
<div class="t" id="m1" style="font-size:32px;font-weight:700;text-shadow:0.55px 0 0 #231f20,-0.55px 0 0 #231f20,0 0.55px 0 #231f20,0 -0.55px 0 #231f20,0.39px 0.39px 0 #231f20,-0.39px -0.39px 0 #231f20,0.39px -0.39px 0 #231f20,-0.39px 0.39px 0 #231f20;transform:translate(86.16px,578.93px) scale(1.0720,1.0345);">機能的</div>
<div class="t" id="m2" style="font-size:32px;font-weight:700;text-shadow:0.55px 0 0 #231f20,-0.55px 0 0 #231f20,0 0.55px 0 #231f20,0 -0.55px 0 #231f20,0.39px 0.39px 0 #231f20,-0.39px -0.39px 0 #231f20,0.39px -0.39px 0 #231f20,-0.39px 0.39px 0 #231f20;transform:translate(104.92px,630.88px) scale(0.9870,0.9732);">確認</div>
<div class="t" id="b1" style="font-size:32px;font-weight:700;text-shadow:0.55px 0 0 #231f20,-0.55px 0 0 #231f20,0 0.55px 0 #231f20,0 -0.55px 0 #231f20,0.39px 0.39px 0 #231f20,-0.39px -0.39px 0 #231f20,0.39px -0.39px 0 #231f20,-0.39px 0.39px 0 #231f20;transform:translate(103.93px,1013.91px) scale(1.0176,0.9437);">形質</div>
<div class="t" id="b2" style="font-size:32px;font-weight:700;text-shadow:0.55px 0 0 #231f20,-0.55px 0 0 #231f20,0 0.55px 0 #231f20,0 -0.55px 0 #231f20,0.39px 0.39px 0 #231f20,-0.39px -0.39px 0 #231f20,0.39px -0.39px 0 #231f20,-0.39px 0.39px 0 #231f20;transform:translate(104.91px,1057.94px) scale(0.9859,0.9403);">確認</div>
<div class="t" id="nka" style="font-size:40px;;transform:translate(333.22px,159.42px) scale(1.1924,1.1934);">NK</div>
<div class="t" id="nkb" style="font-size:40px;;transform:translate(412.40px,159.49px) scale(1.1475,1.1531);">細胞</div>
<div class="t" id="atlla" style="font-size:40px;;transform:translate(653.80px,100.76px) scale(1.2000,1.0072);">ATLL</div>
<div class="t" id="atllb" style="font-size:40px;;transform:translate(779.00px,100.20px) scale(1.1250,1.0000);">細胞</div>
<div class="t" id="haij" style="font-size:40px;;transform:translate(554.00px,151.84px) scale(1.2257,1.1600);">排除</div>
<div class="t" id="tohi" style="font-size:40px;;transform:translate(556.72px,322.19px) scale(1.2603,1.2057);">逃避</div>
<div class="t" id="cfa" style="font-size:62px;font-weight:700;color:#4a72b8;text-shadow:1.30px 0 0 #4a72b8,-1.30px 0 0 #4a72b8,0 1.30px 0 #4a72b8,0 -1.30px 0 #4a72b8,0.91px 0.91px 0 #4a72b8,-0.91px -0.91px 0 #4a72b8,0.91px -0.91px 0 #4a72b8,-0.91px 0.91px 0 #4a72b8;transform:translate(915.78px,230.16px) scale(1.2217,1.1045);">CD48</div>
<div class="t" id="cfb" style="font-size:62px;font-weight:700;color:#4a72b8;text-shadow:1.30px 0 0 #4a72b8,-1.30px 0 0 #4a72b8,0 1.30px 0 #4a72b8,0 -1.30px 0 #4a72b8,0.91px 0.91px 0 #4a72b8,-0.91px -0.91px 0 #4a72b8,0.91px -0.91px 0 #4a72b8,-0.91px 0.91px 0 #4a72b8;transform:translate(1129.97px,238.38px) scale(0.9352,0.8909);">発見</div>
<div class="t" id="sei" style="font-size:40px;;transform:translate(418.96px,507.87px) scale(1.1281,1.1059);">生存</div>
<div class="t" id="atll2" style="font-size:40px;;transform:translate(413.00px,550.86px) scale(1.3241,1.2395);">ATLL</div>
<div class="t" id="saib" style="font-size:40px;;transform:translate(421.00px,597.18px) scale(1.1381,1.1059);">細胞</div>
<div class="t" id="cd48k" style="font-size:44px;;transform:translate(884.98px,470.16px) scale(1.2056,1.0712);">CD48</div>
<div class="t" id="ko" style="font-size:40px;;transform:translate(835.01px,516.57px) scale(1.1568,1.1546);">ノックアウト</div>
<div class="t" id="nkta" style="font-size:52px;font-weight:700;color:#cc1a1f;text-shadow:1.20px 0 0 #cc1a1f,-1.20px 0 0 #cc1a1f,0 1.20px 0 #cc1a1f,0 -1.20px 0 #cc1a1f,0.84px 0.84px 0 #cc1a1f,-0.84px -0.84px 0 #cc1a1f,0.84px -0.84px 0 #cc1a1f,-0.84px 0.84px 0 #cc1a1f;transform:translate(841.67px,595.27px) scale(1.3649,1.2162);">NK</div>
<div class="t" id="nktb" style="font-size:52px;font-weight:700;color:#cc1a1f;text-shadow:1.20px 0 0 #cc1a1f,-1.20px 0 0 #cc1a1f,0 1.20px 0 #cc1a1f,0 -1.20px 0 #cc1a1f,0.84px 0.84px 0 #cc1a1f,-0.84px -0.84px 0 #cc1a1f,0.84px -0.84px 0 #cc1a1f,-0.84px 0.84px 0 #cc1a1f;transform:translate(963.06px,598.98px) scale(1.1359,1.0569);">耐性</div>
<div class="t" id="ctrl" style="font-size:40px;;transform:translate(833.31px,697.98px) scale(1.1463,1.1595);">コントロール</div>
<div class="t" id="ra" style="font-size:30px;;transform:translate(542.34px,793.10px) scale(1.3282,1.2519);">NK</div>
<div class="t" id="rb" style="font-size:30px;;transform:translate(611.00px,793.90px) scale(1.0900,1.1074);">細胞</div>
<div class="t" id="rc" style="font-size:30px;;transform:translate(693.14px,792.70px) scale(1.3280,1.2519);">:ATLL</div>
<div class="t" id="rd" style="font-size:30px;;transform:translate(812.00px,793.90px) scale(1.1735,1.1074);">細胞</div>
<div class="t" id="atll3" style="font-size:40px;;transform:translate(430.79px,865.14px) scale(1.3176,1.3077);">ATLL</div>
<div class="t" id="saib3" style="font-size:40px;;transform:translate(438.39px,915.72px) scale(1.1329,1.1274);">細胞</div>
<div class="t" id="na" style="font-size:40px;;transform:translate(1005.80px,874.26px) scale(1.1948,1.1351);">正常</div>
<div class="t" id="nb" style="font-size:40px;;transform:translate(1110.57px,869.64px) scale(1.2359,1.2929);">T</div>
<div class="t" id="nc" style="font-size:40px;;transform:translate(1154.60px,872.29px) scale(1.1301,1.1531);">細胞</div>
<div class="t" id="o1" style="font-size:56px;font-weight:700;color:#d0601e;text-shadow:0.90px 0 0 #d0601e,-0.90px 0 0 #d0601e,0 0.90px 0 #d0601e,0 -0.90px 0 #d0601e,0.63px 0.63px 0 #d0601e,-0.63px -0.63px 0 #d0601e,0.63px -0.63px 0 #d0601e,-0.63px 0.63px 0 #d0601e;transform:translate(415.22px,1100.63px) scale(1.3858,1.1127);">CD48</div>
<div class="t" id="o2" style="font-size:56px;font-weight:700;color:#d0601e;text-shadow:1.30px 0 0 #d0601e,-1.30px 0 0 #d0601e,0 1.30px 0 #d0601e,0 -1.30px 0 #d0601e,0.91px 0.91px 0 #d0601e,-0.91px -0.91px 0 #d0601e,0.91px -0.91px 0 #d0601e,-0.91px 0.91px 0 #d0601e;transform:translate(421.84px,1164.98px) scale(1.0796,0.9658);">ダウン</div>
<div class="t" id="o3" style="font-size:56px;font-weight:700;color:#d0601e;text-shadow:1.30px 0 0 #d0601e,-1.30px 0 0 #d0601e,0 1.30px 0 #d0601e,0 -1.30px 0 #d0601e,0.91px 0.91px 0 #d0601e,-0.91px -0.91px 0 #d0601e,0.91px -0.91px 0 #d0601e,-0.91px 0.91px 0 #d0601e;transform:translate(311.32px,1235.93px) scale(1.0466,0.8437);">レギュレーション</div>
<div class="t" id="cd7" style="font-size:34px;;transform:translate(758.01px,1208.91px) scale(1.1673,1.2852);">CD7</div>
</body></html>
